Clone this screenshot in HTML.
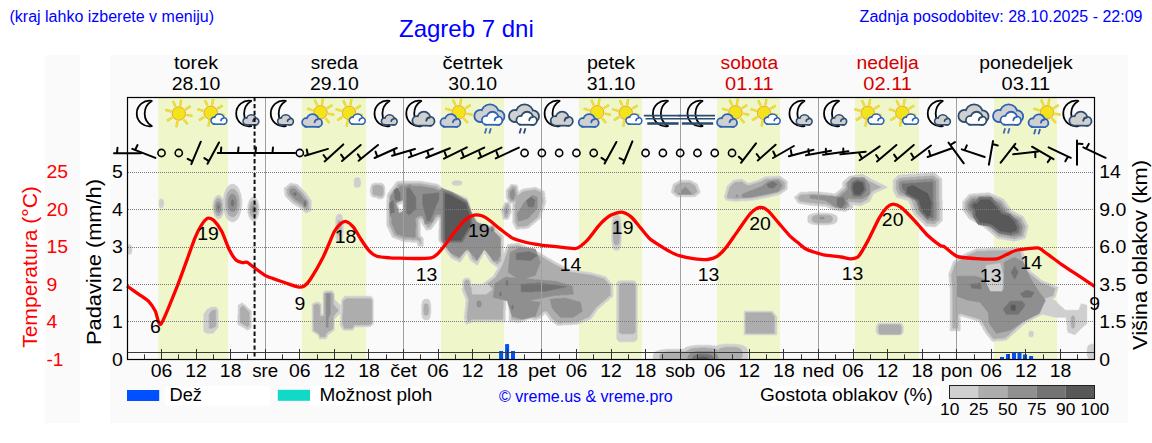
<!DOCTYPE html>
<html><head><meta charset="utf-8"><style>
html,body{margin:0;padding:0;background:#fff;overflow:hidden;width:1152px;height:443px;}
svg{display:block;font-family:"Liberation Sans",sans-serif;}
</style></head><body>
<svg width="1152" height="443" viewBox="0 0 1152 443">
<rect x="45" y="55" width="35" height="368" fill="#fafafa"/>
<rect x="110" y="55" width="1018" height="368" fill="#fafafa"/>
<rect x="158.3" y="97" width="69.7" height="262" fill="#eff6c9"/>
<rect x="301.8" y="97" width="64.3" height="262" fill="#eff6c9"/>
<rect x="441.0" y="97" width="63.0" height="262" fill="#eff6c9"/>
<rect x="579.0" y="97" width="63.0" height="262" fill="#eff6c9"/>
<rect x="717.0" y="97" width="63.0" height="262" fill="#eff6c9"/>
<rect x="855.0" y="97" width="64.0" height="262" fill="#eff6c9"/>
<rect x="994.0" y="97" width="63.0" height="262" fill="#eff6c9"/>
<path d="M1090.8,344.2 1090.2,344.8 1089.2,344.8 1088.2,345.8 1088.2,346.2 1087.8,346.8 1087.8,347.8 1087.2,348.2 1087.2,355.8 1087.8,356.2 1087.8,357.2 1088.2,357.8 1088.2,358.2 1088.8,358.8 1093.8,358.8 1093.8,344.2ZM722.8,344.2 722.2,344.8 719.8,344.8 719.2,345.2 717.8,345.2 717.2,345.8 716.8,345.8 716.2,346.2 715.2,346.2 714.8,345.8 711.8,345.8 711.2,345.2 694.8,345.2 694.2,345.8 691.2,345.8 690.8,346.2 689.2,346.2 688.8,346.8 687.8,346.8 687.2,347.2 686.2,347.2 685.8,347.8 685.2,347.8 684.2,348.8 683.8,348.8 683.2,349.2 665.2,349.2 664.8,349.8 661.2,349.8 660.8,350.2 659.2,350.2 658.8,350.8 657.8,350.8 657.2,351.2 656.2,351.2 655.2,352.2 654.8,352.2 654.2,352.8 654.2,353.2 653.8,353.8 653.8,354.2 653.2,354.8 653.2,358.8 747.2,358.8 747.2,357.8 747.8,357.2 747.8,350.8 747.2,350.2 747.2,349.2 746.8,348.8 746.8,348.2 745.2,346.8 744.8,346.8 744.2,346.2 743.8,346.2 743.2,345.8 742.8,345.8 742.2,345.2 740.8,345.2 740.2,344.8 737.8,344.8 737.2,344.2ZM1029.8,331.2 1029.2,331.8 1029.2,332.8 1028.8,333.2 1028.8,334.8 1029.2,335.2 1029.2,336.2 1029.8,336.8 1032.2,336.8 1032.8,336.2 1033.2,336.2 1033.2,331.8 1032.8,331.8 1032.2,331.2ZM878.2,323.2 877.8,323.8 877.8,324.2 876.8,325.2 876.8,325.8 876.2,326.2 876.2,332.2 877.2,333.2 877.2,333.8 878.2,334.8 901.2,334.8 902.2,333.8 902.2,333.2 903.2,332.2 903.2,326.2 902.8,325.8 902.8,325.2 901.8,324.2 901.8,323.8 901.2,323.2ZM744.2,311.2 744.2,334.8 776.8,334.8 776.8,316.2 774.2,313.8 774.2,313.2 772.2,311.2ZM211.2,307.2 210.8,307.8 210.2,307.8 209.8,308.2 209.2,308.2 208.8,308.8 208.2,308.8 207.8,309.2 207.2,309.2 206.8,309.8 206.8,310.2 205.2,311.8 205.2,312.2 204.2,313.2 204.2,313.8 203.8,314.2 203.8,331.2 204.8,332.2 205.2,332.2 206.2,333.2 213.2,333.2 214.2,332.2 214.2,331.8 216.8,329.2 216.8,328.8 218.2,327.2 218.2,310.2 217.8,309.8 217.8,309.2 216.8,308.2 216.8,307.8 216.2,307.2ZM242.2,302.8 241.8,303.2 241.2,303.2 240.2,304.2 239.8,304.2 239.2,304.8 238.8,304.8 238.2,305.2 238.2,314.2 237.8,314.8 237.8,324.2 238.2,324.8 238.8,324.8 239.2,325.2 239.8,325.2 240.8,326.2 241.2,326.2 241.8,326.8 242.2,326.8 243.2,327.8 243.8,327.8 244.2,328.2 244.8,328.2 245.8,329.2 246.2,329.2 246.8,329.8 247.2,329.8 247.8,330.2 248.2,329.8 248.8,329.8 250.2,328.2 250.8,328.2 251.2,327.8 251.2,310.8 249.2,308.8 248.8,308.8 244.8,304.8 244.2,304.8ZM424.2,299.2 422.8,300.8 422.8,301.2 422.2,301.8 422.2,303.8 421.8,304.2 421.8,314.8 422.2,315.2 422.2,317.2 422.8,317.8 422.8,318.2 424.2,319.8 428.2,319.8 429.8,318.2 429.8,317.2 430.2,316.8 430.2,314.8 430.8,314.2 430.8,304.8 430.2,304.2 430.2,302.2 429.8,301.8 429.8,300.8 428.2,299.2ZM325.2,290.8 324.2,291.8 323.8,291.8 323.2,292.2 323.2,313.8 322.8,314.2 321.8,314.2 321.2,313.8 321.2,304.2 319.2,302.2 315.2,302.2 314.8,302.8 314.2,302.8 313.2,303.8 312.8,303.8 312.2,304.2 312.2,331.2 312.8,331.8 313.2,331.8 314.2,332.8 314.8,332.8 315.8,333.8 316.2,333.8 317.2,334.8 317.8,334.8 318.2,335.2 318.2,335.8 318.8,336.2 318.8,337.8 319.2,338.2 319.2,338.8 326.2,338.8 326.2,338.2 326.8,337.8 326.8,337.2 327.2,336.8 327.2,336.2 327.8,335.8 327.8,335.2 328.8,334.2 329.2,334.2 330.8,332.8 331.2,332.8 332.8,331.2 333.2,331.2 334.2,330.2 334.2,319.2 340.2,313.2 340.8,313.8 340.8,321.2 340.2,321.8 340.2,325.8 341.2,326.8 341.2,327.2 342.8,328.8 342.8,329.2 343.8,330.2 352.8,330.2 353.2,329.8 353.2,329.2 354.8,327.8 354.8,327.2 355.2,326.8 369.8,326.8 370.2,326.2 370.8,326.2 372.2,324.8 372.8,324.8 373.2,324.2 373.2,298.8 370.8,296.2 344.8,296.2 343.2,297.8 343.2,298.2 341.8,299.8 341.8,303.8 341.2,304.2 341.2,312.2 340.8,312.8 340.2,312.2 340.2,305.2 334.2,299.2 334.2,293.2 333.2,292.2 333.2,291.8 332.2,290.8ZM619.2,280.8 618.8,281.2 618.2,281.2 617.8,281.8 617.2,281.8 616.8,282.2 616.8,339.2 619.2,341.8 634.2,341.8 635.2,340.8 635.8,340.8 637.2,339.2 637.2,284.2 635.8,282.8 635.8,282.2 634.2,280.8ZM1009.8,247.8 1009.2,248.2 987.2,248.2 986.8,248.8 976.2,248.8 975.8,249.2 975.2,249.2 974.8,249.8 974.2,249.8 973.8,250.2 972.8,250.2 972.2,250.8 971.8,250.8 971.2,251.2 970.8,251.2 970.2,251.8 969.8,251.8 969.2,252.2 968.2,252.2 967.8,252.8 967.2,252.8 966.8,253.2 966.2,253.2 965.8,253.8 965.2,253.8 964.8,254.2 964.2,254.2 963.2,255.2 962.8,255.2 961.8,256.2 961.2,256.2 960.2,257.2 959.8,257.2 958.8,258.2 958.2,258.2 957.2,259.2 956.8,259.2 955.8,260.2 955.2,260.2 954.2,261.2 953.8,261.2 953.2,261.8 953.2,262.2 952.8,262.8 952.8,263.8 952.2,264.2 952.2,264.8 951.8,265.2 951.8,266.2 951.2,266.8 951.2,267.8 950.8,268.2 950.8,269.2 950.2,269.8 950.2,270.8 949.8,271.2 949.8,271.8 949.2,272.2 949.2,273.2 948.8,273.8 948.8,276.8 949.2,277.2 949.2,282.2 949.8,282.8 949.8,287.2 950.2,287.8 950.2,330.8 960.2,330.8 960.2,316.2 960.8,315.8 961.2,316.2 962.8,316.2 963.2,316.8 964.2,316.8 964.8,317.2 965.8,317.2 966.2,317.8 967.8,317.8 968.2,318.2 969.2,318.2 969.8,318.8 970.8,318.8 971.2,319.2 972.8,319.2 973.2,319.8 974.2,319.8 974.8,320.2 975.8,320.2 976.2,320.8 977.8,320.8 978.2,321.2 978.8,321.2 979.2,321.8 979.2,322.2 979.8,322.8 979.8,323.2 980.2,323.8 980.2,324.2 981.2,325.2 981.2,325.8 981.8,326.2 981.8,326.8 982.8,327.8 982.8,328.2 983.2,328.8 983.2,329.2 983.8,329.8 983.8,330.2 984.8,331.2 984.8,331.8 985.2,332.2 985.2,332.8 986.8,334.2 986.8,334.8 988.8,336.8 988.8,337.2 991.2,339.8 991.2,340.2 992.2,341.2 995.8,341.2 996.2,340.8 1002.8,340.8 1003.2,340.2 1006.2,340.2 1008.8,337.8 1009.2,337.8 1013.8,333.2 1014.2,333.2 1018.8,328.8 1019.2,328.8 1023.2,324.8 1023.8,324.8 1026.2,322.2 1026.8,322.2 1027.2,321.8 1027.8,321.8 1028.2,321.2 1028.8,321.2 1029.2,320.8 1029.8,320.8 1030.2,320.2 1030.8,320.2 1031.2,319.8 1031.8,319.8 1032.2,319.2 1032.8,319.2 1033.2,318.8 1033.8,318.8 1034.2,318.2 1034.8,318.2 1035.2,317.8 1035.8,317.8 1036.2,317.2 1036.8,317.2 1037.2,316.8 1037.8,316.8 1038.2,316.2 1038.8,316.2 1039.2,315.8 1039.8,315.8 1040.2,315.2 1040.8,315.2 1041.2,314.8 1041.8,314.8 1042.2,314.2 1043.2,314.2 1043.8,314.8 1045.2,314.8 1045.8,315.2 1047.8,315.2 1048.2,315.8 1049.8,315.8 1050.2,316.2 1052.2,316.2 1052.8,316.8 1054.2,316.8 1054.8,317.2 1065.8,317.2 1066.2,317.8 1066.2,319.8 1066.8,320.2 1066.8,324.8 1067.2,325.2 1067.2,329.8 1067.8,330.2 1067.8,332.2 1068.2,332.2 1068.8,332.8 1069.8,332.8 1070.2,333.2 1071.2,333.2 1071.8,333.8 1072.2,333.8 1072.8,334.2 1073.8,334.2 1074.2,334.8 1074.8,334.8 1081.8,327.8 1082.2,327.8 1084.8,325.2 1085.2,325.2 1086.8,323.8 1086.8,305.2 1086.2,305.2 1085.8,304.8 1084.2,304.8 1083.8,304.2 1082.2,304.2 1081.8,303.8 1081.2,303.8 1081.2,304.2 1080.8,304.8 1080.8,305.2 1080.2,305.8 1080.2,306.8 1079.8,307.2 1079.8,308.2 1079.2,308.8 1079.2,309.2 1078.2,310.2 1065.2,310.2 1061.8,306.8 1061.2,306.8 1055.2,300.8 1054.8,300.8 1052.8,298.8 1052.8,298.2 1053.2,297.8 1054.2,297.8 1054.8,297.2 1055.2,297.2 1055.2,296.8 1055.8,296.2 1055.8,294.8 1056.2,294.2 1056.2,293.2 1056.8,292.8 1056.8,291.8 1057.2,291.2 1057.2,289.8 1057.8,289.2 1057.8,288.2 1058.2,287.8 1058.2,287.2 1057.8,287.2 1057.2,286.8 1056.8,286.8 1056.2,286.2 1055.2,286.2 1054.8,285.8 1054.2,285.8 1053.8,285.2 1052.8,285.2 1052.2,284.8 1051.8,284.8 1051.2,284.2 1050.8,284.2 1050.2,283.8 1049.2,283.8 1048.8,283.2 1048.2,283.2 1047.8,282.8 1046.8,282.8 1046.2,282.2 1045.8,282.2 1045.2,281.8 1044.2,281.8 1043.8,281.2 1043.2,281.2 1042.8,280.8 1042.2,280.8 1041.2,279.8 1040.8,279.8 1038.2,277.2 1037.8,277.2 1035.8,275.2 1035.2,275.2 1033.2,273.2 1032.8,273.2 1030.2,270.8 1029.8,270.8 1028.8,269.8 1028.8,269.2 1028.2,268.8 1028.2,267.8 1027.8,267.2 1027.8,266.2 1027.2,265.8 1027.2,264.8 1026.8,264.2 1026.8,263.2 1026.2,262.8 1026.2,262.2 1025.8,261.8 1025.8,260.8 1025.2,260.2 1025.2,259.2 1024.8,258.8 1024.8,257.8 1024.2,257.2 1024.2,256.2 1023.8,255.8 1023.8,254.8 1023.2,254.2 1023.2,252.8 1022.8,252.2 1022.8,249.8 1022.2,249.2 1022.2,247.8ZM128.2,244.8 128.2,254.2 130.2,254.2 130.8,253.8 131.2,253.8 131.2,252.8 131.8,252.2 131.8,246.8 131.2,246.2 131.2,245.8 130.2,244.8ZM615.2,214.8 614.8,215.2 614.2,215.2 613.8,215.8 613.8,216.2 613.2,216.8 613.2,217.2 612.8,217.8 612.8,219.2 612.2,219.8 612.2,222.8 611.8,223.2 611.8,241.8 612.2,242.2 612.2,245.2 612.8,245.8 612.8,247.2 613.2,247.8 613.2,248.2 613.8,248.8 613.8,249.2 614.2,249.8 614.8,249.8 615.2,250.2 617.8,250.2 618.2,249.8 618.8,249.8 619.2,249.2 619.2,248.8 619.8,248.2 619.8,247.8 620.2,247.2 620.2,245.8 620.8,245.2 620.8,242.2 621.2,241.8 621.2,223.2 620.8,222.8 620.8,219.8 620.2,219.2 620.2,217.8 619.8,217.2 619.8,216.8 619.2,216.2 619.2,215.8 618.8,215.2 618.2,215.2 617.8,214.8ZM338.2,214.2 337.8,214.8 337.2,214.8 337.2,215.2 336.8,215.8 336.8,216.2 336.2,216.8 336.2,218.2 335.8,218.8 335.8,237.2 336.2,237.8 336.2,239.2 336.8,239.8 336.8,240.2 337.2,240.8 337.2,241.2 337.8,241.2 338.2,241.8 340.8,241.8 341.8,240.8 341.8,240.2 342.2,239.8 342.2,238.2 342.8,237.8 342.8,232.8 343.2,232.2 343.2,223.8 342.8,223.2 342.8,218.2 342.2,217.8 342.2,216.2 341.8,215.8 341.8,215.2 340.8,214.2ZM815.2,213.2 814.8,213.8 812.2,213.8 811.8,214.2 810.8,214.2 810.2,214.8 809.8,214.8 809.2,215.2 808.8,215.2 808.2,215.8 808.2,216.2 807.8,216.8 807.8,221.2 808.2,221.8 808.2,222.2 808.8,222.8 809.2,222.8 809.8,223.2 810.2,223.2 810.8,223.8 811.8,223.8 812.2,224.2 814.8,224.2 815.2,224.8 829.2,224.8 829.8,224.2 832.2,224.2 832.8,223.8 833.8,223.8 834.2,223.2 835.2,223.2 836.8,221.8 836.8,220.8 837.2,220.2 837.2,217.8 836.8,217.2 836.8,216.2 835.2,214.8 834.2,214.8 833.8,214.2 832.8,214.2 832.2,213.8 829.8,213.8 829.2,213.2ZM160.2,199.2 159.2,200.2 159.2,206.8 160.2,207.8 162.2,207.8 163.2,206.8 163.2,205.2 163.8,204.8 163.8,201.8 163.2,201.2 163.2,200.2 162.8,199.8 162.8,199.2ZM252.2,197.2 251.2,198.2 250.8,198.2 250.8,198.8 249.8,199.8 249.8,200.2 249.2,200.8 249.2,201.2 248.8,201.8 248.8,202.8 248.2,203.2 248.2,204.8 247.8,205.2 247.8,212.8 248.2,213.2 248.2,214.8 248.8,215.2 248.8,216.2 249.2,216.8 249.2,217.2 249.8,217.8 249.8,218.2 250.8,219.2 250.8,219.8 251.2,219.8 252.2,220.8 254.2,220.8 254.8,220.2 255.2,220.2 256.8,218.8 256.8,218.2 257.8,217.2 257.8,216.2 258.2,215.8 258.2,214.8 258.8,214.2 258.8,211.8 259.2,211.2 259.2,206.8 258.8,206.2 258.8,203.8 258.2,203.2 258.2,202.2 257.8,201.8 257.8,200.8 256.8,199.8 256.8,199.2 255.2,197.8 254.8,197.8 254.2,197.2ZM985.8,192.8 985.2,193.2 979.2,193.2 978.8,193.8 972.8,193.8 972.2,194.2 969.2,194.2 967.8,195.8 967.8,196.2 964.2,199.8 964.2,200.2 962.8,201.8 962.8,210.2 963.8,211.2 963.8,211.8 965.2,213.2 965.2,213.8 966.8,215.2 966.8,215.8 968.2,217.2 968.2,217.8 969.8,219.2 970.2,219.2 970.8,219.8 971.2,219.8 971.8,220.2 972.2,220.2 973.2,221.2 973.8,221.2 974.2,221.8 974.8,221.8 975.2,222.2 975.8,222.2 976.2,222.8 976.8,222.8 978.2,224.2 979.2,224.2 979.8,224.8 980.2,224.8 981.2,225.8 981.8,225.8 982.2,226.2 982.8,226.2 983.2,226.8 983.8,226.8 985.8,228.8 986.2,228.8 988.8,231.2 989.2,231.2 992.2,234.2 992.8,234.2 995.2,236.8 995.8,236.8 997.2,238.2 998.2,238.2 998.8,238.8 1001.2,238.8 1001.8,239.2 1004.2,239.2 1004.8,239.8 1006.8,239.8 1007.2,240.2 1009.8,240.2 1010.2,240.8 1012.8,240.8 1013.2,241.2 1014.8,241.2 1015.2,240.8 1016.8,240.8 1017.2,240.2 1018.8,240.2 1019.2,239.8 1020.2,239.8 1020.8,239.2 1022.2,239.2 1022.8,238.8 1024.2,238.8 1024.8,238.2 1025.2,238.2 1025.2,237.2 1025.8,236.8 1025.8,235.2 1026.2,234.8 1026.2,233.2 1026.8,232.8 1026.8,231.2 1027.2,230.8 1027.2,229.2 1027.8,228.8 1027.8,227.2 1028.2,226.8 1028.2,226.2 1027.8,225.8 1027.8,225.2 1027.2,224.8 1027.2,224.2 1026.8,223.8 1026.8,223.2 1026.2,222.8 1026.2,222.2 1025.8,221.8 1025.8,221.2 1025.2,220.8 1025.2,220.2 1024.8,219.8 1024.8,219.2 1024.2,218.8 1024.2,218.2 1023.8,217.8 1023.8,217.2 1022.8,216.2 1022.2,216.2 1021.8,215.8 1021.2,215.8 1020.8,215.2 1020.2,215.2 1019.8,214.8 1019.2,214.8 1018.8,214.2 1018.2,214.2 1017.8,213.8 1017.2,213.8 1016.8,213.2 1016.2,213.2 1015.8,212.8 1015.2,212.8 1014.8,212.2 1014.2,212.2 1013.8,211.8 1013.2,211.8 1012.8,211.2 1012.2,211.2 1011.8,210.8 1011.8,210.2 1010.2,208.8 1010.2,208.2 1009.2,207.2 1009.2,206.8 1007.8,205.2 1007.8,204.8 1006.8,203.8 1006.8,203.2 1005.8,202.2 1005.8,201.8 1004.2,200.2 1004.2,199.8 1003.8,199.2 1003.2,199.2 1002.8,198.8 1002.2,198.8 1001.8,198.2 1001.2,198.2 1000.8,197.8 999.8,197.8 999.2,197.2 998.8,197.2 998.2,196.8 997.8,196.8 997.2,196.2 996.8,196.2 996.2,195.8 995.2,195.8 994.8,195.2 994.2,195.2 993.8,194.8 993.2,194.8 992.8,194.2 991.8,194.2 991.2,193.8 990.8,193.8 990.2,193.2 989.8,193.2 989.2,192.8ZM511.2,184.2 509.8,185.8 509.8,186.2 507.2,188.8 507.2,189.2 506.2,190.2 506.2,197.8 506.8,198.2 506.8,198.8 507.2,199.2 507.2,199.8 507.8,200.2 507.8,200.8 508.2,201.2 508.2,201.8 507.8,202.2 505.2,202.2 504.8,202.8 504.8,203.2 504.2,203.8 504.2,204.2 503.8,204.8 503.8,205.2 503.2,205.8 503.2,206.2 502.8,206.8 502.8,207.2 502.2,207.8 502.2,208.2 501.8,208.8 501.8,209.2 501.2,209.8 501.2,211.2 501.8,211.8 501.8,213.2 502.2,213.8 502.2,215.8 502.8,216.2 502.8,217.8 503.2,218.2 503.2,219.2 508.2,219.2 508.2,218.8 508.8,218.2 508.8,217.8 509.2,217.2 509.2,216.8 509.8,216.2 509.8,215.2 510.2,214.8 510.2,214.2 510.8,213.8 510.8,213.2 511.2,212.8 511.2,210.2 510.8,209.8 510.8,205.2 510.2,204.8 510.2,203.8 510.8,203.2 512.2,203.2 512.8,203.8 512.8,222.8 513.2,223.2 513.2,223.8 513.8,224.2 513.8,224.8 514.2,225.2 514.2,225.8 514.8,226.2 514.8,226.8 515.2,227.2 515.2,227.8 515.8,228.2 515.8,228.8 516.2,229.2 519.2,229.2 519.8,228.8 525.2,228.8 525.8,228.2 528.2,228.2 529.2,227.2 529.8,227.2 532.2,224.8 532.8,224.8 535.2,222.2 535.8,222.2 538.2,219.8 538.8,219.8 540.2,218.2 540.2,217.8 540.8,217.2 540.8,216.2 541.2,215.8 541.2,214.8 541.8,214.2 541.8,213.2 542.2,212.8 542.2,211.8 542.8,211.2 542.8,210.2 543.2,209.8 543.2,209.2 543.8,208.8 543.8,207.8 544.2,207.2 544.2,206.2 544.8,205.8 544.8,204.8 545.2,204.2 545.2,203.2 545.8,202.8 545.8,200.8 545.2,200.2 545.2,197.2 544.8,196.8 544.8,193.2 544.2,192.8 544.2,191.2 543.8,191.2 543.2,190.8 542.8,190.8 542.2,190.2 541.8,190.2 541.2,189.8 540.8,189.8 540.2,189.2 539.2,189.2 538.8,188.8 538.2,188.8 537.8,188.2 537.2,188.2 536.8,187.8 536.2,187.8 535.8,187.2 533.8,187.2 533.2,187.8 530.8,187.8 530.2,188.2 527.2,188.2 526.8,188.8 524.2,188.8 523.8,189.2 522.2,189.2 521.2,190.2 520.8,190.2 519.2,191.8 518.8,191.8 518.2,191.2 518.2,189.2 517.8,188.8 517.8,186.8 517.2,186.2 517.2,185.2 516.2,185.2 515.8,184.8 513.2,184.8 512.8,184.2ZM231.2,184.2 230.8,184.8 230.2,184.8 229.8,185.2 229.2,185.2 227.2,187.2 227.2,187.8 226.2,188.8 226.2,189.2 225.8,189.8 225.8,190.2 225.2,190.8 225.2,191.8 224.8,192.2 224.8,193.2 224.2,193.8 224.2,195.2 223.8,195.8 223.8,198.2 222.8,199.2 222.2,198.8 222.2,198.2 221.8,197.8 221.8,197.2 220.2,195.8 219.8,195.8 219.2,195.2 217.2,195.2 214.8,197.8 214.8,198.2 214.2,198.8 214.2,199.8 213.8,200.2 213.8,201.2 213.2,201.8 213.2,204.2 212.8,204.8 212.8,209.2 213.2,209.8 213.2,212.2 213.8,212.8 213.8,213.8 214.2,214.2 214.2,215.2 214.8,215.8 214.8,216.2 217.2,218.8 219.2,218.8 219.8,218.2 220.2,218.2 221.8,216.8 221.8,216.2 222.2,215.8 222.2,215.2 222.8,214.8 222.8,213.8 223.2,213.2 223.2,211.8 223.8,211.2 224.2,211.8 224.2,212.2 224.8,212.8 224.8,213.8 225.2,214.2 225.2,215.2 225.8,215.8 225.8,216.2 226.2,216.8 226.2,217.2 227.2,218.2 227.2,218.8 229.2,220.8 229.8,220.8 230.2,221.2 230.8,221.2 231.2,221.8 233.8,221.8 234.2,221.2 234.8,221.2 235.2,220.8 235.8,220.8 237.8,218.8 237.8,218.2 238.8,217.2 238.8,216.8 239.2,216.2 239.2,215.8 239.8,215.2 239.8,214.2 240.2,213.8 240.2,212.8 240.8,212.2 240.8,210.8 241.2,210.2 241.2,207.8 241.8,207.2 241.8,198.8 241.2,198.2 241.2,195.8 240.8,195.2 240.8,193.8 240.2,193.2 240.2,192.2 239.8,191.8 239.8,190.8 239.2,190.2 239.2,189.8 238.8,189.2 238.8,188.8 237.8,187.8 237.8,187.2 235.8,185.2 235.2,185.2 234.8,184.8 234.2,184.8 233.8,184.2ZM373.8,183.2 373.2,183.8 372.8,183.8 372.2,184.2 371.8,184.2 371.8,184.8 371.2,185.2 371.2,185.8 370.8,186.2 370.8,187.8 370.2,188.2 370.2,192.2 370.8,192.8 370.8,194.8 371.2,195.2 371.2,195.8 372.2,196.8 372.8,196.8 373.2,197.2 375.2,197.2 375.8,197.8 376.8,197.8 377.2,198.2 377.8,198.2 378.2,198.8 381.8,198.8 382.2,198.2 382.8,198.2 384.2,196.8 384.2,195.2 384.8,194.8 384.8,187.2 384.2,186.8 384.2,185.2 382.8,183.8 382.2,183.8 381.8,183.2ZM290.2,183.2 288.8,184.8 288.2,184.8 285.8,187.2 285.2,187.2 284.2,188.2 284.2,190.2 284.8,190.8 284.8,194.2 285.2,194.8 285.2,196.2 292.8,203.8 293.2,203.8 293.8,204.2 294.2,204.2 295.2,205.2 295.8,205.2 296.8,206.2 297.2,206.2 297.8,206.8 298.2,206.8 299.2,207.8 299.8,207.8 301.2,209.2 301.8,209.2 304.2,211.8 304.8,211.8 306.2,213.2 306.8,212.8 307.2,212.8 307.8,212.2 308.2,212.2 309.2,211.2 309.8,211.2 310.2,210.8 310.8,210.8 311.2,210.2 311.2,200.2 310.2,199.2 310.2,198.8 308.8,197.2 308.8,196.8 307.2,195.2 307.2,194.8 305.8,193.2 305.8,192.8 297.2,184.2 295.8,184.2 295.2,183.8 292.2,183.8 291.8,183.2ZM397.2,181.2 396.2,182.2 396.2,182.8 394.8,184.2 394.8,184.8 393.2,186.2 393.2,186.8 391.2,188.8 391.2,189.2 389.8,190.8 389.8,191.2 388.2,192.8 388.2,193.2 387.2,194.2 387.2,199.8 386.8,200.2 386.8,225.8 387.2,226.2 387.2,226.8 387.8,227.2 387.8,227.8 388.2,228.2 388.2,228.8 388.8,229.2 388.8,229.8 389.2,230.2 389.2,231.2 389.8,231.8 389.8,232.2 390.2,232.8 390.2,233.2 390.8,233.8 390.8,234.2 391.2,234.8 391.2,235.2 391.8,235.8 391.8,236.2 392.2,236.8 392.2,237.2 392.8,237.2 393.2,237.8 394.2,237.8 394.8,238.2 395.2,238.2 395.8,238.8 396.8,238.8 397.2,239.2 398.2,239.2 398.8,239.8 399.2,239.8 399.8,240.2 400.8,240.2 401.2,240.8 402.2,240.8 402.8,241.2 403.2,241.2 403.8,241.8 410.8,241.8 411.2,242.2 416.8,242.2 417.2,242.8 417.2,243.2 417.8,243.8 417.8,245.2 418.2,245.8 418.2,246.2 423.2,246.2 423.2,238.2 420.2,235.2 420.2,220.8 420.8,220.2 421.2,220.8 421.2,221.8 421.8,222.2 421.8,223.2 422.2,223.8 422.2,224.2 422.8,224.8 422.8,225.2 423.8,226.2 423.8,226.8 424.8,227.8 424.8,228.2 425.8,229.2 425.8,229.8 426.2,230.2 427.2,230.2 427.8,229.8 429.8,229.8 430.2,229.2 431.2,229.2 431.8,228.8 431.8,228.2 433.2,226.8 433.2,226.2 434.2,225.2 434.2,224.8 435.8,223.2 435.8,222.8 436.8,221.8 436.8,221.2 438.2,219.8 438.2,219.2 438.8,218.8 439.2,219.2 439.2,228.8 438.8,229.2 438.8,240.2 439.2,240.8 439.2,241.2 440.2,242.2 440.2,242.8 441.2,243.8 441.2,244.2 441.8,244.8 441.8,245.2 442.8,246.2 442.8,246.8 443.8,247.8 443.8,248.2 444.8,249.2 444.8,249.8 445.8,250.8 445.8,251.2 447.2,252.8 447.2,253.2 448.8,254.8 448.8,255.2 450.2,256.8 450.2,257.2 451.2,258.2 451.8,258.2 452.2,258.8 452.8,258.8 453.2,259.2 453.8,259.2 454.2,259.8 454.8,259.8 455.2,260.2 456.2,260.2 456.8,260.8 457.2,260.8 457.8,261.2 458.2,261.2 458.8,261.8 459.2,261.8 459.8,262.2 460.2,262.2 460.8,261.8 460.8,261.2 461.8,260.2 461.8,259.8 463.2,258.2 463.2,257.8 464.2,256.8 464.2,256.2 465.2,255.2 465.2,254.8 467.2,252.8 467.8,253.2 467.8,254.2 468.2,254.8 468.2,255.2 468.8,255.8 468.8,256.8 469.2,257.2 469.2,258.2 469.8,258.8 469.8,259.2 470.2,259.8 470.2,260.2 470.8,260.8 471.2,260.8 472.8,262.2 473.2,262.2 474.2,263.2 474.8,263.2 476.2,264.8 476.8,264.8 477.2,265.2 477.8,264.8 477.8,264.2 478.2,263.8 478.2,263.2 478.8,262.8 478.8,262.2 479.2,261.8 479.2,261.2 479.8,260.8 479.8,260.2 480.2,259.8 480.2,259.2 481.2,258.2 481.2,257.8 481.8,257.2 481.8,256.8 482.2,256.2 482.2,255.8 482.8,255.2 482.8,254.8 483.2,254.2 483.2,253.8 483.8,253.2 483.8,252.8 484.2,252.2 484.8,252.8 484.8,253.2 485.2,253.8 485.2,254.2 486.2,255.2 486.2,255.8 486.8,256.2 486.8,256.8 487.8,257.8 487.8,258.2 488.2,258.8 488.2,259.2 489.2,260.2 489.2,260.8 489.8,261.2 489.8,261.8 490.8,262.8 491.2,262.8 492.8,264.2 493.2,264.2 494.2,265.2 494.8,265.2 496.2,266.8 496.8,266.8 497.2,267.2 497.8,266.8 498.2,267.2 498.2,267.8 497.8,268.2 497.8,268.8 497.2,269.2 497.2,269.8 496.2,270.8 496.2,271.2 495.8,271.8 495.8,272.2 494.8,273.2 494.8,273.8 494.2,274.2 494.2,274.8 493.8,275.2 493.8,275.8 492.8,276.8 492.2,276.8 490.8,278.2 490.2,278.2 488.8,279.8 488.2,279.8 487.2,280.8 486.8,280.8 485.2,282.2 484.8,282.2 483.2,283.8 482.8,283.8 482.2,284.2 471.2,284.2 470.8,283.8 470.8,281.2 470.2,280.8 470.2,279.8 468.8,278.2 464.8,278.2 463.2,279.8 463.2,281.2 462.8,281.8 462.8,287.8 462.2,288.2 462.2,290.8 462.8,291.2 462.8,291.8 463.2,292.2 463.2,293.2 463.8,293.8 463.8,294.2 464.2,294.8 464.2,295.8 464.8,296.2 464.8,296.8 465.2,297.2 465.2,298.2 465.8,298.8 465.8,299.2 466.2,299.8 466.2,302.2 465.8,302.8 465.8,306.8 465.2,307.2 465.2,310.8 464.8,311.2 464.8,315.2 464.2,315.8 464.2,318.2 464.8,318.8 464.8,319.8 465.2,320.2 465.2,321.8 465.8,322.2 465.8,323.2 466.2,323.8 466.2,324.2 466.8,324.2 467.2,323.8 467.8,323.8 468.2,323.2 469.2,323.2 469.8,322.8 470.8,322.8 471.2,322.2 471.8,322.2 472.2,321.8 505.2,321.8 505.2,310.2 505.8,309.8 505.8,300.8 506.2,300.2 506.8,300.2 507.8,301.2 507.8,302.2 508.2,302.8 508.2,304.2 508.8,304.8 508.8,309.8 509.2,310.2 509.2,321.8 514.8,321.8 515.2,322.2 520.8,322.2 521.2,321.8 522.2,321.8 522.8,321.2 523.8,321.2 524.2,320.8 525.2,320.8 525.8,320.2 526.2,320.2 526.8,319.8 527.8,319.8 528.2,319.2 529.2,319.2 529.8,318.8 530.8,318.8 531.2,319.2 532.8,319.2 533.2,319.8 534.2,319.8 534.8,320.2 535.8,320.2 536.2,319.8 536.8,319.8 537.2,319.2 538.2,319.2 538.8,318.8 539.2,318.8 539.8,318.2 540.2,318.2 545.2,313.2 545.8,313.8 545.8,314.2 547.2,315.8 547.2,316.2 548.2,317.2 548.2,317.8 549.8,319.2 549.8,319.8 550.8,320.8 551.2,320.8 552.8,322.2 553.2,322.2 554.2,323.2 554.8,323.2 556.2,324.8 556.8,324.8 557.2,325.2 562.2,325.2 562.8,324.8 572.2,324.8 572.8,324.2 577.8,324.2 578.2,323.8 578.8,323.8 579.2,323.2 580.2,323.2 580.8,322.8 581.2,322.8 581.8,322.2 582.8,322.2 583.2,321.8 584.2,321.8 584.8,321.2 585.2,321.2 585.8,320.8 586.8,320.8 587.2,320.2 587.8,320.2 588.2,319.8 589.2,319.8 589.8,319.2 590.2,319.2 590.8,318.8 591.2,318.8 591.8,318.2 591.8,317.8 592.8,316.8 592.8,316.2 593.8,315.2 593.8,314.8 595.2,313.2 595.2,312.8 596.2,311.8 596.2,311.2 597.2,310.2 597.2,309.8 599.2,307.8 599.8,307.8 603.2,304.2 603.8,304.2 606.8,301.2 607.2,301.2 610.8,297.8 611.2,297.8 612.8,296.2 612.8,285.2 611.8,284.2 611.8,283.8 609.2,281.2 609.2,280.8 606.8,278.2 606.8,277.8 605.8,276.8 605.2,276.8 604.8,276.2 603.2,276.2 602.8,275.8 601.2,275.8 600.8,275.2 599.8,275.2 599.2,274.8 597.8,274.8 597.2,274.2 596.2,274.2 595.8,273.8 594.2,273.8 593.8,273.2 592.2,273.2 591.8,272.8 589.8,272.8 589.2,272.2 586.2,272.2 585.8,271.8 582.8,271.8 582.2,271.2 579.8,271.2 579.2,270.8 576.2,270.8 575.8,270.2 572.8,270.2 572.2,269.8 570.2,269.8 569.8,269.2 569.2,269.2 568.8,268.8 568.2,268.8 567.8,268.2 567.2,268.2 566.8,267.8 566.2,267.8 565.8,267.2 565.2,267.2 564.8,266.8 564.2,266.8 563.8,266.2 563.2,266.2 562.8,265.8 562.2,265.8 561.8,265.2 561.2,265.2 560.8,264.8 560.2,264.8 559.8,264.2 559.2,264.2 558.8,263.8 558.2,263.8 557.8,263.2 557.2,263.2 556.8,262.8 556.2,262.8 555.8,262.2 555.2,262.2 554.2,261.2 553.8,261.2 553.2,260.8 552.8,260.8 551.8,259.8 551.2,259.8 550.8,259.2 550.2,259.2 549.8,258.8 549.2,258.8 548.2,257.8 547.8,257.8 547.2,257.2 546.8,257.2 545.8,256.2 545.2,256.2 544.8,255.8 544.2,255.8 543.2,254.8 542.8,254.8 542.2,254.2 541.8,254.2 541.2,253.8 540.8,253.8 540.2,253.2 539.8,253.2 539.2,252.8 538.8,252.8 538.2,252.2 537.8,252.2 537.2,251.8 536.8,251.8 535.8,250.8 535.8,250.2 535.2,249.8 535.2,249.2 533.8,249.2 533.2,248.8 530.8,248.8 530.2,248.2 529.8,248.2 529.2,247.8 528.8,247.8 528.2,247.2 527.8,247.2 527.2,246.8 526.2,246.8 525.8,246.2 525.2,246.2 524.8,245.8 523.8,245.8 523.2,245.2 522.8,245.2 522.2,244.8 521.8,244.8 521.2,244.2 520.2,244.2 519.8,243.8 519.2,243.8 518.8,243.2 516.2,243.2 515.8,243.8 511.2,243.8 510.8,244.2 508.2,244.2 507.8,244.8 507.8,245.2 507.2,245.8 507.2,246.2 506.8,246.8 506.8,247.2 506.2,247.8 506.2,248.2 505.8,248.8 505.8,249.2 505.2,249.8 505.2,250.8 504.8,251.2 504.8,252.2 504.2,252.8 504.2,253.2 503.8,253.8 503.2,253.2 503.2,236.2 500.8,233.8 500.2,233.8 494.8,228.2 494.8,227.2 494.2,226.8 494.2,226.2 493.2,225.2 490.8,225.2 490.2,225.8 489.8,225.8 489.2,225.2 488.2,225.2 487.8,224.8 486.2,224.8 485.8,224.2 484.8,224.2 484.2,223.8 482.8,223.8 482.2,223.2 481.2,223.2 480.8,222.8 479.2,222.8 478.8,222.2 478.2,222.2 477.2,221.2 477.2,220.8 475.8,219.2 475.8,218.8 474.2,217.2 474.2,216.8 472.8,215.2 472.8,214.8 472.2,214.2 472.2,213.8 471.8,213.2 471.8,211.8 471.2,211.2 471.2,209.8 470.8,209.2 470.8,207.8 470.2,207.2 470.2,205.8 469.8,205.2 469.8,204.8 469.2,204.2 469.2,203.2 468.8,202.8 468.8,201.8 468.2,201.2 468.2,200.8 467.8,200.2 467.8,199.2 467.2,198.8 467.2,198.2 466.8,198.2 466.2,197.8 465.8,197.8 465.2,197.2 464.2,197.2 463.8,196.8 463.2,196.8 462.8,196.2 462.2,196.2 461.8,195.8 460.8,195.8 460.2,195.2 459.8,195.2 459.2,194.8 458.2,194.8 457.8,194.2 457.2,194.2 456.8,193.8 455.8,193.8 455.2,193.2 454.2,193.2 453.8,192.8 452.8,192.8 452.2,192.2 451.8,192.2 451.2,191.8 450.2,191.8 449.8,191.2 449.2,191.2 448.8,190.8 447.8,190.8 447.2,190.2 446.2,190.2 445.8,189.8 444.8,189.8 444.2,189.2 443.8,189.2 441.8,187.2 441.2,187.2 439.2,185.2 438.8,185.2 437.8,184.2 436.8,184.2 436.2,183.8 433.8,183.8 433.2,183.2 430.8,183.2 430.2,182.8 427.8,182.8 427.2,182.2 424.8,182.2 424.2,181.8 421.8,181.8 421.2,181.2ZM497.8,266.8 498.2,266.2 498.8,266.8 498.2,267.2ZM401.2,203.8 401.8,203.2 402.2,203.2 402.8,203.8 402.8,206.2 403.2,206.8 403.2,209.2 402.8,209.8 402.2,209.8 401.8,210.2 401.2,210.2 400.8,210.8 400.2,210.8 399.8,210.2 399.8,209.8 399.2,209.2 399.2,208.8 398.8,208.2 398.8,207.2 398.2,206.8 398.2,206.2 397.8,205.8 397.8,205.2 398.2,204.8 398.8,204.8 399.2,204.2 400.2,204.2 400.8,203.8ZM454.2,180.8 453.8,181.2 452.8,181.2 452.2,181.8 452.2,184.2 452.8,184.8 453.8,184.8 454.2,185.2 459.8,185.2 460.2,184.8 461.2,184.8 461.8,184.2 461.8,181.8 461.2,181.2 460.2,181.2 459.8,180.8ZM680.2,180.2 679.8,180.8 679.2,180.8 678.8,181.2 678.2,181.2 677.8,181.8 677.2,181.8 676.2,182.8 675.8,182.8 675.2,183.2 674.8,183.2 674.2,183.8 673.8,183.8 673.2,184.2 673.2,184.8 672.8,185.2 672.8,186.8 672.2,187.2 672.2,188.8 671.8,189.2 671.8,190.8 671.2,191.2 671.2,192.2 673.2,194.2 673.8,194.2 676.2,196.8 695.2,196.8 697.2,194.8 697.8,194.8 700.2,192.2 700.2,191.8 699.8,191.2 699.8,190.8 699.2,190.2 699.2,189.2 698.8,188.8 698.8,187.8 698.2,187.2 698.2,186.8 697.8,186.2 697.8,185.2 697.2,184.8 697.2,184.2 696.8,183.8 696.2,183.8 695.8,183.2 695.2,183.2 694.8,182.8 694.2,182.8 693.2,181.8 692.8,181.8 692.2,181.2 691.8,181.2 691.2,180.8 690.8,180.8 690.2,180.2ZM355.8,177.8 354.2,179.2 354.2,185.8 354.8,186.2 354.8,186.8 355.2,186.8 355.8,187.2 359.2,187.2 360.2,186.2 360.2,184.8 360.8,184.2 360.8,181.2 360.2,180.8 360.2,179.2 358.8,177.8ZM773.2,176.2 772.8,176.8 765.2,176.8 764.8,177.2 764.2,177.2 763.8,177.8 763.2,177.8 762.8,178.2 762.2,178.2 761.8,178.8 761.2,178.8 760.8,179.2 760.2,179.2 759.8,179.8 759.2,179.8 758.8,180.2 757.8,180.2 757.2,180.8 756.2,180.8 755.8,181.2 754.2,181.2 753.8,181.8 752.8,181.8 752.2,182.2 751.2,182.2 750.8,182.8 749.2,182.8 748.8,183.2 748.2,183.2 747.8,182.8 747.2,182.8 746.2,181.8 745.8,181.8 744.8,180.8 744.2,180.8 743.2,179.8 742.8,179.8 742.2,179.2 740.2,179.2 739.8,179.8 735.8,179.8 735.2,180.2 733.2,180.2 727.2,186.2 727.2,186.8 726.8,187.2 726.8,188.8 726.2,189.2 726.2,190.8 725.8,191.2 725.8,192.2 725.2,192.8 725.2,194.2 724.8,194.8 724.8,196.2 724.2,196.8 724.2,197.2 724.8,197.8 724.8,198.2 725.8,199.2 725.8,199.8 726.2,200.2 728.2,200.2 728.8,200.8 732.8,200.8 733.2,201.2 739.2,201.2 739.8,200.8 747.8,200.8 748.2,200.2 753.2,200.2 753.8,199.8 756.2,199.8 756.8,199.2 758.8,199.2 759.2,198.8 761.2,198.8 761.8,198.2 764.2,198.2 764.8,197.8 766.8,197.8 767.2,197.2 769.2,197.2 769.8,196.8 771.2,196.8 771.8,196.2 773.2,196.2 773.8,195.8 775.2,195.8 775.8,195.2 777.2,195.2 777.8,194.8 779.2,194.8 779.8,194.2 780.2,194.2 780.8,193.8 781.2,193.8 782.8,192.2 783.2,192.2 784.2,191.2 784.8,191.2 786.2,189.8 786.8,189.8 787.2,189.2 787.2,181.2 786.8,180.8 786.2,180.8 784.8,179.2 784.2,179.2 783.2,178.2 782.8,178.2 781.2,176.8 780.8,176.8 780.2,176.2ZM861.2,174.2 860.8,174.8 857.8,174.8 857.2,175.2 854.8,175.2 854.2,175.8 851.2,175.8 850.8,176.2 849.2,176.2 846.2,179.2 845.8,179.2 842.8,182.2 842.8,187.2 841.2,188.8 840.8,188.8 837.8,191.8 837.2,191.8 835.2,193.8 832.2,193.8 831.8,193.2 828.2,193.2 827.8,192.8 823.2,192.8 822.8,192.2 818.2,192.2 817.8,191.8 808.2,191.8 807.8,192.2 800.2,192.2 798.8,193.8 798.2,193.8 795.8,196.2 795.2,196.2 794.2,197.2 794.8,197.8 794.8,198.2 795.8,199.2 795.8,199.8 796.8,200.8 796.8,201.2 797.8,202.2 797.8,202.8 798.2,203.2 799.8,203.2 800.2,203.8 802.8,203.8 803.2,204.2 805.8,204.2 806.2,204.8 808.8,204.8 809.2,205.2 813.8,205.2 814.2,205.8 821.2,205.8 821.8,206.2 825.8,206.2 826.2,206.8 826.8,206.8 827.2,207.2 828.2,207.2 828.8,207.8 829.2,207.8 829.8,208.2 830.8,208.2 831.2,208.8 831.8,208.8 832.2,209.2 833.2,209.2 833.8,209.8 834.2,209.8 834.8,210.2 837.8,210.2 838.2,210.8 842.8,210.8 843.2,211.2 845.8,211.2 846.2,210.8 846.8,210.8 847.2,210.2 847.8,210.2 848.2,209.8 848.8,209.8 849.2,209.2 849.8,209.2 850.2,208.8 850.8,208.8 851.2,208.2 851.8,208.2 852.2,207.8 852.8,207.8 853.2,207.2 853.2,206.8 852.8,206.2 852.8,205.8 852.2,205.2 852.8,204.8 854.2,204.8 854.8,205.2 858.8,205.2 859.2,205.8 861.2,205.8 861.8,205.2 862.2,205.2 862.8,204.8 863.2,204.8 863.8,204.2 864.2,204.2 864.8,203.8 865.2,203.8 865.8,203.2 866.2,203.2 866.8,202.8 867.2,202.8 867.8,202.2 868.2,202.2 868.8,201.8 869.2,201.8 869.8,201.2 869.8,200.8 870.2,200.2 870.2,199.8 870.8,199.2 870.8,198.8 871.2,198.2 871.2,197.8 871.8,197.2 871.8,196.8 872.2,196.2 872.2,195.8 872.8,195.2 872.8,194.8 874.2,193.2 874.8,193.2 875.2,192.8 875.8,192.8 876.2,192.2 876.8,192.2 877.2,191.8 877.8,191.8 878.2,191.2 878.8,191.2 879.2,190.8 880.2,190.8 880.8,190.2 881.2,190.2 881.8,189.8 882.2,189.8 882.8,189.2 883.2,189.2 883.8,188.8 884.2,188.8 884.8,188.2 885.2,188.2 885.8,187.8 886.2,187.8 886.8,187.2 887.2,187.2 886.8,186.8 886.2,186.8 885.8,186.2 885.2,186.2 884.8,185.8 884.2,185.8 883.8,185.2 883.2,185.2 882.8,184.8 882.2,184.8 881.8,184.2 881.2,184.2 880.8,183.8 880.2,183.8 879.8,183.2 879.2,183.2 878.8,182.8 878.2,182.8 877.8,182.2 877.2,182.2 876.8,181.8 876.2,181.8 875.8,181.2 875.2,181.2 874.8,180.8 874.2,180.8 873.8,180.2 873.2,180.2 872.8,179.8 872.2,179.8 871.8,179.2 871.2,179.2 870.8,178.8 870.2,178.8 869.2,177.8 868.8,177.8 868.2,177.2 867.8,177.2 867.2,176.8 866.8,176.8 865.8,175.8 865.2,175.8 864.8,175.2 864.2,175.2 863.8,174.8 863.2,174.8 862.8,174.2ZM930.8,172.8 930.2,173.2 923.8,173.2 923.2,173.8 916.8,173.8 916.2,174.2 909.2,174.2 908.8,174.8 902.2,174.8 901.8,175.2 898.2,175.2 893.2,180.2 893.2,190.8 893.8,191.2 893.8,191.8 894.2,192.2 894.2,192.8 894.8,193.2 894.8,193.8 895.2,194.2 895.2,194.8 895.8,195.2 895.8,195.8 896.2,196.2 896.2,196.8 896.8,197.2 897.2,197.2 897.8,197.8 899.2,197.8 899.8,198.2 900.8,198.2 901.2,198.8 902.8,198.8 903.2,199.2 904.2,199.2 904.8,199.8 905.8,199.8 906.2,200.2 907.8,200.2 909.2,201.8 909.2,202.8 909.8,203.2 909.8,203.8 910.2,204.2 910.2,205.2 910.8,205.8 910.8,206.8 911.2,207.2 911.2,207.8 911.8,208.2 911.8,209.2 912.2,209.8 912.2,210.8 912.8,211.2 912.8,211.8 913.2,212.2 913.2,213.2 913.8,213.8 913.8,214.2 925.8,226.2 930.8,226.2 931.2,226.8 935.8,226.8 938.8,223.8 939.2,223.8 942.2,220.8 942.2,200.2 941.8,199.8 941.8,178.8 940.8,177.8 940.2,177.8 938.2,175.8 937.8,175.8 935.8,173.8 935.2,173.8 934.2,172.8Z" fill="#cfcfcf" fill-rule="evenodd" stroke="#cfcfcf" stroke-width="0.6"/>
<path d="M724.8,347.2 724.2,347.8 722.2,347.8 721.8,348.2 720.8,348.2 720.2,348.8 719.8,348.8 718.2,350.2 717.8,350.2 717.2,349.8 716.8,349.8 716.2,349.2 715.2,349.2 714.8,348.8 712.8,348.8 712.2,348.2 707.2,348.2 706.8,347.8 699.2,347.8 698.8,348.2 693.8,348.2 693.2,348.8 691.2,348.8 690.8,349.2 689.8,349.2 689.2,349.8 688.8,349.8 688.2,350.2 687.8,350.2 686.8,351.2 686.2,351.2 685.2,352.2 683.8,352.2 683.2,351.8 666.8,351.8 666.2,352.2 664.2,352.2 663.8,352.8 662.8,352.8 662.2,353.2 661.8,353.2 661.2,353.8 660.8,353.8 660.8,354.2 660.2,354.8 660.2,355.2 659.8,355.8 659.8,358.2 660.2,358.8 740.8,358.8 741.8,357.8 741.8,357.2 742.2,356.8 742.2,351.2 741.8,350.8 741.8,350.2 740.2,348.8 739.8,348.8 739.2,348.2 738.2,348.2 737.8,347.8 735.8,347.8 735.2,347.2ZM879.8,324.8 879.2,325.2 879.2,325.8 878.8,326.2 878.8,332.2 879.2,332.8 879.2,333.2 879.8,333.8 879.8,334.2 900.2,334.2 900.2,333.8 900.8,333.2 900.8,332.8 901.2,332.2 901.2,326.8 900.8,326.2 900.8,325.8 900.2,325.2 900.2,324.8ZM1072.8,315.8 1072.2,316.2 1071.8,316.2 1071.8,317.2 1071.2,317.8 1071.2,326.2 1071.8,326.8 1071.8,327.8 1072.2,327.8 1072.8,328.2 1073.2,328.2 1073.8,327.8 1074.2,327.8 1074.2,326.8 1074.8,326.2 1074.8,317.8 1074.2,317.2 1074.2,316.2 1073.8,316.2 1073.2,315.8ZM745.8,312.8 745.8,333.2 774.2,333.2 774.2,316.2 772.8,314.8 772.8,314.2 771.2,312.8ZM212.2,310.2 211.2,311.2 211.2,311.8 209.8,313.2 209.8,313.8 209.2,314.2 209.2,328.2 212.2,328.2 212.8,327.8 213.2,327.8 213.8,327.2 214.2,327.2 214.8,326.8 215.2,326.8 215.8,326.2 215.8,310.2ZM242.8,305.8 240.2,308.2 240.2,322.2 240.8,322.8 241.2,322.8 242.2,323.8 242.8,323.8 243.8,324.8 244.2,324.8 245.2,325.8 245.8,325.8 246.8,326.8 247.2,326.8 247.8,327.2 248.2,326.8 248.2,326.2 249.2,325.2 249.2,312.2ZM425.2,303.8 424.2,304.8 424.2,306.2 423.8,306.8 423.8,312.2 424.2,312.8 424.2,314.2 425.2,315.2 426.8,315.2 427.2,314.8 427.8,314.8 427.8,314.2 428.2,313.8 428.2,311.8 428.8,311.2 428.8,307.8 428.2,307.2 428.2,305.2 427.8,304.8 427.8,304.2 427.2,304.2 426.8,303.8ZM346.2,298.8 344.8,300.2 344.2,300.2 343.2,301.2 343.2,312.8 342.8,313.2 342.8,324.8 343.2,325.2 343.2,325.8 343.8,326.2 343.8,326.8 344.2,327.2 344.2,327.8 344.8,328.2 352.2,328.2 352.8,327.8 352.8,327.2 353.2,326.8 353.2,326.2 353.8,325.8 353.8,325.2 354.2,324.8 369.2,324.8 369.8,324.2 370.2,324.2 370.8,323.8 371.2,323.8 371.8,323.2 371.8,300.2 370.2,298.8ZM326.2,292.8 325.8,293.2 325.2,293.2 324.8,293.8 324.2,293.8 324.2,315.8 323.8,316.2 320.2,316.2 319.8,315.8 319.8,305.8 318.2,304.2 315.8,304.2 315.2,304.8 314.8,304.8 314.2,305.2 313.8,305.2 313.8,330.2 314.2,330.8 314.8,330.8 315.8,331.8 316.2,331.8 317.2,332.8 317.8,332.8 318.8,333.8 319.2,333.8 319.8,334.2 319.8,335.2 320.2,335.8 320.2,336.8 325.2,336.8 325.2,336.2 325.8,335.8 325.8,334.2 326.2,333.8 326.2,333.2 326.8,332.8 327.2,332.8 328.8,331.2 329.2,331.2 330.2,330.2 330.8,330.2 332.2,328.8 332.8,328.8 333.2,328.2 333.2,316.2 335.2,314.2 335.2,313.8 337.8,311.2 337.8,309.2 335.2,306.8 335.2,306.2 333.2,304.2 333.2,294.2 332.2,293.2 331.8,293.2 331.2,292.8ZM621.2,283.2 619.2,285.2 619.2,332.2 619.8,332.8 620.2,332.8 621.2,333.8 633.2,333.8 633.8,333.2 634.2,333.2 635.2,332.2 635.2,285.2 633.2,283.2ZM1009.8,250.2 1009.2,250.8 987.2,250.8 986.8,251.2 976.8,251.2 976.2,251.8 975.8,251.8 975.2,252.2 974.2,252.2 973.8,252.8 973.2,252.8 972.8,253.2 972.2,253.2 971.8,253.8 971.2,253.8 970.8,254.2 969.8,254.2 969.2,254.8 968.8,254.8 968.2,255.2 967.8,255.2 967.2,255.8 966.8,255.8 966.2,256.2 965.8,256.2 964.8,257.2 964.2,257.2 963.2,258.2 962.8,258.2 961.8,259.2 961.2,259.2 960.2,260.2 959.8,260.2 958.8,261.2 958.2,261.2 957.2,262.2 956.8,262.2 955.2,263.8 955.2,264.8 954.8,265.2 954.8,265.8 954.2,266.2 954.2,267.2 953.8,267.8 953.8,268.8 953.2,269.2 953.2,270.2 952.8,270.8 952.8,271.8 952.2,272.2 952.2,272.8 951.8,273.2 951.8,274.2 951.2,274.8 951.2,275.8 951.8,276.2 951.8,281.2 952.2,281.8 952.2,286.2 952.8,286.8 952.8,328.2 957.8,328.2 957.8,315.2 959.2,313.8 960.2,313.8 960.8,313.2 961.2,313.8 962.8,313.8 963.2,314.2 964.2,314.2 964.8,314.8 965.8,314.8 966.2,315.2 967.8,315.2 968.2,315.8 969.2,315.8 969.8,316.2 970.8,316.2 971.2,316.8 972.8,316.8 973.2,317.2 974.2,317.2 974.8,317.8 975.8,317.8 976.2,318.2 977.8,318.2 978.2,318.8 979.2,318.8 979.8,319.2 980.2,319.2 981.8,320.8 981.8,321.2 982.2,321.8 982.2,322.2 982.8,322.8 982.8,323.2 983.8,324.2 983.8,324.8 984.2,325.2 984.2,325.8 985.2,326.8 985.2,327.2 985.8,327.8 985.8,328.2 986.2,328.8 986.2,329.2 987.2,330.2 987.2,330.8 987.8,331.2 987.8,331.8 989.2,333.2 989.2,333.8 991.2,335.8 991.2,336.2 993.8,338.8 995.8,338.8 996.2,338.2 1002.8,338.2 1003.2,337.8 1005.2,337.8 1007.2,335.8 1007.8,335.8 1012.2,331.2 1012.8,331.2 1017.2,326.8 1017.8,326.8 1021.8,322.8 1022.2,322.8 1024.2,320.8 1024.8,320.8 1025.2,320.2 1025.8,320.2 1026.2,319.8 1026.8,319.8 1027.2,319.2 1027.8,319.2 1028.2,318.8 1028.8,318.8 1029.2,318.2 1029.8,318.2 1030.2,317.8 1030.8,317.8 1031.2,317.2 1031.8,317.2 1032.2,316.8 1032.8,316.8 1033.2,316.2 1033.8,316.2 1034.2,315.8 1034.8,315.8 1035.2,315.2 1035.8,315.2 1036.2,314.8 1036.8,314.8 1037.2,314.2 1037.8,314.2 1038.2,313.8 1038.8,313.8 1040.2,312.2 1040.2,310.8 1040.8,310.2 1040.8,309.8 1041.2,309.2 1041.2,308.8 1041.8,308.2 1041.8,307.8 1042.2,307.2 1042.2,306.2 1042.8,305.8 1042.8,305.2 1043.2,304.8 1043.2,304.2 1043.8,303.8 1043.8,303.2 1044.2,302.8 1044.2,302.2 1044.8,301.8 1044.8,301.2 1045.2,300.8 1045.2,300.2 1044.2,299.2 1045.8,297.8 1046.8,297.8 1047.2,297.2 1048.2,297.2 1048.8,296.8 1049.8,296.8 1050.2,296.2 1051.2,296.2 1051.8,295.8 1052.8,295.8 1053.2,295.2 1053.2,293.8 1053.8,293.2 1053.8,292.2 1054.2,291.8 1054.2,290.8 1054.8,290.2 1054.8,288.2 1053.8,288.2 1053.2,287.8 1052.8,287.8 1052.2,287.2 1051.2,287.2 1050.8,286.8 1050.2,286.8 1049.8,286.2 1049.2,286.2 1048.8,285.8 1047.8,285.8 1047.2,285.2 1046.8,285.2 1046.2,284.8 1045.2,284.8 1044.8,284.2 1044.2,284.2 1043.8,283.8 1042.8,283.8 1042.2,283.2 1041.8,283.2 1041.2,282.8 1040.8,282.8 1039.8,281.8 1039.2,281.8 1036.8,279.2 1036.2,279.2 1034.2,277.2 1033.8,277.2 1031.8,275.2 1031.2,275.2 1028.8,272.8 1028.2,272.8 1027.2,271.8 1027.2,271.2 1026.8,270.8 1026.8,269.8 1026.2,269.2 1026.2,268.8 1025.8,268.2 1025.8,267.8 1025.2,267.2 1025.2,266.8 1024.8,266.2 1024.8,265.2 1024.2,264.8 1024.2,264.2 1023.8,263.8 1023.8,263.2 1023.2,262.8 1023.2,261.8 1022.8,261.2 1022.8,260.2 1022.2,259.8 1022.2,258.8 1021.8,258.2 1021.8,257.2 1021.2,256.8 1021.2,255.8 1020.8,255.2 1020.8,253.8 1020.2,253.2 1020.2,250.8 1019.8,250.2ZM998.2,263.2 998.8,262.8 1000.2,262.8 1000.8,263.2 1000.8,264.2 1001.2,264.8 1001.2,266.2 1001.8,266.8 1001.8,268.2 1002.2,268.8 1002.2,270.2 1002.8,270.8 1002.8,272.2 1003.2,272.8 1003.2,274.2 1003.8,274.8 1003.8,278.8 1003.2,279.2 1003.2,286.8 1002.8,287.2 1002.8,291.2 1002.2,291.8 990.2,291.8 989.8,291.2 989.8,290.8 989.2,290.2 989.2,289.8 988.8,289.2 988.8,288.8 988.2,288.2 988.2,287.8 987.8,287.2 987.8,286.8 987.2,286.2 987.2,285.8 986.8,285.2 986.8,284.2 986.2,283.8 986.2,283.2 985.8,282.8 985.8,282.2 985.2,281.8 985.2,281.2 984.8,280.8 984.8,280.2 984.2,279.8 984.2,279.2 983.8,278.8 983.8,276.8 984.2,276.2 984.2,273.8 984.8,273.2 984.8,270.2 985.2,269.8 985.2,267.2 985.8,266.8 985.8,265.2 986.2,264.8 987.8,264.8 988.2,264.2 991.2,264.2 991.8,263.8 994.8,263.8 995.2,263.2ZM516.2,245.8 515.8,246.2 511.2,246.2 510.8,246.8 509.8,246.8 509.8,247.2 509.2,247.8 509.2,248.2 508.8,248.8 508.8,249.2 508.2,249.8 508.2,250.2 507.8,250.8 507.8,251.8 507.2,252.2 507.2,253.2 506.8,253.8 506.8,254.2 506.2,254.8 506.2,255.8 505.8,256.2 505.8,257.2 505.2,257.8 505.2,258.8 504.8,259.2 504.8,260.2 504.2,260.8 504.2,261.2 503.8,261.8 503.8,262.8 503.2,263.2 503.2,264.2 502.8,264.8 502.8,265.2 502.2,265.8 502.2,266.2 501.8,266.8 501.8,267.2 500.8,268.2 500.8,268.8 500.2,269.2 500.2,269.8 499.8,270.2 499.8,270.8 498.8,271.8 498.8,272.2 498.2,272.8 498.2,273.2 497.2,274.2 497.2,274.8 496.8,275.2 496.8,275.8 496.2,276.2 496.2,276.8 494.2,278.8 493.8,278.8 492.2,280.2 491.8,280.2 490.2,281.8 489.8,281.8 488.8,282.8 488.2,282.8 487.2,283.8 488.2,283.8 489.8,285.2 489.8,285.8 491.8,287.8 491.8,288.2 492.8,289.2 490.8,291.2 490.2,291.2 487.8,293.8 487.2,293.8 486.2,294.8 472.2,294.8 471.8,294.2 471.8,292.2 471.2,291.8 471.2,287.8 470.8,287.2 470.8,286.8 470.2,287.2 469.8,287.2 469.2,286.8 469.8,286.2 469.8,283.8 469.2,283.2 469.2,281.2 468.8,280.8 468.2,280.8 467.8,280.2 466.2,280.2 465.8,280.8 465.2,280.8 464.8,281.2 464.8,283.2 464.2,283.8 464.2,286.2 464.8,286.8 464.8,289.8 465.2,290.2 465.2,290.8 465.8,291.2 465.8,292.2 466.2,292.8 466.2,293.2 466.8,293.8 466.8,294.8 467.2,295.2 467.2,295.8 467.8,296.2 467.8,297.2 468.2,297.8 468.2,298.2 468.8,298.8 468.8,303.2 468.2,303.8 468.2,307.8 467.8,308.2 467.8,311.8 467.2,312.2 467.2,316.2 466.8,316.8 466.8,317.2 467.2,317.8 467.2,318.8 467.8,319.2 467.8,320.8 469.2,320.8 469.8,320.2 470.2,320.2 470.8,319.8 471.8,319.8 472.2,319.2 502.8,319.2 502.8,309.2 503.2,308.8 503.2,300.2 503.8,299.8 504.2,299.8 504.8,300.2 506.8,300.2 507.8,301.2 507.8,302.2 508.2,302.8 508.2,304.2 508.8,304.8 508.8,305.8 509.2,306.2 509.2,307.2 509.8,307.8 509.8,308.8 510.2,309.2 510.2,310.2 510.8,310.8 510.8,312.2 511.2,312.8 511.2,313.8 511.8,314.2 511.8,319.2 514.8,319.2 515.2,319.8 520.8,319.8 521.2,319.2 523.2,319.2 523.8,318.8 525.2,318.8 525.8,318.2 527.2,318.2 527.8,317.8 529.8,317.8 530.2,317.2 531.8,317.2 532.2,316.8 532.8,316.8 533.2,317.2 534.2,317.2 534.8,317.8 535.2,317.8 535.8,317.2 536.8,317.2 537.2,316.8 537.8,316.8 538.2,316.2 538.8,316.2 543.8,311.2 544.8,311.2 545.2,310.8 545.8,311.2 546.8,311.2 548.2,312.8 548.2,313.2 549.8,314.8 549.8,315.2 550.8,316.2 550.8,316.8 552.2,318.2 552.2,318.8 552.8,318.8 554.2,320.2 554.8,320.2 555.8,321.2 556.2,321.2 557.8,322.8 562.2,322.8 562.8,322.2 572.2,322.2 572.8,321.8 577.2,321.8 577.8,321.2 578.8,321.2 579.2,320.8 579.8,320.8 580.2,320.2 581.2,320.2 581.8,319.8 582.8,319.8 583.2,319.2 583.8,319.2 584.2,318.8 585.2,318.8 585.8,318.2 586.2,318.2 586.8,317.8 587.8,317.8 588.2,317.2 588.8,317.2 590.2,315.8 590.2,315.2 591.2,314.2 591.2,313.8 592.8,312.2 592.8,311.8 593.8,310.8 593.8,310.2 594.8,309.2 594.8,308.8 597.8,305.8 598.2,305.8 601.8,302.2 602.2,302.2 605.2,299.2 605.8,299.2 609.2,295.8 609.8,295.8 610.2,295.2 610.2,286.2 609.2,285.2 609.2,284.8 606.8,282.2 606.8,281.8 604.2,279.2 604.2,278.8 603.2,278.8 602.8,278.2 601.2,278.2 600.8,277.8 599.8,277.8 599.2,277.2 597.8,277.2 597.2,276.8 596.2,276.8 595.8,276.2 594.2,276.2 593.8,275.8 592.2,275.8 591.8,275.2 589.8,275.2 589.2,274.8 586.2,274.8 585.8,274.2 582.8,274.2 582.2,273.8 579.8,273.8 579.2,273.2 576.2,273.2 575.8,272.8 572.8,272.8 572.2,272.2 570.2,272.2 569.8,271.8 568.8,271.8 568.2,271.2 567.8,271.2 567.2,270.8 566.8,270.8 566.2,270.2 565.8,270.2 565.2,269.8 564.8,269.8 564.2,269.2 563.8,269.2 563.2,268.8 562.8,268.8 562.2,268.2 561.8,268.2 561.2,267.8 560.8,267.8 560.2,267.2 559.8,267.2 559.2,266.8 558.8,266.8 558.2,266.2 557.8,266.2 557.2,265.8 556.8,265.8 556.2,265.2 555.8,265.2 555.2,264.8 554.8,264.8 554.2,264.2 553.8,264.2 552.8,263.2 552.2,263.2 551.8,262.8 551.2,262.8 550.2,261.8 549.8,261.8 549.2,261.2 548.8,261.2 548.2,260.8 547.8,260.8 546.8,259.8 546.2,259.8 545.8,259.2 545.2,259.2 544.2,258.2 543.8,258.2 543.2,257.8 542.8,257.8 541.8,256.8 541.2,256.8 540.8,256.2 540.2,256.2 539.8,255.8 539.2,255.8 538.8,255.2 538.2,255.2 536.8,253.8 536.8,252.8 536.2,252.2 536.2,251.2 535.8,250.8 535.8,250.2 535.2,249.8 535.2,249.2 533.8,249.2 533.2,248.8 529.8,248.8 529.2,248.2 526.2,248.2 525.8,247.8 522.2,247.8 521.8,247.2 521.2,247.2 520.8,246.8 520.2,246.8 519.8,246.2 518.8,246.2 518.2,245.8ZM338.2,220.8 338.2,221.2 337.8,221.8 337.8,223.2 337.2,223.8 337.2,232.2 337.8,232.8 337.8,234.2 338.2,234.8 338.2,235.2 340.2,235.2 340.8,234.8 340.8,233.2 341.2,232.8 341.2,223.2 340.8,222.8 340.8,221.2 340.2,220.8ZM615.2,220.2 614.2,221.2 614.2,222.2 613.8,222.8 613.8,225.2 613.2,225.8 613.2,239.2 613.8,239.8 613.8,242.2 614.2,242.8 614.2,243.8 615.2,244.8 617.8,244.8 618.8,243.8 618.8,242.8 619.2,242.2 619.2,239.8 619.8,239.2 619.8,225.8 619.2,225.2 619.2,222.8 618.8,222.2 618.8,221.2 617.8,220.2ZM815.8,215.2 815.2,215.8 814.2,215.8 813.8,216.2 813.2,216.2 812.2,217.2 812.2,220.8 813.2,221.8 813.8,221.8 814.2,222.2 815.2,222.2 815.8,222.8 828.8,222.8 829.2,222.2 830.8,222.2 832.2,220.8 832.2,219.8 832.8,219.2 832.8,218.8 832.2,218.2 832.2,217.2 830.8,215.8 829.2,215.8 828.8,215.2ZM506.2,204.2 506.2,204.8 505.8,205.2 505.8,205.8 505.2,206.2 505.2,206.8 504.8,207.2 504.8,207.8 504.2,208.2 504.2,208.8 503.8,209.2 503.8,209.8 503.2,210.2 503.2,210.8 503.8,211.2 503.8,212.8 504.2,213.2 504.2,215.2 504.8,215.8 504.8,217.2 506.8,217.2 507.2,216.8 507.2,216.2 507.8,215.8 507.8,214.8 508.2,214.2 508.2,213.8 508.8,213.2 508.8,212.8 509.2,212.2 509.2,210.8 508.8,210.2 508.8,205.8 508.2,205.2 508.2,204.2ZM252.8,200.8 250.8,202.8 250.8,203.2 250.2,203.8 250.2,204.8 249.8,205.2 249.8,207.8 249.2,208.2 249.2,209.8 249.8,210.2 249.8,212.8 250.2,213.2 250.2,214.2 250.8,214.8 250.8,215.2 252.8,217.2 253.8,217.2 254.2,216.8 254.8,216.8 255.8,215.8 255.8,215.2 256.2,214.8 256.2,214.2 256.8,213.8 256.8,212.8 257.2,212.2 257.2,205.8 256.8,205.2 256.8,204.2 256.2,203.8 256.2,203.2 255.8,202.8 255.8,202.2 254.8,201.2 254.2,201.2 253.8,200.8ZM217.8,198.2 217.2,198.8 216.8,198.8 216.2,199.2 216.2,199.8 215.8,200.2 215.8,200.8 215.2,201.2 215.2,201.8 214.8,202.2 214.8,204.2 214.2,204.8 214.2,209.2 214.8,209.8 214.8,211.8 215.2,212.2 215.2,212.8 215.8,213.2 215.8,213.8 216.2,214.2 216.2,214.8 216.8,215.2 217.2,215.2 217.8,215.8 219.2,215.8 221.2,213.8 221.2,212.8 221.8,212.2 221.8,211.2 222.2,210.8 222.2,203.2 221.8,202.8 221.8,201.8 221.2,201.2 221.2,200.2 219.2,198.2ZM985.8,195.2 985.2,195.8 979.2,195.8 978.8,196.2 972.8,196.2 972.2,196.8 970.2,196.8 970.2,197.2 966.8,200.8 966.8,201.2 965.2,202.8 965.2,209.2 966.2,210.2 966.2,210.8 967.8,212.2 967.8,212.8 969.2,214.2 969.2,214.8 970.8,216.2 970.8,216.8 971.2,217.2 971.8,217.2 972.2,217.8 972.8,217.8 973.2,218.2 973.8,218.2 976.2,220.8 976.2,221.2 976.8,221.8 976.8,222.2 977.8,223.2 977.8,223.8 978.2,224.2 979.8,224.2 980.2,224.8 982.8,224.8 983.2,225.2 985.8,225.2 987.2,226.8 987.8,226.8 990.2,229.2 990.8,229.2 993.8,232.2 994.2,232.2 996.8,234.8 997.2,234.8 998.8,236.2 1001.2,236.2 1001.8,236.8 1004.2,236.8 1004.8,237.2 1006.8,237.2 1007.2,237.8 1009.8,237.8 1010.2,238.2 1012.8,238.2 1013.2,238.8 1014.8,238.8 1015.2,238.2 1016.8,238.2 1017.2,237.8 1018.8,237.8 1019.2,237.2 1020.2,237.2 1020.8,236.8 1022.2,236.8 1023.2,235.8 1023.2,234.2 1023.8,233.8 1023.8,232.2 1024.2,231.8 1024.2,230.2 1024.8,229.8 1024.8,228.2 1025.2,227.8 1025.2,226.2 1024.8,225.8 1024.8,225.2 1024.2,224.8 1024.2,224.2 1023.8,223.8 1023.8,223.2 1023.2,222.8 1023.2,222.2 1022.8,221.8 1022.8,221.2 1022.2,220.8 1022.2,220.2 1021.8,219.8 1021.8,219.2 1021.2,218.8 1021.2,218.2 1020.8,218.2 1020.2,217.8 1019.8,217.8 1019.2,217.2 1018.8,217.2 1018.2,216.8 1017.8,216.8 1017.2,216.2 1016.8,216.2 1016.2,215.8 1015.8,215.8 1015.2,215.2 1014.8,215.2 1014.2,214.8 1013.8,214.8 1013.2,214.2 1012.8,214.2 1012.2,213.8 1011.8,213.8 1011.2,213.2 1010.8,213.2 1009.2,211.8 1009.2,211.2 1007.8,209.8 1007.8,209.2 1006.8,208.2 1006.8,207.8 1005.2,206.2 1005.2,205.8 1004.2,204.8 1004.2,204.2 1003.2,203.2 1003.2,202.8 1001.2,200.8 1000.8,200.8 1000.2,200.2 999.8,200.2 999.2,199.8 998.2,199.8 997.8,199.2 997.2,199.2 996.8,198.8 996.2,198.8 995.8,198.2 995.2,198.2 994.8,197.8 993.8,197.8 993.2,197.2 992.8,197.2 992.2,196.8 991.8,196.8 991.2,196.2 990.2,196.2 989.8,195.8 989.2,195.8 988.8,195.2ZM230.8,189.2 228.2,191.8 228.2,192.2 227.8,192.8 227.8,193.2 227.2,193.8 227.2,194.2 226.8,194.8 226.8,195.8 226.2,196.2 226.2,198.2 225.8,198.8 225.8,207.2 226.2,207.8 226.2,209.8 226.8,210.2 226.8,211.2 227.2,211.8 227.2,212.2 227.8,212.8 227.8,213.2 228.2,213.8 228.2,214.2 230.8,216.8 234.2,216.8 236.8,214.2 236.8,213.8 237.2,213.2 237.2,212.8 237.8,212.2 237.8,211.8 238.2,211.2 238.2,210.2 238.8,209.8 238.8,207.8 239.2,207.2 239.2,198.8 238.8,198.2 238.8,196.2 238.2,195.8 238.2,194.8 237.8,194.2 237.8,193.8 237.2,193.2 237.2,192.8 236.8,192.2 236.8,191.8 234.2,189.2ZM512.2,186.2 511.2,187.2 511.2,187.8 508.8,190.2 508.8,190.8 508.2,191.2 508.2,197.2 508.8,197.8 508.8,198.2 509.2,198.8 509.2,199.2 509.8,199.8 509.8,200.2 510.2,200.8 510.2,201.2 514.8,201.2 514.8,200.8 515.2,200.2 515.2,199.8 515.8,199.2 516.2,199.8 516.2,200.8 515.8,201.2 515.8,204.2 515.2,204.8 515.2,221.8 515.8,222.2 515.8,222.8 516.2,223.2 516.2,223.8 516.8,224.2 516.8,224.8 517.2,225.2 517.2,225.8 517.8,226.2 517.8,226.8 519.2,226.8 519.8,226.2 525.2,226.2 525.8,225.8 527.2,225.8 527.8,225.2 528.2,225.2 530.8,222.8 531.2,222.8 533.8,220.2 534.2,220.2 536.8,217.8 537.2,217.8 537.8,217.2 537.8,216.8 538.2,216.2 538.2,215.2 538.8,214.8 538.8,213.8 539.2,213.2 539.2,212.2 539.8,211.8 539.8,210.8 540.2,210.2 540.2,209.2 540.8,208.8 540.8,208.2 541.2,207.8 541.2,206.8 541.8,206.2 541.8,205.2 542.2,204.8 542.2,203.8 542.8,203.2 542.8,202.2 543.2,201.8 542.8,201.2 542.8,198.2 542.2,197.8 542.2,194.2 541.8,193.8 541.8,192.8 541.2,192.8 540.8,192.2 540.2,192.2 539.8,191.8 539.2,191.8 538.8,191.2 537.8,191.2 537.2,190.8 536.8,190.8 536.2,190.2 535.8,190.2 535.2,189.8 533.8,189.8 533.2,190.2 530.8,190.2 530.2,190.8 527.2,190.8 526.8,191.2 524.2,191.2 523.8,191.8 523.2,191.8 522.8,192.2 522.2,192.2 520.8,193.8 520.2,193.8 518.8,195.2 518.2,195.2 517.8,195.8 517.2,195.2 517.2,194.8 516.8,194.2 516.8,192.2 516.2,191.8 516.2,189.8 515.8,189.2 515.8,187.2 515.2,186.8 513.2,186.8 512.8,186.2ZM516.8,195.8 517.2,195.2 517.8,195.8 517.2,196.2ZM291.2,185.8 290.2,186.8 289.8,186.8 287.2,189.2 286.8,189.2 287.2,189.8 287.2,193.2 287.8,193.8 287.8,195.2 294.2,201.8 294.8,201.8 295.2,202.2 295.8,202.2 296.8,203.2 297.2,203.2 298.2,204.2 298.8,204.2 299.2,204.8 299.8,204.8 300.8,205.8 301.2,205.8 303.8,208.2 304.2,208.2 305.8,209.8 306.2,209.8 306.8,210.2 307.8,209.2 308.2,209.2 308.8,208.8 308.8,201.2 307.8,200.2 307.8,199.8 306.2,198.2 306.2,197.8 304.8,196.2 304.8,195.8 303.2,194.2 303.2,193.8 296.2,186.8 295.8,186.8 295.2,186.2 292.2,186.2 291.8,185.8ZM375.2,185.2 374.8,185.8 374.2,185.8 373.8,186.2 373.2,186.2 373.2,186.8 372.8,187.2 372.8,193.2 373.2,193.8 373.2,194.2 373.8,194.8 374.2,194.8 374.8,195.2 377.2,195.2 378.2,196.2 381.8,196.2 382.8,195.2 382.8,194.2 383.2,193.8 383.2,188.2 382.8,187.8 382.8,186.8 381.8,185.8 379.8,185.8 379.2,185.2ZM398.8,183.8 397.2,185.2 397.2,185.8 395.8,187.2 395.8,187.8 393.8,189.8 393.8,190.2 392.2,191.8 392.2,192.2 390.8,193.8 390.8,194.2 389.8,195.2 389.8,200.8 389.2,201.2 389.2,224.8 389.8,225.2 389.8,225.8 390.2,226.2 390.2,226.8 390.8,227.2 390.8,227.8 391.2,228.2 391.2,228.8 391.8,229.2 391.8,230.2 392.2,230.8 392.2,231.2 392.8,231.8 392.8,232.2 393.2,232.8 393.2,233.2 393.8,233.8 393.8,234.2 394.2,234.8 394.2,235.2 394.8,235.8 395.8,235.8 396.2,236.2 396.8,236.2 397.2,236.8 398.2,236.8 398.8,237.2 399.8,237.2 400.2,237.8 400.8,237.8 401.2,238.2 402.2,238.2 402.8,238.8 403.8,238.8 404.2,239.2 410.8,239.2 411.2,239.8 416.8,239.8 417.2,240.2 418.2,240.2 419.8,241.8 419.8,242.2 420.2,242.8 420.2,243.8 420.8,243.8 420.8,239.2 417.8,236.2 417.8,219.8 419.2,218.2 420.2,218.2 420.8,217.8 421.2,218.2 422.2,218.2 423.8,219.8 423.8,220.8 424.2,221.2 424.2,222.2 424.8,222.8 424.8,223.2 425.2,223.8 425.2,224.2 426.2,225.2 426.2,225.8 427.2,226.8 427.2,227.2 429.2,227.2 430.8,225.8 430.8,225.2 431.8,224.2 431.8,223.8 433.2,222.2 433.2,221.8 434.2,220.8 434.2,220.2 435.8,218.8 435.8,218.2 437.2,216.8 438.2,216.8 438.8,216.2 439.2,216.8 440.2,216.8 441.2,217.8 441.2,240.2 441.8,240.8 441.8,241.2 443.2,242.8 443.2,243.2 444.8,244.8 444.8,245.2 446.2,246.8 446.2,247.2 447.2,248.2 447.2,248.8 448.2,249.8 448.2,250.2 449.8,251.8 449.8,252.2 451.2,253.8 451.2,254.2 452.8,255.8 452.8,256.2 453.2,256.2 453.8,256.8 454.2,256.8 454.8,257.2 455.2,257.2 455.8,257.8 456.2,257.8 456.8,258.2 457.8,258.2 458.2,258.8 458.8,258.8 459.2,259.2 459.2,258.8 460.8,257.2 460.8,256.8 461.8,255.8 461.8,255.2 462.8,254.2 462.8,253.8 465.8,250.8 466.8,250.8 467.2,250.2 467.8,250.8 468.8,250.8 470.2,252.2 470.2,253.2 470.8,253.8 470.8,254.2 471.2,254.8 471.2,255.8 471.8,256.2 471.8,257.2 472.2,257.8 472.2,258.2 474.2,260.2 474.8,260.2 475.8,261.2 476.2,261.2 477.8,259.8 477.8,259.2 478.2,258.8 478.2,258.2 479.2,257.2 479.2,256.8 479.8,256.2 479.8,255.8 480.8,254.8 480.8,254.2 481.8,253.2 481.8,252.8 482.2,252.2 482.2,251.8 484.2,249.8 484.8,250.2 485.2,250.2 487.2,252.2 487.2,252.8 488.8,254.2 488.8,254.8 489.2,255.2 489.2,255.8 490.2,256.8 490.2,257.2 490.8,257.8 490.8,258.2 491.8,259.2 491.8,259.8 492.2,260.2 492.2,260.8 492.8,260.8 494.2,262.2 494.8,262.2 495.8,263.2 496.2,263.2 497.2,264.2 499.8,261.8 500.2,261.8 500.8,261.2 500.8,237.2 499.2,235.8 498.8,235.8 494.2,231.2 494.2,227.8 493.8,227.2 493.8,226.8 493.2,226.2 490.8,226.2 490.2,226.8 490.2,227.2 489.8,227.8 488.8,227.8 488.2,227.2 487.8,227.2 487.2,226.8 486.2,226.8 485.8,226.2 485.2,226.2 484.8,225.8 484.2,225.8 483.8,225.2 482.8,225.2 482.2,224.8 481.8,224.8 481.2,224.2 480.8,224.2 480.2,223.8 479.2,223.8 478.8,223.2 478.2,223.2 477.8,222.8 477.2,222.8 476.8,222.2 476.2,222.2 475.8,221.8 475.8,221.2 475.2,220.8 475.2,220.2 474.8,219.8 474.8,219.2 474.2,218.8 474.2,218.2 473.8,217.8 473.8,217.2 473.2,216.8 473.2,216.2 472.8,215.8 472.8,215.2 472.2,214.8 472.2,214.2 471.8,213.8 471.8,213.2 471.2,212.8 471.2,212.2 470.8,211.8 470.8,211.2 470.2,210.8 470.2,209.8 469.8,209.2 469.8,208.8 469.2,208.2 469.2,207.2 468.8,206.8 468.8,206.2 468.2,205.8 468.2,204.8 467.8,204.2 467.8,203.2 467.2,202.8 467.2,202.2 466.8,201.8 466.8,201.2 466.2,200.8 466.2,200.2 465.8,199.8 465.2,199.8 464.8,199.2 464.2,199.2 463.8,198.8 463.2,198.8 462.2,197.8 461.8,197.8 461.2,197.2 460.8,197.2 460.2,196.8 459.8,196.8 458.8,195.8 458.2,195.8 457.8,195.2 457.2,195.2 456.8,194.8 456.2,194.8 455.2,193.8 454.8,193.8 454.2,193.2 453.8,193.2 453.2,192.8 452.8,192.8 452.2,192.2 451.8,192.2 451.2,191.8 450.2,191.8 449.8,191.2 449.2,191.2 448.8,190.8 447.8,190.8 447.2,190.2 446.2,190.2 445.8,189.8 444.8,189.8 444.2,189.2 443.8,189.2 443.2,188.8 442.2,188.8 441.8,188.2 441.2,188.2 441.2,189.2 440.8,189.8 440.2,189.2 439.8,189.2 437.8,187.2 437.2,187.2 436.2,186.2 433.8,186.2 433.2,185.8 430.8,185.8 430.2,185.2 427.8,185.2 427.2,184.8 424.8,184.8 424.2,184.2 421.8,184.2 421.2,183.8ZM402.2,200.2 402.8,199.8 403.2,199.8 403.8,200.2 403.8,202.8 404.2,203.2 404.2,207.8 404.8,208.2 404.8,210.2 403.8,211.2 403.2,211.2 402.8,211.8 402.2,211.8 401.2,212.8 400.8,212.8 400.2,213.2 399.8,213.2 399.2,213.8 398.8,213.2 398.8,212.8 398.2,212.2 398.2,211.2 397.8,210.8 397.8,209.2 397.2,208.8 397.2,207.8 396.8,207.2 396.8,206.2 396.2,205.8 396.2,204.2 395.8,203.8 395.8,203.2 396.2,202.8 396.8,202.8 397.2,202.2 397.8,202.2 398.2,201.8 398.8,201.8 399.2,201.2 400.2,201.2 400.8,200.8 401.2,200.8 401.8,200.2ZM680.8,182.8 680.2,183.2 679.8,183.2 679.2,183.8 678.8,183.8 677.8,184.8 677.2,184.8 676.8,185.2 676.2,185.2 675.2,186.2 675.2,187.8 674.8,188.2 674.8,189.8 674.2,190.2 674.2,191.8 674.8,192.2 675.2,192.2 677.2,194.2 694.2,194.2 695.8,192.8 696.2,192.8 697.2,191.8 696.8,191.2 696.8,190.2 696.2,189.8 696.2,188.8 695.8,188.2 695.8,187.8 695.2,187.2 695.2,186.2 694.2,185.2 693.8,185.2 693.2,184.8 692.8,184.8 691.8,183.8 691.2,183.8 690.8,183.2 690.2,183.2 689.8,182.8ZM773.2,178.8 772.8,179.2 765.8,179.2 765.2,179.8 764.8,179.8 764.2,180.2 763.8,180.2 763.2,180.8 762.8,180.8 762.2,181.2 761.8,181.2 761.2,181.8 760.8,181.8 760.2,182.2 759.2,182.2 758.8,182.8 757.8,182.8 757.2,183.2 756.2,183.2 755.8,183.8 754.2,183.8 753.8,184.2 752.8,184.2 752.2,184.8 751.2,184.8 750.8,185.2 749.2,185.2 748.8,185.8 748.2,185.8 747.8,185.2 746.8,185.2 746.2,184.8 745.8,184.8 744.8,183.8 744.2,183.8 743.2,182.8 742.8,182.8 741.8,181.8 740.2,181.8 739.8,182.2 735.8,182.2 735.2,182.8 734.2,182.8 729.8,187.2 729.8,187.8 729.2,188.2 729.2,189.8 728.8,190.2 728.8,191.8 728.2,192.2 728.2,193.2 727.8,193.8 727.8,195.2 727.2,195.8 727.2,197.2 727.8,197.8 728.2,197.8 728.8,198.2 732.8,198.2 733.2,198.8 739.2,198.8 739.8,198.2 747.8,198.2 748.2,197.8 753.2,197.8 753.8,197.2 756.2,197.2 756.8,196.8 758.8,196.8 759.2,196.2 761.2,196.2 761.8,195.8 764.2,195.8 764.8,195.2 766.8,195.2 767.2,194.8 769.2,194.8 769.8,194.2 771.2,194.2 771.8,193.8 773.2,193.8 773.8,193.2 775.2,193.2 775.8,192.8 777.2,192.8 777.8,192.2 778.8,192.2 779.2,191.8 779.8,191.8 781.2,190.2 781.8,190.2 782.8,189.2 783.2,189.2 784.8,187.8 784.8,182.8 783.2,181.2 782.8,181.2 781.8,180.2 781.2,180.2 779.8,178.8ZM861.2,177.2 860.8,177.8 852.2,177.8 850.8,179.2 850.2,179.2 847.8,181.8 847.2,181.8 845.8,183.2 845.8,187.8 842.8,190.8 842.2,190.8 839.2,193.8 838.8,193.8 835.8,196.8 835.2,196.8 834.8,196.2 832.2,196.2 831.8,195.8 828.2,195.8 827.8,195.2 823.2,195.2 822.8,194.8 818.2,194.8 817.8,194.2 808.2,194.2 807.8,194.8 801.2,194.8 800.2,195.8 799.8,195.8 797.8,197.8 798.2,198.2 798.2,198.8 799.2,199.8 799.2,200.2 800.2,201.2 802.8,201.2 803.2,201.8 805.8,201.8 806.2,202.2 808.8,202.2 809.2,202.8 813.8,202.8 814.2,203.2 821.2,203.2 821.8,203.8 825.8,203.8 826.2,204.2 827.2,204.2 827.8,204.8 828.2,204.8 828.8,205.2 829.8,205.2 830.2,205.8 830.8,205.8 831.2,206.2 832.2,206.2 832.8,206.8 833.2,206.8 833.8,207.2 834.8,207.2 835.2,207.8 837.8,207.8 838.2,208.2 842.8,208.2 843.2,208.8 845.2,208.8 845.8,208.2 846.2,208.2 846.8,207.8 847.2,207.8 847.8,207.2 848.2,207.2 848.8,206.8 849.2,206.8 849.8,206.2 849.8,205.8 849.2,205.2 849.2,204.2 848.8,203.8 848.8,203.2 848.2,202.8 849.8,201.2 850.2,201.8 854.2,201.8 854.8,202.2 858.8,202.2 859.2,202.8 860.8,202.8 861.2,202.2 861.8,202.2 862.2,201.8 862.8,201.8 863.2,201.2 863.8,201.2 864.2,200.8 864.8,200.8 865.2,200.2 865.8,200.2 866.2,199.8 866.8,199.8 867.2,199.2 867.2,198.8 867.8,198.2 867.8,197.8 868.2,197.2 868.2,196.8 868.8,196.2 868.8,195.8 869.2,195.2 869.2,194.8 869.8,194.2 869.8,193.8 872.8,190.8 873.2,190.8 873.8,190.2 874.2,190.2 874.8,189.8 875.2,189.8 875.8,189.2 876.2,189.2 876.8,188.8 877.2,188.8 877.8,188.2 878.8,188.2 879.2,187.8 879.8,187.8 880.2,187.2 880.8,187.2 880.2,186.8 879.8,186.8 879.2,186.2 878.8,186.2 878.2,185.8 877.8,185.8 877.2,185.2 876.8,185.2 876.2,184.8 875.8,184.8 875.2,184.2 874.8,184.2 874.2,183.8 873.8,183.8 873.2,183.2 872.8,183.2 872.2,182.8 871.8,182.8 871.2,182.2 870.8,182.2 870.2,181.8 869.8,181.8 869.2,181.2 868.8,181.2 867.8,180.2 867.2,180.2 866.8,179.8 866.2,179.8 865.8,179.2 865.2,179.2 864.8,178.8 864.8,178.2 864.2,177.8 862.8,177.8 862.2,177.2ZM930.8,175.8 930.2,176.2 923.8,176.2 923.2,176.8 916.8,176.8 916.2,177.2 909.2,177.2 908.8,177.8 902.2,177.8 901.8,178.2 899.2,178.2 896.2,181.2 896.2,189.8 896.8,190.2 896.8,190.8 897.2,191.2 897.2,191.8 897.8,192.2 897.8,192.8 898.2,193.2 898.2,193.8 898.8,194.2 898.8,194.8 899.2,194.8 899.8,195.2 900.8,195.2 901.2,195.8 902.8,195.8 903.2,196.2 904.2,196.2 904.8,196.8 905.8,196.8 906.2,197.2 907.8,197.2 908.2,197.8 909.2,197.8 912.2,200.8 912.2,201.8 912.8,202.2 912.8,202.8 913.2,203.2 913.2,204.2 913.8,204.8 913.8,205.8 914.2,206.2 914.2,206.8 914.8,207.2 914.8,208.2 915.2,208.8 915.2,209.8 915.8,210.2 915.8,210.8 916.2,211.2 916.2,212.2 916.8,212.8 916.8,213.2 926.8,223.2 930.8,223.2 931.2,223.8 934.8,223.8 937.2,221.2 937.8,221.2 939.2,219.8 939.2,201.2 938.8,200.8 938.8,180.2 936.8,178.2 936.2,178.2 934.2,176.2 933.8,176.2 933.2,175.8Z" fill="#adadad" fill-rule="evenodd" stroke="#adadad" stroke-width="0.6"/>
<path d="M695.8,351.2 695.2,351.8 693.8,351.8 693.2,352.2 692.2,352.2 691.8,352.8 691.2,352.8 690.2,353.8 689.8,353.8 689.2,354.2 689.2,354.8 688.2,355.8 688.2,356.8 687.8,357.2 687.8,358.8 718.2,358.8 718.2,357.2 717.8,356.8 717.8,355.8 716.8,354.8 716.8,354.2 716.2,353.8 715.8,353.8 714.8,352.8 714.2,352.8 713.8,352.2 712.8,352.2 712.2,351.8 710.8,351.8 710.2,351.2ZM478.8,300.8 478.2,301.2 477.8,301.2 477.2,301.8 477.2,302.2 476.8,302.8 476.8,305.2 477.2,305.8 477.2,306.2 477.8,306.8 478.2,306.8 478.8,307.2 479.2,307.2 479.8,306.8 480.2,306.8 480.8,306.2 480.8,305.8 481.2,305.2 481.2,302.8 480.8,302.2 480.8,301.8 480.2,301.2 479.8,301.2 479.2,300.8ZM561.8,298.2 561.2,298.8 554.2,298.8 553.8,299.2 550.2,299.2 550.2,300.2 550.8,300.8 550.8,302.2 551.2,302.8 551.2,304.8 551.8,305.2 551.8,306.8 552.2,307.2 552.2,308.2 554.2,310.2 554.2,310.8 558.2,314.8 558.2,315.2 560.2,317.2 573.2,317.2 573.8,316.8 574.2,316.8 575.2,315.8 575.8,315.8 576.8,314.8 577.2,314.8 578.2,313.8 578.8,313.8 579.8,312.8 580.2,312.8 581.2,311.8 581.8,311.8 582.2,311.2 582.2,310.2 581.8,309.8 581.8,308.2 581.2,307.8 581.2,305.8 580.8,305.2 580.8,303.8 580.2,303.2 580.2,302.2 579.8,302.2 579.2,301.8 577.8,301.8 577.2,301.2 575.8,301.2 575.2,300.8 573.8,300.8 573.2,300.2 572.2,300.2 571.8,299.8 570.2,299.8 569.8,299.2 568.2,299.2 567.8,298.8 566.2,298.8 565.8,298.2ZM326.2,293.8 326.2,327.2 328.2,327.2 328.2,317.8 328.8,317.2 328.8,316.8 329.2,316.2 329.2,315.2 329.8,314.8 329.8,314.2 330.2,313.8 330.2,293.8ZM1014.2,257.2 1013.8,257.8 1013.2,257.8 1012.8,258.2 1012.2,258.2 1011.8,258.8 1011.2,258.8 1010.8,259.2 1010.2,259.2 1009.8,259.8 1009.2,259.8 1008.8,260.2 1008.2,260.2 1007.8,260.8 1007.2,260.8 1006.8,261.2 1006.2,261.2 1005.8,261.8 1005.2,261.8 1004.8,262.2 1004.2,262.2 1004.2,289.8 1003.8,290.2 1002.8,290.2 1002.8,291.2 1002.2,291.8 990.2,291.8 989.8,291.2 989.8,290.8 989.2,290.2 989.2,289.8 988.8,289.2 988.8,288.8 988.2,288.2 988.2,287.8 987.8,287.2 987.8,286.8 987.2,286.2 987.2,285.8 986.8,285.2 986.8,284.2 986.2,283.8 986.2,283.2 985.8,282.8 985.8,282.2 985.2,281.8 985.2,281.2 984.8,280.8 984.8,280.2 984.2,279.8 984.2,279.2 983.8,279.2 983.2,278.8 982.2,278.8 981.8,278.2 980.8,278.2 980.2,277.8 979.2,277.8 978.8,277.2 977.8,277.2 977.2,276.8 976.2,276.8 975.8,276.2 957.2,276.2 957.2,296.2 957.8,296.2 958.2,296.8 959.2,296.8 959.8,297.2 960.2,297.2 960.8,297.8 961.8,297.8 962.2,298.2 963.2,298.2 963.8,298.8 964.8,298.8 965.2,299.2 965.8,299.2 966.2,299.8 967.2,299.8 967.8,300.2 969.8,300.2 970.2,300.8 972.8,300.8 973.2,301.2 975.8,301.2 976.2,301.8 978.8,301.8 979.2,302.2 980.2,302.2 981.2,303.2 981.2,303.8 983.2,305.8 983.2,306.2 985.2,308.2 985.2,308.8 987.2,310.8 987.2,311.2 988.2,312.2 988.2,314.8 988.8,315.2 988.8,320.2 989.2,320.8 989.2,323.2 989.8,323.8 989.8,324.2 990.8,325.2 990.8,325.8 992.2,327.2 992.2,327.8 993.2,328.8 993.2,329.2 994.2,330.2 994.2,330.8 995.8,332.2 995.8,332.8 996.2,333.2 997.2,333.2 997.8,332.8 999.8,332.8 1000.2,332.2 1001.8,332.2 1002.2,331.8 1004.2,331.8 1004.8,331.2 1006.8,331.2 1007.2,330.8 1008.8,330.8 1009.2,330.2 1010.2,330.2 1010.8,329.8 1011.2,329.8 1012.2,328.8 1012.8,328.8 1013.8,327.8 1014.2,327.8 1015.2,326.8 1015.8,326.8 1016.8,325.8 1017.2,325.8 1018.2,324.8 1018.8,324.8 1019.8,323.8 1020.2,323.8 1021.2,322.8 1021.8,322.8 1022.8,321.8 1023.2,321.8 1024.2,320.8 1024.8,320.8 1025.2,320.2 1025.8,320.2 1026.2,319.8 1026.8,319.8 1027.2,319.2 1027.8,319.2 1028.2,318.8 1028.8,318.8 1029.2,318.2 1029.8,318.2 1030.2,317.8 1030.8,317.8 1031.2,317.2 1031.8,317.2 1032.2,316.8 1032.8,316.8 1033.2,316.2 1033.8,316.2 1034.2,315.8 1034.8,315.8 1035.2,315.2 1035.8,315.2 1036.2,314.8 1036.8,314.8 1037.2,314.2 1037.8,314.2 1038.2,313.8 1038.8,313.8 1039.2,313.2 1039.2,312.8 1039.8,312.2 1039.8,311.8 1040.2,311.2 1040.2,310.8 1040.8,310.2 1040.8,309.8 1041.2,309.2 1041.2,308.8 1041.8,308.2 1041.8,307.8 1042.2,307.2 1042.2,306.2 1042.8,305.8 1042.8,305.2 1043.2,304.8 1043.2,304.2 1043.8,303.8 1043.8,303.2 1044.2,302.8 1044.2,302.2 1044.8,301.8 1044.8,301.2 1045.2,300.8 1045.2,300.2 1044.2,299.2 1044.2,298.8 1042.8,297.2 1042.8,296.8 1041.2,295.2 1041.2,294.8 1039.8,293.2 1039.8,292.8 1038.8,291.8 1038.8,291.2 1037.8,290.2 1037.8,289.8 1036.8,288.8 1036.8,288.2 1036.2,287.8 1036.2,287.2 1035.2,286.2 1035.2,285.8 1034.2,284.8 1034.2,284.2 1033.2,283.2 1033.2,282.8 1032.2,281.8 1032.2,281.2 1031.8,280.8 1031.8,280.2 1030.8,279.2 1030.8,278.8 1030.2,278.2 1030.2,277.8 1029.8,277.2 1029.8,276.8 1029.2,276.2 1029.2,275.8 1028.8,275.2 1028.8,274.8 1028.2,274.2 1028.2,273.2 1027.8,272.8 1027.8,272.2 1027.2,271.8 1027.2,271.2 1026.8,270.8 1026.8,269.8 1026.2,269.2 1026.2,268.8 1025.8,268.2 1025.8,267.8 1025.2,267.2 1025.2,266.8 1024.8,266.2 1024.8,265.2 1024.2,264.8 1024.2,264.2 1023.8,263.8 1023.8,263.2 1023.2,262.8 1023.2,262.2 1022.8,261.8 1022.2,261.8 1021.8,261.2 1021.2,261.2 1020.8,260.8 1020.2,260.8 1019.8,260.2 1019.2,260.2 1018.2,259.2 1017.8,259.2 1017.2,258.8 1016.8,258.8 1016.2,258.2 1015.8,258.2 1015.2,257.8 1014.8,257.8ZM520.2,247.2 519.8,247.8 519.2,247.8 518.8,248.2 518.2,248.2 517.8,248.8 517.2,248.8 516.8,249.2 516.2,249.2 515.8,249.8 515.2,249.8 514.8,250.2 514.2,250.2 513.8,250.8 513.2,250.8 512.8,251.2 512.2,251.2 511.8,251.8 511.2,251.8 510.8,252.2 510.2,252.2 510.2,254.2 509.8,254.8 509.8,259.2 509.2,259.8 509.2,264.2 508.8,264.8 508.8,269.2 508.2,269.8 508.2,272.2 508.8,272.8 509.2,272.8 510.2,273.8 510.8,273.8 511.8,274.8 512.2,274.8 513.2,275.8 513.8,275.8 514.8,276.8 515.2,276.8 516.2,277.8 515.8,278.2 514.8,278.2 514.2,277.8 508.8,277.8 508.2,277.2 505.2,277.2 504.8,277.8 504.2,277.8 503.8,278.2 503.2,278.2 502.2,279.2 501.8,279.2 501.2,279.8 500.8,279.8 499.8,280.8 499.2,280.8 498.8,281.2 498.2,281.2 497.2,282.2 496.8,282.2 496.2,282.8 495.8,282.8 495.2,283.2 495.2,284.8 494.8,285.2 494.8,288.2 494.2,288.8 494.2,291.8 493.8,292.2 493.8,295.2 493.2,295.8 493.2,297.2 494.2,297.2 494.8,297.8 496.2,297.8 496.8,298.2 498.2,298.2 498.8,298.8 500.2,298.8 500.8,299.2 502.2,299.2 502.8,299.8 504.2,299.8 504.8,300.2 506.8,300.2 507.8,301.2 507.8,302.2 508.2,302.8 508.2,304.2 508.8,304.8 508.8,305.8 509.2,306.2 509.2,307.2 509.8,307.8 509.8,308.8 510.2,309.2 510.2,310.2 510.8,310.8 510.8,312.2 511.2,312.8 511.2,313.8 511.8,314.2 511.8,315.2 512.2,315.8 512.2,316.2 512.8,316.2 513.2,316.8 514.8,316.8 515.2,317.2 516.2,317.2 516.8,317.8 517.8,317.8 518.2,318.2 519.8,318.2 520.2,318.8 521.2,318.8 521.8,319.2 523.2,319.2 523.8,318.8 525.2,318.8 525.8,318.2 527.2,318.2 527.8,317.8 529.8,317.8 530.2,317.2 531.8,317.2 532.2,316.8 533.8,316.8 534.2,316.2 535.2,316.2 535.2,315.8 535.8,315.2 535.8,314.2 536.2,313.8 536.2,312.8 536.8,312.2 536.8,311.8 537.2,311.2 537.2,310.2 537.8,309.8 537.8,308.8 538.2,308.2 538.2,307.2 538.8,306.8 538.8,305.8 539.2,305.2 539.2,304.8 539.8,304.2 539.8,303.2 540.2,302.8 540.2,302.2 538.8,302.2 538.2,301.8 534.8,301.8 534.2,301.2 531.2,301.2 530.8,300.8 531.8,299.8 533.8,299.8 534.2,299.2 536.2,299.2 536.8,298.8 538.8,298.8 539.2,298.2 541.2,298.2 541.8,297.8 543.8,297.8 544.2,297.2 546.2,297.2 546.8,296.8 548.8,296.8 549.2,296.2 551.2,296.2 551.8,295.8 553.8,295.8 554.2,295.2 559.8,295.2 560.2,294.8 568.8,294.8 569.2,294.2 573.2,294.2 573.2,292.8 572.8,292.2 572.8,288.8 572.2,288.2 572.2,286.2 571.8,286.2 571.2,285.8 569.8,285.8 569.2,285.2 568.2,285.2 567.8,284.8 566.8,284.8 566.2,284.2 564.8,284.2 564.2,283.8 563.2,283.8 562.8,283.2 561.2,283.2 560.8,282.8 559.8,282.8 559.2,282.2 558.2,282.2 557.8,281.8 556.2,281.8 555.8,281.2 552.2,281.2 551.8,280.8 546.2,280.8 545.8,280.2 539.8,280.2 539.2,279.8 533.8,279.8 533.2,279.2 527.2,279.2 526.8,278.8 526.8,278.2 527.2,277.8 528.2,277.8 528.8,277.2 529.8,277.2 530.2,276.8 531.2,276.8 531.8,276.2 532.8,276.2 533.2,275.8 534.2,275.8 534.8,275.2 535.2,275.2 535.2,274.8 535.8,274.2 535.8,273.8 536.2,273.2 536.2,272.2 536.8,271.8 536.8,270.8 537.2,270.2 537.2,269.8 537.8,269.2 537.8,268.2 538.2,267.8 538.2,267.2 538.8,266.8 538.8,265.8 539.2,265.2 539.2,264.2 539.8,263.8 539.8,263.2 540.2,262.8 540.2,261.8 539.8,261.2 539.8,260.8 539.2,260.2 539.2,259.2 538.8,258.8 538.8,257.8 538.2,257.2 538.2,256.8 537.8,256.2 537.8,255.2 537.2,254.8 537.2,254.2 536.8,253.8 536.8,252.8 536.2,252.2 536.2,251.2 535.8,250.8 535.8,250.2 535.2,249.8 535.2,249.2 533.8,249.2 533.2,248.8 529.8,248.8 529.2,248.2 526.2,248.2 525.8,247.8 522.2,247.8 521.8,247.2ZM820.2,217.2 819.8,217.8 819.8,218.2 820.2,218.8 823.8,218.8 824.2,218.2 824.2,217.8 823.8,217.2ZM506.8,207.8 506.8,208.2 506.2,208.8 506.2,209.2 505.8,209.8 505.8,212.2 506.2,212.8 506.2,213.8 506.2,213.2 506.8,212.8 506.8,212.2 507.2,211.8 507.2,211.2 506.8,210.8ZM253.2,205.2 252.2,206.2 252.2,206.8 251.8,207.2 251.8,210.8 252.2,211.2 252.2,211.8 253.2,212.8 253.8,212.8 254.2,212.2 254.2,211.8 254.8,211.2 254.8,210.2 255.2,209.8 255.2,208.2 254.8,207.8 254.8,206.8 254.2,206.2 254.2,205.8 253.8,205.2ZM217.8,201.8 216.8,202.8 216.8,203.2 216.2,203.8 216.2,205.2 215.8,205.8 215.8,208.2 216.2,208.8 216.2,210.2 216.8,210.8 216.8,211.2 217.8,212.2 219.2,212.2 219.8,211.8 219.8,211.2 220.2,210.8 220.2,210.2 220.8,209.8 220.8,204.2 220.2,203.8 220.2,203.2 219.8,202.8 219.8,202.2 219.2,201.8ZM979.2,197.2 977.8,198.8 972.8,198.8 972.2,199.2 971.8,199.2 969.2,201.8 969.2,202.2 967.8,203.8 967.8,208.2 968.8,209.2 968.8,209.8 970.2,211.2 970.2,211.8 971.8,213.2 971.8,213.8 973.2,215.2 973.2,216.2 973.8,216.8 973.8,217.2 974.2,217.8 974.2,218.2 975.2,219.2 975.2,219.8 976.2,220.8 976.2,221.2 976.8,221.8 976.8,222.2 977.8,223.2 977.8,223.8 978.2,224.2 979.8,224.2 980.2,224.8 982.8,224.8 983.2,225.2 985.8,225.2 986.2,225.8 988.8,225.8 989.2,226.2 990.2,226.2 991.2,227.2 991.8,227.2 993.2,228.8 993.8,228.8 995.8,230.8 996.2,230.8 998.2,232.8 998.8,232.8 999.8,233.8 1001.2,233.8 1001.8,234.2 1004.2,234.2 1004.8,234.8 1006.8,234.8 1007.2,235.2 1009.8,235.2 1010.2,235.8 1012.8,235.8 1013.2,236.2 1014.8,236.2 1015.2,235.8 1016.8,235.8 1017.2,235.2 1018.8,235.2 1019.2,234.8 1020.2,234.8 1020.8,234.2 1020.8,233.2 1021.2,232.8 1021.2,231.2 1021.8,230.8 1021.8,229.2 1022.2,228.8 1022.2,226.2 1021.8,225.8 1021.8,225.2 1021.2,224.8 1021.2,224.2 1020.8,223.8 1020.8,223.2 1020.2,222.8 1020.2,222.2 1019.8,221.8 1019.8,221.2 1019.2,220.8 1019.2,220.2 1018.8,219.8 1018.2,219.8 1017.8,219.2 1017.2,219.2 1016.8,218.8 1016.2,218.8 1015.8,218.2 1015.2,218.2 1014.8,217.8 1014.2,217.8 1013.8,217.2 1013.2,217.2 1010.2,214.2 1009.8,214.2 1009.2,213.8 1008.2,213.8 1007.8,213.2 1007.2,213.2 1006.8,212.8 1006.8,212.2 1005.2,210.8 1005.2,210.2 1004.2,209.2 1004.2,208.8 1002.8,207.2 1002.8,206.8 1001.8,205.8 1001.8,205.2 1000.8,204.2 1000.8,203.8 999.8,202.8 999.2,202.8 998.8,202.2 998.2,202.2 997.8,201.8 996.8,201.8 996.2,201.2 995.8,201.2 995.2,200.8 994.8,200.8 994.2,200.2 993.8,200.2 992.8,199.2 992.8,198.8 991.2,197.2ZM736.2,195.2 735.8,195.8 735.8,196.2 736.2,196.8 737.8,196.8 738.2,196.2 738.2,195.8 737.8,195.2ZM532.2,195.2 530.2,197.2 529.8,197.2 526.2,200.8 525.8,200.8 523.8,202.8 523.8,203.2 523.2,203.8 523.2,204.2 522.2,205.2 522.2,205.8 521.8,206.2 521.8,206.8 521.2,207.2 521.2,207.8 520.2,208.8 520.2,209.2 519.8,209.8 519.8,210.2 518.8,211.2 518.8,211.8 518.2,212.2 518.2,212.8 517.8,213.2 517.8,213.8 517.2,214.2 517.2,215.8 517.8,216.2 517.8,219.2 518.2,219.8 518.2,221.2 518.8,221.2 519.2,220.8 520.8,220.8 521.2,220.2 522.2,220.2 522.8,219.8 523.8,219.8 524.2,219.2 525.8,219.2 526.2,218.8 527.2,218.8 527.8,218.2 528.2,218.2 530.2,216.2 530.2,215.8 534.8,211.2 534.8,210.8 537.2,208.2 537.2,197.2 536.8,197.2 536.2,196.8 535.8,196.8 535.2,196.2 534.2,196.2 533.8,195.8 533.2,195.8 532.8,195.2ZM231.8,194.2 231.2,194.8 230.8,194.8 230.2,195.2 230.2,195.8 229.2,196.8 229.2,197.8 228.8,198.2 228.8,199.8 228.2,200.2 228.2,205.8 228.8,206.2 228.8,207.8 229.2,208.2 229.2,209.2 230.2,210.2 230.2,210.8 230.8,211.2 231.2,211.2 231.8,211.8 233.2,211.8 233.8,211.2 234.2,211.2 234.8,210.8 234.8,210.2 235.8,209.2 235.8,208.2 236.2,207.8 236.2,206.2 236.8,205.8 236.8,200.2 236.2,199.8 236.2,198.2 235.8,197.8 235.8,196.8 234.8,195.8 234.8,195.2 234.2,194.8 233.8,194.8 233.2,194.2ZM512.8,188.8 512.8,189.2 510.2,191.8 510.2,196.8 510.8,197.2 510.8,197.8 511.2,198.2 511.2,198.8 511.8,199.2 513.2,199.2 513.8,198.8 513.8,197.8 514.2,197.2 514.2,196.2 514.8,195.8 514.8,192.8 514.2,192.2 514.2,190.2 513.8,189.8 513.8,188.8ZM291.2,188.8 289.8,190.2 289.8,192.2 290.2,192.8 290.2,194.2 295.8,199.8 296.2,199.8 296.8,200.2 297.2,200.2 298.2,201.2 298.8,201.2 299.8,202.2 300.2,202.2 300.8,202.8 301.2,202.8 302.2,203.8 302.8,203.8 303.2,204.2 303.2,205.2 303.8,205.8 303.8,206.8 304.2,206.8 304.8,207.2 305.2,207.2 305.8,206.8 306.2,206.8 306.2,205.8 306.8,205.2 306.8,201.8 306.2,201.2 306.2,200.2 305.8,200.2 305.2,199.8 304.2,199.8 303.8,199.2 303.8,198.8 302.2,197.2 302.2,196.8 300.8,195.2 300.8,194.8 294.8,188.8ZM685.2,186.8 681.8,190.2 681.8,190.8 678.2,194.2 692.2,194.2 688.8,190.8 688.8,190.2ZM410.2,184.2 409.8,184.8 409.2,184.8 408.8,185.2 408.2,185.2 407.8,185.8 407.2,185.8 406.8,186.2 399.8,186.2 399.8,186.8 397.8,188.8 397.2,188.2 396.8,188.8 396.2,188.2 395.8,188.8 395.8,189.2 395.2,189.8 394.8,189.8 394.2,190.2 394.2,191.2 393.8,191.8 393.8,192.2 392.8,193.2 392.8,193.8 391.8,194.8 391.8,195.2 390.8,196.2 390.8,196.8 390.2,197.2 390.2,202.8 389.8,203.2 389.8,208.2 390.2,208.8 390.2,215.8 390.8,216.2 390.8,216.8 391.2,217.2 391.2,217.8 391.8,218.2 391.8,223.8 392.2,224.2 392.2,224.8 392.8,225.2 392.8,225.8 393.2,226.2 393.2,226.8 393.8,227.2 393.8,227.8 394.2,228.2 394.2,229.2 394.8,229.8 394.8,230.2 395.2,230.8 395.2,231.2 395.8,231.8 395.8,232.2 396.2,232.8 396.2,233.2 396.8,233.8 397.2,233.8 397.8,234.2 398.2,234.2 398.8,234.8 399.8,234.8 400.2,235.2 401.2,235.2 401.8,235.8 402.2,235.8 402.8,236.2 403.8,236.2 404.2,236.8 410.8,236.8 411.2,237.2 415.2,237.2 415.2,227.8 415.8,227.2 415.8,222.8 415.2,222.2 415.2,218.8 417.8,216.2 418.8,216.2 419.2,215.8 420.2,215.8 420.8,215.2 421.2,215.8 422.2,215.8 423.2,216.8 423.2,217.2 423.8,217.8 423.8,219.2 424.2,219.8 424.2,221.2 424.8,221.8 424.8,223.2 425.2,223.8 425.2,224.2 425.8,224.2 426.2,223.8 428.8,223.8 429.8,222.8 431.2,222.8 431.8,222.2 432.2,222.2 432.2,221.8 432.8,221.2 432.8,220.8 433.2,220.2 433.2,219.2 433.8,218.8 433.8,218.2 434.2,217.8 434.2,216.8 434.8,216.2 434.8,215.8 435.8,214.8 436.8,214.8 437.2,214.2 438.2,214.2 438.8,213.8 439.2,214.2 440.2,214.2 441.2,215.2 441.2,240.2 441.8,240.8 441.8,241.2 443.2,242.8 443.2,243.2 444.8,244.8 444.8,245.2 446.2,246.8 446.2,247.2 447.8,248.8 447.8,249.2 449.2,250.8 449.2,251.2 450.8,252.8 451.2,252.8 451.8,253.2 452.2,253.2 452.8,253.8 453.2,253.8 453.8,254.2 454.2,254.2 455.2,255.2 455.8,255.2 456.2,255.8 456.8,255.8 457.2,256.2 457.8,256.2 458.2,256.8 458.8,256.8 459.2,257.2 463.2,253.2 463.2,252.8 467.2,248.8 468.8,250.2 468.8,250.8 472.2,254.2 472.2,254.8 475.8,258.2 475.8,258.8 477.2,260.2 477.8,259.8 477.8,259.2 478.2,258.8 478.2,258.2 479.2,257.2 479.2,256.8 479.8,256.2 479.8,255.8 480.8,254.8 480.8,254.2 481.8,253.2 481.8,252.8 482.2,252.2 482.2,251.8 483.2,250.8 483.2,250.2 483.8,249.8 483.8,249.2 484.2,248.8 485.2,249.8 485.2,250.2 487.2,252.2 487.2,252.8 489.2,254.8 489.2,255.2 491.2,257.2 491.2,257.8 493.2,259.8 493.2,260.2 494.2,261.2 495.2,260.2 496.2,260.2 496.8,260.8 497.2,260.8 498.2,259.8 498.2,258.2 500.2,256.2 500.2,238.2 493.8,231.8 493.8,228.8 493.2,228.2 493.2,227.8 492.8,227.2 491.2,227.2 490.2,228.2 489.8,228.2 489.2,227.8 488.8,227.8 488.2,227.2 487.8,227.2 487.2,226.8 486.2,226.8 485.8,226.2 485.2,226.2 484.8,225.8 484.2,225.8 483.8,225.2 482.8,225.2 482.2,224.8 481.8,224.8 481.2,224.2 480.8,224.2 480.2,223.8 479.2,223.8 478.8,223.2 478.2,223.2 477.8,222.8 477.2,222.8 476.8,222.2 476.2,222.2 475.8,221.8 475.8,221.2 475.2,220.8 475.2,220.2 474.8,219.8 474.8,219.2 474.2,218.8 474.2,218.2 473.8,217.8 473.8,217.2 473.2,216.8 473.2,216.2 472.8,215.8 472.8,215.2 472.2,214.8 472.2,214.2 471.8,213.8 471.8,213.2 471.2,212.8 471.2,212.2 470.8,211.8 470.8,211.2 470.2,210.8 470.2,209.8 469.8,209.2 469.8,208.8 469.2,208.2 469.2,207.2 468.8,206.8 468.8,206.2 468.2,205.8 468.2,204.8 467.8,204.2 467.8,203.2 467.2,202.8 467.2,202.2 466.8,201.8 466.8,201.2 466.2,200.8 466.2,200.2 465.8,199.8 465.2,199.8 464.8,199.2 464.2,199.2 463.8,198.8 463.2,198.8 462.2,197.8 461.8,197.8 461.2,197.2 460.8,197.2 460.2,196.8 459.8,196.8 458.8,195.8 458.2,195.8 457.8,195.2 457.2,195.2 456.8,194.8 456.2,194.8 455.2,193.8 454.8,193.8 454.2,193.2 453.8,193.2 453.2,192.8 452.8,192.8 452.2,192.2 451.8,192.2 451.2,191.8 450.2,191.8 449.8,191.2 449.2,191.2 448.8,190.8 447.8,190.8 447.2,190.2 446.2,190.2 445.8,189.8 444.8,189.8 444.2,189.2 443.8,189.2 443.2,188.8 442.2,188.8 441.8,188.2 441.2,188.2 441.2,189.8 440.8,190.2 438.8,190.2 438.2,190.8 437.8,190.8 436.2,189.2 435.8,189.2 435.2,188.8 433.8,188.8 433.2,188.2 430.8,188.2 430.2,187.8 427.8,187.8 427.2,187.2 424.8,187.2 424.2,186.8 421.8,186.8 421.2,186.2 411.8,186.2 410.8,185.2 410.8,184.8ZM402.2,200.2 402.8,199.8 403.2,199.8 403.8,200.2 403.8,202.8 404.2,203.2 404.2,207.8 404.8,208.2 404.8,210.2 403.8,211.2 403.2,211.2 402.8,211.8 402.2,211.8 401.2,212.8 400.8,212.8 400.2,213.2 399.8,213.2 399.2,213.8 398.8,213.2 398.8,212.8 398.2,212.2 398.2,211.2 397.8,210.8 397.8,209.2 397.2,208.8 397.2,207.8 396.8,207.2 396.8,206.2 396.2,205.8 396.2,204.2 395.8,203.8 395.8,203.2 396.2,202.8 396.8,202.8 397.2,202.2 397.8,202.2 398.2,201.8 398.8,201.8 399.2,201.2 400.2,201.2 400.8,200.8 401.2,200.8 401.8,200.2ZM776.2,180.2 775.8,180.8 771.2,180.8 770.8,181.2 768.2,181.2 766.8,182.8 766.2,182.8 763.8,185.2 763.2,185.2 762.2,186.2 761.8,186.2 761.2,186.8 760.8,186.8 760.2,187.2 759.2,187.2 758.8,187.8 758.2,187.8 757.8,188.2 756.8,188.2 756.2,188.8 755.8,188.8 755.2,189.2 754.2,189.2 753.8,189.8 753.2,189.8 752.8,190.2 751.8,190.2 751.2,190.8 750.8,190.8 750.2,191.2 749.2,191.2 748.8,191.8 748.2,191.8 747.8,192.2 746.8,192.2 746.2,192.8 745.8,192.8 745.2,193.2 744.2,193.2 743.8,193.8 743.2,193.8 742.8,194.2 742.2,194.2 742.2,197.2 751.2,197.2 751.8,196.8 753.8,196.8 754.2,196.2 756.2,196.2 756.8,195.8 758.8,195.8 759.2,195.2 761.2,195.2 761.8,194.8 763.8,194.8 764.2,194.2 766.2,194.2 766.8,193.8 768.2,193.8 768.8,193.2 770.2,193.2 770.8,192.8 772.8,192.8 773.2,192.2 774.8,192.2 775.2,191.8 776.8,191.8 777.2,191.2 778.2,191.2 778.8,190.8 778.8,190.2 779.8,189.2 779.8,188.8 780.8,187.8 780.8,187.2 781.8,186.2 781.8,185.8 782.2,185.2 781.2,184.2 781.2,183.8 779.2,181.8 779.2,181.2 778.2,180.2ZM930.8,178.8 930.2,179.2 923.8,179.2 923.2,179.8 916.8,179.8 916.2,180.2 909.2,180.2 908.8,180.8 902.2,180.8 901.8,181.2 900.2,181.2 899.2,182.2 899.2,188.8 899.8,189.2 899.8,189.8 900.2,190.2 900.2,190.8 900.8,191.2 900.8,191.8 901.2,192.2 901.2,192.8 902.8,192.8 903.2,193.2 904.2,193.2 905.8,194.8 906.2,194.8 906.8,195.2 907.2,195.2 907.8,195.8 908.2,195.8 909.2,196.8 909.8,196.8 910.2,197.2 910.8,197.2 911.8,198.2 912.2,198.2 912.8,198.8 913.2,198.8 913.8,199.2 914.2,199.2 915.2,200.2 915.2,200.8 915.8,201.2 915.8,201.8 916.2,202.2 916.2,203.2 916.8,203.8 916.8,204.8 917.2,205.2 917.2,205.8 917.8,206.2 917.8,207.2 918.2,207.8 918.2,208.8 918.8,209.2 918.8,209.8 919.2,210.2 919.2,211.2 919.8,211.8 919.8,212.2 927.8,220.2 930.8,220.2 931.2,220.8 933.8,220.8 935.8,218.8 936.2,218.8 936.2,202.2 935.8,201.8 935.8,181.2 935.2,180.8 934.8,180.8 932.8,178.8ZM852.2,177.8 847.8,182.2 847.8,189.2 844.2,192.8 843.8,192.8 840.8,195.8 840.2,195.8 839.2,196.8 833.8,196.8 833.2,196.2 825.8,196.2 825.2,195.8 815.8,195.8 815.2,195.2 810.2,195.2 810.2,198.2 811.8,198.2 812.2,198.8 815.8,198.8 816.2,199.2 819.2,199.2 819.8,199.8 823.2,199.8 823.8,200.2 825.2,200.2 825.8,200.8 826.2,200.8 827.2,201.8 827.8,201.8 828.2,202.2 828.8,202.2 829.8,203.2 830.2,203.2 831.2,204.2 831.8,204.2 832.8,205.2 833.2,205.2 833.8,205.8 834.2,205.8 835.2,206.8 835.8,206.8 836.2,207.2 838.2,207.2 838.8,207.8 840.8,207.8 841.2,208.2 841.8,207.8 842.8,207.8 843.2,208.2 845.2,208.2 845.8,207.8 845.8,207.2 846.2,206.8 846.2,206.2 847.2,205.2 847.2,204.8 847.8,204.2 847.8,203.8 848.2,203.2 846.2,201.2 846.2,200.8 846.8,200.2 847.2,200.2 847.2,199.8 849.2,197.8 849.8,197.8 850.2,198.2 850.2,198.8 862.2,198.8 862.8,198.2 863.2,198.2 863.8,197.8 864.2,197.8 865.2,196.8 865.8,196.8 866.2,196.2 866.8,196.2 867.8,195.2 868.2,195.2 868.8,194.8 869.2,194.8 869.8,194.2 869.8,185.2 869.2,184.8 869.2,184.2 867.8,182.8 867.8,182.2 866.2,180.8 866.2,180.2 864.8,178.8 864.8,178.2 864.2,177.8Z" fill="#8f8f8f" fill-rule="evenodd" stroke="#8f8f8f" stroke-width="0.6"/>
<path d="M698.2,354.2 697.8,354.8 696.2,354.8 695.8,355.2 694.8,355.2 692.8,357.2 692.8,357.8 692.2,358.2 692.2,358.8 713.8,358.8 713.8,358.2 713.2,357.8 713.2,357.2 711.2,355.2 710.2,355.2 709.8,354.8 708.2,354.8 707.8,354.2ZM512.2,305.2 511.8,305.8 511.8,308.8 512.2,309.2 512.8,309.2 513.2,308.8 513.2,305.8 512.8,305.2ZM1010.2,301.2 1008.2,303.2 1008.2,303.8 1004.8,307.2 1004.8,307.8 1003.2,309.2 1003.8,309.8 1003.8,310.2 1004.2,310.8 1004.2,311.2 1005.2,312.2 1005.2,312.8 1005.8,313.2 1005.8,313.8 1006.2,314.2 1018.2,314.2 1019.2,313.2 1019.2,312.8 1020.8,311.2 1020.8,310.8 1022.8,308.8 1022.8,308.2 1024.2,306.8 1024.2,306.2 1025.2,305.2 1024.2,304.2 1024.2,303.8 1022.8,302.2 1022.8,301.8 1022.2,301.2ZM500.2,292.2 499.8,292.8 499.8,295.2 500.2,295.8 500.8,295.8 501.2,295.2 501.2,292.8 500.8,292.2ZM1026.2,290.2 1025.8,290.8 1025.2,290.8 1024.8,291.2 1024.2,291.2 1023.2,292.2 1022.8,292.2 1022.2,292.8 1021.8,292.8 1021.2,293.2 1020.8,293.2 1020.2,293.8 1021.8,295.2 1021.8,295.8 1023.2,297.2 1031.2,297.2 1031.8,296.8 1031.8,296.2 1032.2,295.8 1032.2,295.2 1033.2,294.2 1033.2,293.8 1033.8,293.2 1033.8,292.8 1034.2,292.2 1033.8,292.2 1033.2,291.8 1031.8,291.8 1031.2,291.2 1029.8,291.2 1029.2,290.8 1027.8,290.8 1027.2,290.2ZM978.2,283.2 977.8,283.8 973.2,283.8 972.8,284.2 970.2,284.2 970.2,284.8 970.8,285.2 970.8,285.8 971.2,286.2 971.2,286.8 971.8,287.2 971.8,287.8 972.2,288.2 976.8,288.2 977.2,288.8 981.2,288.8 981.2,287.8 980.8,287.2 980.8,284.8 980.2,284.2 980.2,283.2ZM535.8,283.2 535.2,283.8 526.2,283.8 525.8,284.2 521.2,284.2 521.2,291.8 533.2,291.8 533.8,291.2 546.2,291.2 546.8,290.8 548.8,290.8 549.2,290.2 550.8,290.2 551.2,289.8 553.2,289.8 553.8,289.2 555.8,289.2 556.2,288.8 557.8,288.8 558.2,288.2 560.2,288.2 560.8,287.8 562.8,287.8 563.2,287.2 564.8,287.2 565.2,286.8 566.2,286.8 564.8,286.8 564.2,286.2 560.8,286.2 560.2,285.8 557.2,285.8 556.8,285.2 553.8,285.2 553.2,284.8 549.8,284.8 549.2,284.2 546.2,284.2 545.8,283.8 542.2,283.8 541.8,283.2ZM506.2,280.8 506.2,285.2 507.8,285.2 507.8,280.8ZM1014.8,266.2 1014.2,266.8 1014.2,267.2 1013.8,267.8 1013.8,268.2 1012.8,269.2 1012.8,269.8 1012.2,270.2 1012.2,270.8 1011.8,271.2 1011.8,271.8 1011.2,272.2 1011.2,272.8 1011.8,273.2 1011.8,273.8 1012.2,274.2 1012.2,274.8 1012.8,275.2 1012.8,275.8 1013.2,276.2 1013.2,276.8 1013.8,277.2 1013.8,277.8 1014.2,278.2 1014.2,278.8 1014.8,279.2 1014.8,278.8 1015.2,278.2 1015.2,277.8 1015.8,277.2 1015.8,276.8 1016.2,276.2 1016.2,275.8 1016.8,275.2 1016.8,274.8 1017.2,274.2 1017.2,273.8 1017.8,273.2 1017.8,272.8 1018.2,272.2 1017.8,271.8 1017.8,271.2 1017.2,270.8 1017.2,270.2 1016.2,269.2 1016.2,268.8 1015.8,268.2 1015.8,267.8 1015.2,267.2 1015.2,266.8ZM527.2,251.8 526.8,252.2 523.2,252.2 522.8,252.8 518.8,252.8 518.2,253.2 516.2,253.2 516.2,259.8 523.8,259.8 524.2,260.2 531.2,260.2 532.2,259.2 532.8,259.2 535.2,256.8 535.8,256.8 537.2,255.2 536.8,255.2 536.2,254.8 535.8,254.8 535.2,254.2 534.8,254.2 534.2,253.8 533.8,253.8 533.2,253.2 532.2,253.2 531.8,252.8 531.2,252.8 530.8,252.2 530.2,252.2 529.8,251.8ZM491.8,228.8 491.2,229.2 491.2,230.8 491.8,231.2 492.2,231.2 492.8,230.8 492.8,229.2 492.2,228.8ZM218.2,205.2 217.8,205.8 217.8,208.2 218.2,208.8 218.8,208.8 218.8,208.2 219.2,207.8 219.2,206.2 218.8,205.8 218.8,205.2ZM304.8,201.2 304.2,201.8 304.2,205.2 304.8,205.8 305.2,205.8 305.8,205.2 305.8,201.8 305.2,201.2ZM393.2,200.2 391.8,201.8 391.2,201.8 389.8,203.2 389.8,208.2 390.2,208.8 390.2,213.2 391.2,213.2 391.8,212.8 393.2,212.8 393.8,212.2 394.2,212.2 394.2,209.8 393.8,209.2 393.8,203.8 393.2,203.2ZM232.2,199.8 231.8,200.2 231.8,200.8 231.2,201.2 231.2,204.8 231.8,205.2 231.8,205.8 232.2,206.2 232.8,206.2 233.2,205.8 233.2,205.2 233.8,204.8 233.8,201.2 233.2,200.8 233.2,200.2 232.8,199.8ZM979.2,197.2 977.8,198.8 977.8,199.2 975.8,201.2 973.2,201.2 971.8,202.8 971.8,203.2 970.2,204.8 970.2,207.2 971.2,208.2 971.2,208.8 972.8,210.2 972.8,210.8 973.2,211.2 973.2,216.2 973.8,216.8 973.8,217.2 974.2,217.8 974.2,218.2 975.2,219.2 975.2,219.8 976.2,220.8 976.2,221.2 976.8,221.8 976.8,222.2 977.8,223.2 977.8,223.8 978.2,224.2 979.8,224.2 980.2,224.8 982.8,224.8 983.2,225.2 985.8,225.2 986.2,225.8 988.8,225.8 989.2,226.2 990.2,226.2 991.2,227.2 991.8,227.2 993.2,228.8 993.8,228.8 995.8,230.8 996.2,230.8 997.8,232.2 998.2,232.2 999.2,233.2 1000.8,233.2 1001.2,233.8 1003.8,233.8 1004.2,234.2 1006.8,234.2 1007.2,234.8 1009.8,234.8 1010.2,235.2 1011.2,235.2 1011.8,234.8 1012.2,234.8 1012.8,234.2 1013.2,234.2 1013.8,233.8 1014.8,233.8 1015.2,233.2 1016.8,233.2 1017.2,232.8 1018.2,232.8 1018.2,232.2 1018.8,231.8 1018.8,230.2 1019.2,229.8 1019.2,228.2 1019.8,227.8 1019.8,227.2 1019.2,226.8 1019.2,226.2 1018.8,225.8 1018.8,225.2 1018.2,224.8 1018.2,224.2 1017.8,223.8 1017.8,223.2 1017.2,222.8 1017.2,221.2 1010.2,214.2 1009.8,214.2 1009.2,213.8 1008.2,213.8 1007.8,213.2 1006.2,213.2 1005.8,212.8 1004.8,212.8 1004.2,212.2 1003.2,212.2 1002.8,211.8 1002.8,211.2 1001.8,210.2 1001.8,209.8 1000.2,208.2 1000.2,207.8 999.2,206.8 999.2,206.2 998.2,205.2 998.2,204.8 997.8,204.8 995.8,202.8 995.8,202.2 992.8,199.2 992.8,198.8 991.2,197.2ZM842.2,197.2 841.8,197.8 839.2,197.8 838.8,198.2 837.2,198.2 837.2,205.2 837.8,205.8 838.2,205.8 839.8,207.2 840.2,207.2 841.2,208.2 842.2,207.2 842.2,206.8 844.2,204.8 844.2,204.2 845.2,203.2 845.2,202.8 844.8,202.2 844.8,201.2 844.2,200.8 844.2,199.8 843.8,199.2 843.8,198.2 843.2,197.8 843.2,197.2ZM531.2,197.2 530.8,197.8 530.2,197.8 529.2,198.8 528.8,198.8 527.8,199.8 527.2,199.8 526.8,200.2 526.8,201.2 527.2,201.8 527.2,203.2 527.8,203.8 527.8,205.2 528.2,205.8 528.2,206.8 533.8,206.8 533.8,205.2 534.2,204.8 534.2,202.2 534.8,201.8 534.8,200.2 533.2,198.8 532.8,198.8ZM438.8,192.8 438.2,193.2 433.8,193.2 433.2,193.8 428.2,193.8 427.8,194.2 423.2,194.2 422.8,194.8 422.8,204.8 423.2,205.2 423.2,206.8 423.8,207.2 423.8,208.8 424.2,209.2 424.2,210.8 424.8,211.2 424.8,212.8 425.2,213.2 425.2,214.2 425.8,214.8 425.8,216.2 426.2,216.8 426.2,218.2 426.8,218.8 426.8,220.2 427.2,220.8 427.2,221.2 427.8,221.2 428.2,220.8 429.2,220.8 429.8,220.2 430.2,220.2 430.2,219.8 430.8,219.2 430.8,218.2 431.2,217.8 431.2,217.2 431.8,216.8 431.8,215.8 432.2,215.2 432.2,214.8 432.8,214.2 432.8,213.8 433.2,213.2 433.2,212.2 433.8,211.8 433.8,211.2 434.2,210.8 434.2,209.8 434.8,209.2 434.8,208.8 435.2,208.2 435.2,207.2 435.8,206.8 435.8,206.2 436.2,205.8 436.2,204.8 436.8,204.2 436.8,203.8 437.2,203.2 437.2,202.8 437.8,202.2 437.8,201.2 438.2,200.8 438.2,200.2 438.8,199.8ZM294.2,192.8 293.8,193.2 293.8,194.8 294.2,195.2 295.8,195.2 296.2,194.8 296.2,193.2 295.8,192.8ZM443.2,191.2 443.2,242.2 462.2,242.2 462.8,241.8 462.8,241.2 463.2,240.8 463.2,240.2 464.2,239.2 464.2,238.8 464.8,238.2 464.8,237.8 465.2,237.2 465.2,236.8 466.2,235.8 466.2,235.2 466.8,234.8 466.8,234.2 467.8,233.2 467.8,232.8 468.2,232.2 468.2,231.8 469.2,230.8 469.2,230.2 469.8,229.8 469.8,229.2 470.2,228.8 470.2,228.2 471.2,227.2 471.2,226.8 471.8,226.2 471.8,225.8 472.2,225.2 472.2,222.8 471.8,222.2 471.8,217.2 471.2,216.8 471.2,213.8 470.8,213.2 470.8,212.2 470.2,211.8 470.2,210.8 469.8,210.2 469.8,209.2 469.2,208.8 469.2,207.8 468.8,207.2 468.8,206.2 468.2,205.8 468.2,204.8 467.8,204.2 467.8,203.2 467.2,202.8 467.2,202.2 466.8,201.8 466.2,201.8 465.8,201.2 465.2,201.2 464.8,200.8 464.2,200.8 463.2,199.8 462.8,199.8 462.2,199.2 461.8,199.2 461.2,198.8 460.8,198.8 460.2,198.2 459.8,198.2 458.8,197.2 458.2,197.2 457.8,196.8 457.2,196.8 456.8,196.2 456.2,196.2 455.2,195.2 454.8,195.2 454.2,194.8 453.8,194.8 453.2,194.2 452.8,194.2 452.2,193.8 451.8,193.8 451.2,193.2 450.8,193.2 450.2,192.8 448.8,192.8 448.2,192.2 446.8,192.2 446.2,191.8 444.8,191.8 444.2,191.2ZM397.2,188.2 396.8,188.8 396.2,188.8 395.2,189.8 394.8,189.8 394.2,190.2 394.2,192.8 394.8,193.2 394.8,197.8 395.2,198.2 395.2,200.2 400.2,200.2 400.2,193.2 399.8,192.8 399.8,192.2 399.2,191.8 399.2,191.2 398.2,190.2 398.2,189.8 397.8,189.2 397.8,188.8ZM408.8,187.8 408.2,188.2 407.8,188.2 407.2,188.8 406.8,188.8 406.8,213.2 407.2,213.2 408.8,214.8 409.2,214.8 409.8,214.2 410.2,214.2 414.2,210.2 414.8,210.2 415.8,209.2 415.8,197.2 415.2,196.8 415.2,196.2 414.2,195.2 414.2,194.8 413.2,193.8 413.2,193.2 412.2,192.2 412.2,191.8 411.2,190.8 411.2,190.2 410.2,189.2 410.2,188.8 409.2,187.8ZM930.8,181.8 930.2,182.2 923.8,182.2 923.2,182.8 916.8,182.8 916.2,183.2 909.2,183.2 908.8,183.8 902.2,183.8 902.2,187.8 902.8,188.2 902.8,188.8 903.2,189.2 903.2,189.8 903.8,190.2 904.2,190.2 905.2,191.2 905.2,194.2 905.8,194.8 906.2,194.8 906.8,195.2 907.2,195.2 907.8,195.8 908.2,195.8 909.2,196.8 909.8,196.8 910.2,197.2 910.8,197.2 911.8,198.2 912.2,198.2 912.8,198.8 913.2,198.8 913.8,199.2 914.2,199.2 915.2,200.2 915.8,200.2 916.2,200.8 916.8,200.8 917.2,201.2 917.2,201.8 917.8,202.2 917.8,203.8 918.2,204.2 918.2,205.2 918.8,205.8 918.8,206.8 919.2,207.2 919.2,208.8 919.8,209.2 919.8,210.2 920.2,210.8 920.2,211.2 921.8,212.8 921.8,213.2 925.2,216.8 925.2,217.2 927.2,219.2 927.8,218.8 928.2,218.8 928.8,218.2 929.2,218.2 930.2,217.2 930.8,217.2 931.2,217.8 932.8,217.8 933.2,217.2 933.2,201.8 932.8,201.2 932.8,182.8 931.8,181.8ZM772.2,181.8 771.8,182.2 771.2,182.2 770.8,182.8 770.2,182.8 769.8,183.2 769.2,183.2 768.8,183.8 768.2,183.8 767.8,184.2 767.2,184.2 767.2,184.8 767.8,185.2 767.8,186.2 768.2,186.8 768.2,187.2 769.2,187.2 769.8,187.8 771.8,187.8 772.2,188.2 773.2,188.2 777.2,184.2 776.8,183.8 776.2,183.8 775.8,183.2 775.2,183.2 774.8,182.8 774.2,182.8 773.8,182.2 773.2,182.2 772.8,181.8ZM856.8,179.8 856.2,180.2 855.8,180.2 855.2,180.8 854.8,180.8 854.2,181.2 853.8,181.2 853.2,181.8 852.8,181.8 852.2,182.2 851.8,182.2 851.8,185.2 851.2,185.8 851.2,189.8 851.8,190.2 851.8,191.8 852.2,192.2 852.2,193.2 852.8,193.8 852.8,195.2 853.2,195.8 853.2,196.2 861.2,196.2 862.2,195.2 862.2,194.8 864.8,192.2 864.8,191.8 866.2,190.2 866.2,189.2 865.8,188.8 865.8,187.2 865.2,186.8 865.2,184.8 864.8,184.2 864.8,182.8 864.2,182.2 864.2,181.2 863.2,181.2 862.8,180.8 861.2,180.8 860.8,180.2 858.8,180.2 858.2,179.8Z" fill="#737373" fill-rule="evenodd" stroke="#737373" stroke-width="0.6"/>
<path d="M700.2,357.2 699.8,357.8 698.2,357.8 697.2,358.8 708.8,358.8 707.8,357.8 706.2,357.8 705.8,357.2ZM1011.2,305.2 1011.2,310.2 1015.2,310.2 1015.2,305.2ZM980.2,199.8 980.2,200.2 976.8,203.8 974.2,203.8 974.2,204.2 972.8,205.8 972.8,206.2 973.8,207.2 973.8,207.8 975.2,209.2 975.2,209.8 975.8,210.2 975.8,215.2 976.2,215.8 976.2,216.2 976.8,216.8 976.8,217.2 977.8,218.2 977.8,218.8 978.8,219.8 978.8,220.2 979.2,220.8 979.2,221.2 980.2,222.2 982.8,222.2 983.2,222.8 985.8,222.8 986.2,223.2 988.8,223.2 989.2,223.8 990.2,223.8 990.8,224.2 991.8,224.2 992.8,225.2 993.2,225.2 994.8,226.8 995.2,226.8 997.2,228.8 997.8,228.8 999.2,230.2 999.8,230.2 1000.2,230.8 1000.8,230.8 1001.2,231.2 1003.8,231.2 1004.2,231.8 1006.8,231.8 1007.2,232.2 1009.8,232.2 1010.2,232.8 1010.8,232.8 1011.2,232.2 1011.8,232.2 1012.2,231.8 1012.8,231.8 1013.2,231.2 1014.8,231.2 1015.2,230.8 1016.2,230.8 1016.2,229.2 1016.8,228.8 1016.8,227.2 1016.2,226.8 1016.2,226.2 1015.8,225.8 1015.8,225.2 1015.2,224.8 1015.2,224.2 1014.8,223.8 1014.8,222.2 1008.8,216.2 1008.2,216.2 1007.8,215.8 1006.2,215.8 1005.8,215.2 1004.8,215.2 1004.2,214.8 1003.2,214.8 1002.8,214.2 1001.8,214.2 1000.2,212.8 1000.2,212.2 999.2,211.2 999.2,210.8 997.8,209.2 997.8,208.8 996.8,207.8 996.8,207.2 995.8,206.2 995.2,206.2 994.8,205.8 994.8,205.2 993.2,203.8 993.2,203.2 990.2,200.2 990.2,199.8ZM445.2,193.8 445.2,240.2 461.2,240.2 461.2,239.8 461.8,239.2 461.8,238.8 462.8,237.8 462.8,237.2 463.2,236.8 463.2,236.2 463.8,235.8 463.8,235.2 464.8,234.2 464.8,233.8 465.2,233.2 465.2,232.8 466.2,231.8 466.2,231.2 466.8,230.8 466.8,230.2 467.8,229.2 467.8,228.8 468.2,228.2 468.2,227.8 468.8,227.2 468.8,226.8 469.8,225.8 469.8,225.2 470.2,224.8 470.2,223.2 469.8,222.8 469.8,217.8 469.2,217.2 469.2,214.2 468.8,213.8 468.8,212.8 468.2,212.2 468.2,211.2 467.8,210.8 467.8,209.8 467.2,209.2 467.2,208.2 466.8,207.8 466.8,206.8 466.2,206.2 466.2,205.2 465.8,204.8 465.8,203.8 465.2,203.2 464.8,203.2 464.2,202.8 463.8,202.8 463.2,202.2 462.8,202.2 461.8,201.2 461.2,201.2 460.8,200.8 460.2,200.8 459.8,200.2 459.2,200.2 458.8,199.8 458.2,199.8 457.2,198.8 456.8,198.8 456.2,198.2 455.8,198.2 455.2,197.8 454.8,197.8 453.8,196.8 453.2,196.8 452.8,196.2 452.2,196.2 451.8,195.8 451.2,195.8 450.8,195.2 450.2,195.2 449.8,194.8 448.8,194.8 448.2,194.2 446.8,194.2 446.2,193.8ZM911.8,185.8 911.2,186.2 910.2,186.2 909.8,186.8 909.2,186.8 908.8,187.2 907.8,187.2 907.2,187.8 907.2,193.2 907.8,193.2 908.2,193.8 908.8,193.8 909.2,194.2 909.8,194.2 910.8,195.2 911.2,195.2 911.8,195.8 912.2,195.8 913.2,196.8 913.8,196.8 914.2,197.2 914.8,197.2 915.2,197.8 915.8,197.8 916.8,198.8 917.2,198.8 917.8,199.2 918.2,199.2 918.8,199.8 918.8,200.2 919.2,200.8 919.2,201.2 919.8,201.8 919.8,203.2 920.2,203.8 920.2,204.8 920.8,205.2 920.8,206.2 921.2,206.8 921.2,208.2 921.8,208.8 921.8,209.8 923.2,211.2 923.2,211.8 926.8,215.2 926.8,215.8 927.8,216.8 928.8,215.8 929.2,215.8 929.8,215.2 930.2,215.2 930.2,212.2 930.8,211.8 930.8,205.2 931.2,204.8 931.2,202.2 930.8,201.8 930.8,201.2 930.2,200.8 930.2,199.8 929.8,199.2 929.8,198.8 929.2,198.2 929.2,197.2 928.8,196.8 928.8,196.2 928.2,195.8 928.2,194.8 927.8,194.2 927.8,193.8 927.2,193.2 926.8,193.2 926.2,192.8 925.8,192.8 925.2,192.2 924.8,192.2 923.8,191.2 923.2,191.2 922.8,190.8 922.2,190.8 921.8,190.2 921.2,190.2 920.8,189.8 920.2,189.8 919.2,188.8 918.8,188.8 918.2,188.2 917.8,188.2 917.2,187.8 916.8,187.8 915.8,186.8 915.2,186.8 914.8,186.2 914.2,186.2 913.8,185.8ZM857.2,181.8 856.8,182.2 856.2,182.2 855.8,182.8 855.2,182.8 854.8,183.2 854.2,183.2 853.8,183.8 853.8,185.8 853.2,186.2 853.2,189.2 853.8,189.8 853.8,191.2 854.2,191.8 854.2,192.8 854.8,193.2 854.8,194.2 860.2,194.2 860.8,193.8 860.8,193.2 863.2,190.8 863.2,190.2 863.8,189.8 863.8,187.8 863.2,187.2 863.2,185.2 862.8,184.8 862.8,183.2 862.2,182.8 861.2,182.8 860.8,182.2 858.8,182.2 858.2,181.8Z" fill="#585858" fill-rule="evenodd" stroke="#585858" stroke-width="0.6"/>
<line x1="128" y1="321.50" x2="1094" y2="321.50" stroke="#7a7a7a" stroke-width="1" stroke-dasharray="1 1"/>
<line x1="128" y1="284.50" x2="1094" y2="284.50" stroke="#7a7a7a" stroke-width="1" stroke-dasharray="1 1"/>
<line x1="128" y1="247.50" x2="1094" y2="247.50" stroke="#7a7a7a" stroke-width="1" stroke-dasharray="1 1"/>
<line x1="128" y1="209.50" x2="1094" y2="209.50" stroke="#7a7a7a" stroke-width="1" stroke-dasharray="1 1"/>
<line x1="128" y1="172.50" x2="1094" y2="172.50" stroke="#7a7a7a" stroke-width="1" stroke-dasharray="1 1"/>
<line x1="265.50" y1="97" x2="265.50" y2="359" stroke="#a0a0a0" stroke-width="1"/>
<line x1="403.50" y1="97" x2="403.50" y2="359" stroke="#a0a0a0" stroke-width="1"/>
<line x1="541.50" y1="97" x2="541.50" y2="359" stroke="#a0a0a0" stroke-width="1"/>
<line x1="680.50" y1="97" x2="680.50" y2="359" stroke="#a0a0a0" stroke-width="1"/>
<line x1="818.50" y1="97" x2="818.50" y2="359" stroke="#a0a0a0" stroke-width="1"/>
<line x1="956.50" y1="97" x2="956.50" y2="359" stroke="#a0a0a0" stroke-width="1"/>
<rect x="499.1" y="351.0" width="4" height="8.0" fill="#0050ff"/>
<rect x="505.1" y="344.1" width="4" height="14.9" fill="#0050ff"/>
<rect x="511.0" y="351.0" width="4" height="8.0" fill="#0050ff"/>
<rect x="1000.0" y="357.0" width="4" height="2.0" fill="#0050ff"/>
<rect x="1006.0" y="354.0" width="4" height="5.0" fill="#0050ff"/>
<rect x="1012.0" y="353.0" width="4" height="6.0" fill="#0050ff"/>
<rect x="1017.5" y="353.0" width="4" height="6.0" fill="#0050ff"/>
<rect x="1023.0" y="354.5" width="4" height="4.5" fill="#0050ff"/>
<rect x="1029.1" y="356.0" width="4" height="3.0" fill="#0050ff"/>
<line x1="127" y1="352.5" x2="1095" y2="352.5" stroke="#3a3a3a" stroke-width="1"/>
<line x1="144.50" y1="354.3" x2="144.50" y2="359" stroke="#333" stroke-width="1"/>
<line x1="161.50" y1="349" x2="161.50" y2="359" stroke="#333" stroke-width="1"/>
<line x1="178.50" y1="354.3" x2="178.50" y2="359" stroke="#333" stroke-width="1"/>
<line x1="196.50" y1="349" x2="196.50" y2="359" stroke="#333" stroke-width="1"/>
<line x1="213.50" y1="354.3" x2="213.50" y2="359" stroke="#333" stroke-width="1"/>
<line x1="230.50" y1="349" x2="230.50" y2="359" stroke="#333" stroke-width="1"/>
<line x1="247.50" y1="354.3" x2="247.50" y2="359" stroke="#333" stroke-width="1"/>
<line x1="265.50" y1="349" x2="265.50" y2="359" stroke="#333" stroke-width="1"/>
<line x1="282.50" y1="354.3" x2="282.50" y2="359" stroke="#333" stroke-width="1"/>
<line x1="299.50" y1="349" x2="299.50" y2="359" stroke="#333" stroke-width="1"/>
<line x1="317.50" y1="354.3" x2="317.50" y2="359" stroke="#333" stroke-width="1"/>
<line x1="334.50" y1="349" x2="334.50" y2="359" stroke="#333" stroke-width="1"/>
<line x1="351.50" y1="354.3" x2="351.50" y2="359" stroke="#333" stroke-width="1"/>
<line x1="368.50" y1="349" x2="368.50" y2="359" stroke="#333" stroke-width="1"/>
<line x1="386.50" y1="354.3" x2="386.50" y2="359" stroke="#333" stroke-width="1"/>
<line x1="403.50" y1="349" x2="403.50" y2="359" stroke="#333" stroke-width="1"/>
<line x1="420.50" y1="354.3" x2="420.50" y2="359" stroke="#333" stroke-width="1"/>
<line x1="438.50" y1="349" x2="438.50" y2="359" stroke="#333" stroke-width="1"/>
<line x1="455.50" y1="354.3" x2="455.50" y2="359" stroke="#333" stroke-width="1"/>
<line x1="472.50" y1="349" x2="472.50" y2="359" stroke="#333" stroke-width="1"/>
<line x1="489.50" y1="354.3" x2="489.50" y2="359" stroke="#333" stroke-width="1"/>
<line x1="507.50" y1="349" x2="507.50" y2="359" stroke="#333" stroke-width="1"/>
<line x1="524.50" y1="354.3" x2="524.50" y2="359" stroke="#333" stroke-width="1"/>
<line x1="541.50" y1="349" x2="541.50" y2="359" stroke="#333" stroke-width="1"/>
<line x1="559.50" y1="354.3" x2="559.50" y2="359" stroke="#333" stroke-width="1"/>
<line x1="576.50" y1="349" x2="576.50" y2="359" stroke="#333" stroke-width="1"/>
<line x1="593.50" y1="354.3" x2="593.50" y2="359" stroke="#333" stroke-width="1"/>
<line x1="611.50" y1="349" x2="611.50" y2="359" stroke="#333" stroke-width="1"/>
<line x1="628.50" y1="354.3" x2="628.50" y2="359" stroke="#333" stroke-width="1"/>
<line x1="645.50" y1="349" x2="645.50" y2="359" stroke="#333" stroke-width="1"/>
<line x1="662.50" y1="354.3" x2="662.50" y2="359" stroke="#333" stroke-width="1"/>
<line x1="680.50" y1="349" x2="680.50" y2="359" stroke="#333" stroke-width="1"/>
<line x1="697.50" y1="354.3" x2="697.50" y2="359" stroke="#333" stroke-width="1"/>
<line x1="714.50" y1="349" x2="714.50" y2="359" stroke="#333" stroke-width="1"/>
<line x1="732.50" y1="354.3" x2="732.50" y2="359" stroke="#333" stroke-width="1"/>
<line x1="749.50" y1="349" x2="749.50" y2="359" stroke="#333" stroke-width="1"/>
<line x1="766.50" y1="354.3" x2="766.50" y2="359" stroke="#333" stroke-width="1"/>
<line x1="783.50" y1="349" x2="783.50" y2="359" stroke="#333" stroke-width="1"/>
<line x1="801.50" y1="354.3" x2="801.50" y2="359" stroke="#333" stroke-width="1"/>
<line x1="818.50" y1="349" x2="818.50" y2="359" stroke="#333" stroke-width="1"/>
<line x1="835.50" y1="354.3" x2="835.50" y2="359" stroke="#333" stroke-width="1"/>
<line x1="853.50" y1="349" x2="853.50" y2="359" stroke="#333" stroke-width="1"/>
<line x1="870.50" y1="354.3" x2="870.50" y2="359" stroke="#333" stroke-width="1"/>
<line x1="887.50" y1="349" x2="887.50" y2="359" stroke="#333" stroke-width="1"/>
<line x1="904.50" y1="354.3" x2="904.50" y2="359" stroke="#333" stroke-width="1"/>
<line x1="922.50" y1="349" x2="922.50" y2="359" stroke="#333" stroke-width="1"/>
<line x1="939.50" y1="354.3" x2="939.50" y2="359" stroke="#333" stroke-width="1"/>
<line x1="956.50" y1="349" x2="956.50" y2="359" stroke="#333" stroke-width="1"/>
<line x1="974.50" y1="354.3" x2="974.50" y2="359" stroke="#333" stroke-width="1"/>
<line x1="991.50" y1="349" x2="991.50" y2="359" stroke="#333" stroke-width="1"/>
<line x1="1008.50" y1="354.3" x2="1008.50" y2="359" stroke="#333" stroke-width="1"/>
<line x1="1025.50" y1="349" x2="1025.50" y2="359" stroke="#333" stroke-width="1"/>
<line x1="1043.50" y1="354.3" x2="1043.50" y2="359" stroke="#333" stroke-width="1"/>
<line x1="1060.50" y1="349" x2="1060.50" y2="359" stroke="#333" stroke-width="1"/>
<line x1="1077.50" y1="354.3" x2="1077.50" y2="359" stroke="#333" stroke-width="1"/>
<path d="M127.0,286.0 C128.5,287.0 137.0,293.0 139.6,294.8 C142.2,296.6 147.3,299.9 149.1,301.8 C150.9,303.7 154.0,308.6 155.4,311.2 C156.8,313.8 158.5,326.9 161.1,323.9 C163.7,320.9 173.6,295.3 177.6,285.3 C181.6,275.3 192.2,244.9 195.0,237.9 C197.8,230.9 199.8,227.6 201.3,225.3 C202.8,223.0 206.1,218.9 207.6,218.3 C209.1,217.7 212.2,218.9 213.9,220.5 C215.6,222.1 220.0,228.1 221.8,231.6 C223.6,235.1 228.0,247.3 229.7,250.6 C231.4,253.9 234.5,258.6 236.0,260.0 C237.5,261.4 241.1,262.3 242.4,262.6 C243.7,262.9 245.8,261.8 247.1,262.3 C248.4,262.8 251.2,265.4 253.4,267.0 C255.6,268.6 263.8,274.6 266.0,275.9 C268.2,277.2 270.3,277.6 272.6,278.4 C274.9,279.2 282.3,281.8 285.3,282.8 C288.3,283.8 295.7,286.5 297.9,286.9 C300.1,287.3 302.7,286.9 304.2,286.0 C305.7,285.1 308.4,282.4 310.6,279.0 C312.8,275.6 320.4,262.4 323.2,256.9 C326.0,251.4 332.3,235.5 334.3,231.6 C336.3,227.7 339.2,224.9 340.6,223.7 C342.0,222.5 344.5,221.1 346.0,221.5 C347.5,221.9 351.4,224.8 353.2,226.9 C355.0,229.0 359.3,236.7 361.1,239.5 C362.9,242.3 367.2,248.6 369.0,250.6 C370.8,252.6 374.5,255.5 376.9,256.3 C379.3,257.1 386.9,257.6 389.6,257.8 C392.3,258.0 397.2,258.1 400.0,258.2 C402.8,258.3 410.3,258.5 414.0,258.5 C417.7,258.5 428.5,258.4 431.3,257.8 C434.1,257.2 436.0,255.3 437.7,253.7 C439.4,252.1 443.6,246.8 445.6,244.2 C447.6,241.6 452.8,234.4 455.0,231.6 C457.2,228.8 462.3,222.4 464.5,220.5 C466.7,218.6 472.0,215.7 474.0,215.2 C476.0,214.7 480.1,215.2 481.9,215.8 C483.7,216.4 487.8,219.0 489.8,220.5 C491.8,222.0 496.7,226.4 499.3,228.4 C501.9,230.4 509.0,236.3 512.0,237.9 C515.0,239.5 521.9,241.3 524.6,242.0 C527.3,242.7 532.9,243.8 535.0,244.2 C537.1,244.6 539.9,245.0 542.6,245.3 C545.3,245.6 554.5,246.5 558.4,246.9 C562.3,247.3 572.5,249.2 575.8,248.5 C579.1,247.8 584.1,243.4 586.9,240.6 C589.7,237.8 596.7,227.8 599.5,224.8 C602.3,221.8 608.0,216.8 610.6,215.3 C613.2,213.8 619.3,211.9 621.7,212.1 C624.1,212.3 628.9,215.1 631.1,216.9 C633.3,218.7 638.4,225.3 640.6,227.9 C642.8,230.5 647.9,237.0 650.1,239.0 C652.3,241.0 657.3,243.8 659.6,245.3 C661.9,246.8 667.7,250.4 670.0,251.6 C672.3,252.8 676.5,254.9 679.2,255.7 C681.9,256.5 690.1,258.2 693.4,258.6 C696.7,259.0 704.9,259.8 707.7,259.5 C710.5,259.2 714.9,257.9 717.1,256.4 C719.3,254.9 724.2,249.9 726.6,246.9 C729.0,243.9 734.9,235.0 737.7,231.1 C740.5,227.2 747.7,216.5 750.3,213.7 C752.9,210.9 757.8,207.8 759.8,207.4 C761.8,207.0 765.5,208.7 767.7,210.5 C769.9,212.3 776.2,220.2 778.8,223.2 C781.4,226.2 787.4,233.4 789.8,235.8 C792.2,238.2 797.5,242.2 799.3,243.7 C801.1,245.2 803.4,247.6 805.0,248.5 C806.6,249.4 810.4,250.9 812.6,251.6 C814.8,252.3 820.4,254.2 823.7,254.8 C827.0,255.4 838.0,256.5 841.1,257.0 C844.2,257.5 848.6,259.0 850.6,258.9 C852.6,258.8 856.5,258.5 858.5,256.4 C860.5,254.3 865.6,245.0 868.0,240.6 C870.4,236.2 876.8,222.3 879.0,218.4 C881.2,214.5 885.2,209.1 886.9,207.4 C888.6,205.7 891.5,204.2 893.2,204.2 C894.9,204.2 898.5,205.4 901.1,207.4 C903.7,209.4 912.3,218.3 915.4,221.6 C918.5,224.9 925.1,233.0 928.0,235.8 C930.9,238.6 938.1,244.0 940.0,245.3 C941.9,246.6 942.5,245.6 944.5,246.9 C946.5,248.2 953.4,255.0 957.1,256.4 C960.8,257.8 971.5,258.3 976.1,258.6 C980.7,258.9 993.1,259.3 996.6,258.9 C1000.1,258.5 1003.7,255.8 1006.1,254.8 C1008.5,253.8 1013.5,250.8 1017.2,250.0 C1020.9,249.2 1034.6,247.6 1037.7,247.8 C1040.8,248.0 1041.2,249.7 1044.0,251.6 C1046.8,253.5 1057.2,261.3 1061.4,264.3 C1065.6,267.3 1076.5,274.3 1080.4,276.9 C1084.3,279.5 1092.9,285.3 1094.6,286.4" fill="none" stroke="#ff0000" stroke-width="3.3" stroke-linejoin="round" stroke-linecap="butt"/>
<text x="155.50" y="332.70" font-size="17.85" text-anchor="middle" fill="#000" textLength="10.82" lengthAdjust="spacingAndGlyphs">6</text>
<text x="208.00" y="240.10" font-size="17.85" text-anchor="middle" fill="#000" textLength="21.63" lengthAdjust="spacingAndGlyphs">19</text>
<text x="300.00" y="310.00" font-size="17.85" text-anchor="middle" fill="#000" textLength="10.82" lengthAdjust="spacingAndGlyphs">9</text>
<text x="345.60" y="242.70" font-size="17.85" text-anchor="middle" fill="#000" textLength="21.63" lengthAdjust="spacingAndGlyphs">18</text>
<text x="426.60" y="280.60" font-size="17.85" text-anchor="middle" fill="#000" textLength="21.63" lengthAdjust="spacingAndGlyphs">13</text>
<text x="478.80" y="237.00" font-size="17.85" text-anchor="middle" fill="#000" textLength="21.63" lengthAdjust="spacingAndGlyphs">19</text>
<text x="570.60" y="270.60" font-size="17.85" text-anchor="middle" fill="#000" textLength="21.63" lengthAdjust="spacingAndGlyphs">14</text>
<text x="622.70" y="233.60" font-size="17.85" text-anchor="middle" fill="#000" textLength="21.63" lengthAdjust="spacingAndGlyphs">19</text>
<text x="708.50" y="281.00" font-size="17.85" text-anchor="middle" fill="#000" textLength="21.63" lengthAdjust="spacingAndGlyphs">13</text>
<text x="760.00" y="229.50" font-size="17.85" text-anchor="middle" fill="#000" textLength="21.63" lengthAdjust="spacingAndGlyphs">20</text>
<text x="852.60" y="280.10" font-size="17.85" text-anchor="middle" fill="#000" textLength="21.63" lengthAdjust="spacingAndGlyphs">13</text>
<text x="892.70" y="226.30" font-size="17.85" text-anchor="middle" fill="#000" textLength="21.63" lengthAdjust="spacingAndGlyphs">20</text>
<text x="990.70" y="281.70" font-size="17.85" text-anchor="middle" fill="#000" textLength="21.63" lengthAdjust="spacingAndGlyphs">13</text>
<text x="1031.20" y="269.00" font-size="17.85" text-anchor="middle" fill="#000" textLength="21.63" lengthAdjust="spacingAndGlyphs">14</text>
<text x="1094.60" y="309.50" font-size="17.85" text-anchor="middle" fill="#000" textLength="10.82" lengthAdjust="spacingAndGlyphs">9</text>
<g><path d="M151.81,100.90 A12.8,12.8 0 1,0 151.81,126.10 A14.7,14.7 0 0,1 151.81,100.90 Z" fill="none" stroke="#000" stroke-width="1.8" stroke-linejoin="round"/>
<line x1="180.13" y1="105.92" x2="181.20" y2="99.81" stroke="#d6c860" stroke-width="2.4" stroke-linecap="butt"/><line x1="180.13" y1="105.92" x2="181.20" y2="99.81" stroke="#f4e51e" stroke-width="1.5" stroke-linecap="butt"/><line x1="185.32" y1="109.42" x2="190.58" y2="106.13" stroke="#d6c860" stroke-width="2.4" stroke-linecap="butt"/><line x1="185.32" y1="109.42" x2="190.58" y2="106.13" stroke="#f4e51e" stroke-width="1.5" stroke-linecap="butt"/><line x1="186.37" y1="114.84" x2="192.48" y2="115.91" stroke="#d6c860" stroke-width="2.4" stroke-linecap="butt"/><line x1="186.37" y1="114.84" x2="192.48" y2="115.91" stroke="#f4e51e" stroke-width="1.5" stroke-linecap="butt"/><line x1="183.74" y1="119.40" x2="187.72" y2="124.15" stroke="#d6c860" stroke-width="2.4" stroke-linecap="butt"/><line x1="183.74" y1="119.40" x2="187.72" y2="124.15" stroke="#f4e51e" stroke-width="1.5" stroke-linecap="butt"/><line x1="177.45" y1="121.08" x2="176.38" y2="127.19" stroke="#d6c860" stroke-width="2.4" stroke-linecap="butt"/><line x1="177.45" y1="121.08" x2="176.38" y2="127.19" stroke="#f4e51e" stroke-width="1.5" stroke-linecap="butt"/><line x1="172.26" y1="117.58" x2="167.00" y2="120.87" stroke="#d6c860" stroke-width="2.4" stroke-linecap="butt"/><line x1="172.26" y1="117.58" x2="167.00" y2="120.87" stroke="#f4e51e" stroke-width="1.5" stroke-linecap="butt"/><line x1="171.35" y1="111.51" x2="165.36" y2="109.90" stroke="#d6c860" stroke-width="2.4" stroke-linecap="butt"/><line x1="171.35" y1="111.51" x2="165.36" y2="109.90" stroke="#f4e51e" stroke-width="1.5" stroke-linecap="butt"/><line x1="175.53" y1="106.52" x2="172.91" y2="100.90" stroke="#d6c860" stroke-width="2.4" stroke-linecap="butt"/><line x1="175.53" y1="106.52" x2="172.91" y2="100.90" stroke="#f4e51e" stroke-width="1.5" stroke-linecap="butt"/><circle cx="178.79" cy="113.50" r="6.70" fill="#f2e41a" stroke="#f2a33a" stroke-width="1"/>
<line x1="212.10" y1="105.22" x2="213.18" y2="99.11" stroke="#d6c860" stroke-width="2.4" stroke-linecap="butt"/><line x1="212.10" y1="105.22" x2="213.18" y2="99.11" stroke="#f4e51e" stroke-width="1.5" stroke-linecap="butt"/><line x1="217.30" y1="108.72" x2="222.55" y2="105.43" stroke="#d6c860" stroke-width="2.4" stroke-linecap="butt"/><line x1="217.30" y1="108.72" x2="222.55" y2="105.43" stroke="#f4e51e" stroke-width="1.5" stroke-linecap="butt"/><line x1="218.35" y1="114.14" x2="224.46" y2="115.21" stroke="#d6c860" stroke-width="2.4" stroke-linecap="butt"/><line x1="218.35" y1="114.14" x2="224.46" y2="115.21" stroke="#f4e51e" stroke-width="1.5" stroke-linecap="butt"/><line x1="215.72" y1="118.70" x2="219.70" y2="123.45" stroke="#d6c860" stroke-width="2.4" stroke-linecap="butt"/><line x1="215.72" y1="118.70" x2="219.70" y2="123.45" stroke="#f4e51e" stroke-width="1.5" stroke-linecap="butt"/><line x1="209.43" y1="120.38" x2="208.35" y2="126.49" stroke="#d6c860" stroke-width="2.4" stroke-linecap="butt"/><line x1="209.43" y1="120.38" x2="208.35" y2="126.49" stroke="#f4e51e" stroke-width="1.5" stroke-linecap="butt"/><line x1="204.24" y1="116.88" x2="198.98" y2="120.17" stroke="#d6c860" stroke-width="2.4" stroke-linecap="butt"/><line x1="204.24" y1="116.88" x2="198.98" y2="120.17" stroke="#f4e51e" stroke-width="1.5" stroke-linecap="butt"/><line x1="203.33" y1="110.81" x2="197.34" y2="109.20" stroke="#d6c860" stroke-width="2.4" stroke-linecap="butt"/><line x1="203.33" y1="110.81" x2="197.34" y2="109.20" stroke="#f4e51e" stroke-width="1.5" stroke-linecap="butt"/><line x1="207.51" y1="105.82" x2="204.89" y2="100.20" stroke="#d6c860" stroke-width="2.4" stroke-linecap="butt"/><line x1="207.51" y1="105.82" x2="204.89" y2="100.20" stroke="#f4e51e" stroke-width="1.5" stroke-linecap="butt"/><circle cx="210.77" cy="112.80" r="6.70" fill="#f2e41a" stroke="#f2a33a" stroke-width="1"/><circle cx="214.42" cy="120.54" r="2.57" fill="#2d62b6" stroke="#2d62b6" stroke-width="3.20"/><circle cx="219.27" cy="118.72" r="3.94" fill="#2d62b6" stroke="#2d62b6" stroke-width="3.20"/><circle cx="223.51" cy="120.84" r="2.57" fill="#2d62b6" stroke="#2d62b6" stroke-width="3.20"/><rect x="214.42" y="120.54" width="9.08" height="2.80" fill="#2d62b6" stroke="#2d62b6" stroke-width="3.20"/><circle cx="214.42" cy="120.54" r="2.57" fill="#ffffff"/><circle cx="219.27" cy="118.72" r="3.94" fill="#ffffff"/><circle cx="223.51" cy="120.84" r="2.57" fill="#ffffff"/><rect x="214.42" y="120.54" width="9.08" height="2.80" fill="#ffffff"/><path d="M220.94,120.62 A2.57,2.57 0 0,1 223.42,118.27" fill="none" stroke="#2d62b6" stroke-width="1.60" stroke-linecap="round"/>
<path d="M251.24,100.90 A12.8,12.8 0 1,0 251.24,126.10 A14.7,14.7 0 0,1 251.24,100.90 Z" fill="none" stroke="#000" stroke-width="1.8" stroke-linejoin="round"/><circle cx="246.43" cy="121.23" r="2.56" fill="#2c4b6e" stroke="#2c4b6e" stroke-width="3.20"/><circle cx="251.25" cy="119.42" r="3.91" fill="#2c4b6e" stroke="#2c4b6e" stroke-width="3.20"/><circle cx="255.46" cy="121.53" r="2.56" fill="#2c4b6e" stroke="#2c4b6e" stroke-width="3.20"/><rect x="246.43" y="121.23" width="9.02" height="2.78" fill="#2c4b6e" stroke="#2c4b6e" stroke-width="3.20"/><circle cx="246.43" cy="121.23" r="2.56" fill="#d0d0d0"/><circle cx="251.25" cy="119.42" r="3.91" fill="#d0d0d0"/><circle cx="255.46" cy="121.53" r="2.56" fill="#d0d0d0"/><rect x="246.43" y="121.23" width="9.02" height="2.78" fill="#d0d0d0"/><path d="M252.91,121.31 A2.56,2.56 0 0,1 255.37,118.97" fill="none" stroke="#2c4b6e" stroke-width="1.60" stroke-linecap="round"/>
<path d="M285.82,100.90 A12.8,12.8 0 1,0 285.82,126.10 A14.7,14.7 0 0,1 285.82,100.90 Z" fill="none" stroke="#000" stroke-width="1.8" stroke-linejoin="round"/><circle cx="281.01" cy="121.23" r="2.56" fill="#2c4b6e" stroke="#2c4b6e" stroke-width="3.20"/><circle cx="285.82" cy="119.42" r="3.91" fill="#2c4b6e" stroke="#2c4b6e" stroke-width="3.20"/><circle cx="290.04" cy="121.53" r="2.56" fill="#2c4b6e" stroke="#2c4b6e" stroke-width="3.20"/><rect x="281.01" y="121.23" width="9.02" height="2.78" fill="#2c4b6e" stroke="#2c4b6e" stroke-width="3.20"/><circle cx="281.01" cy="121.23" r="2.56" fill="#d0d0d0"/><circle cx="285.82" cy="119.42" r="3.91" fill="#d0d0d0"/><circle cx="290.04" cy="121.53" r="2.56" fill="#d0d0d0"/><rect x="281.01" y="121.23" width="9.02" height="2.78" fill="#d0d0d0"/><path d="M287.49,121.31 A2.56,2.56 0 0,1 289.95,118.97" fill="none" stroke="#2c4b6e" stroke-width="1.60" stroke-linecap="round"/>
<line x1="321.84" y1="104.72" x2="322.91" y2="98.61" stroke="#d6c860" stroke-width="2.4" stroke-linecap="butt"/><line x1="321.84" y1="104.72" x2="322.91" y2="98.61" stroke="#f4e51e" stroke-width="1.5" stroke-linecap="butt"/><line x1="327.03" y1="108.22" x2="332.29" y2="104.93" stroke="#d6c860" stroke-width="2.4" stroke-linecap="butt"/><line x1="327.03" y1="108.22" x2="332.29" y2="104.93" stroke="#f4e51e" stroke-width="1.5" stroke-linecap="butt"/><line x1="328.08" y1="113.64" x2="334.19" y2="114.71" stroke="#d6c860" stroke-width="2.4" stroke-linecap="butt"/><line x1="328.08" y1="113.64" x2="334.19" y2="114.71" stroke="#f4e51e" stroke-width="1.5" stroke-linecap="butt"/><line x1="325.45" y1="118.20" x2="329.44" y2="122.95" stroke="#d6c860" stroke-width="2.4" stroke-linecap="butt"/><line x1="325.45" y1="118.20" x2="329.44" y2="122.95" stroke="#f4e51e" stroke-width="1.5" stroke-linecap="butt"/><line x1="319.16" y1="119.88" x2="318.09" y2="125.99" stroke="#d6c860" stroke-width="2.4" stroke-linecap="butt"/><line x1="319.16" y1="119.88" x2="318.09" y2="125.99" stroke="#f4e51e" stroke-width="1.5" stroke-linecap="butt"/><line x1="313.97" y1="116.38" x2="308.71" y2="119.67" stroke="#d6c860" stroke-width="2.4" stroke-linecap="butt"/><line x1="313.97" y1="116.38" x2="308.71" y2="119.67" stroke="#f4e51e" stroke-width="1.5" stroke-linecap="butt"/><line x1="313.06" y1="110.31" x2="307.07" y2="108.70" stroke="#d6c860" stroke-width="2.4" stroke-linecap="butt"/><line x1="313.06" y1="110.31" x2="307.07" y2="108.70" stroke="#f4e51e" stroke-width="1.5" stroke-linecap="butt"/><line x1="317.25" y1="105.32" x2="314.63" y2="99.70" stroke="#d6c860" stroke-width="2.4" stroke-linecap="butt"/><line x1="317.25" y1="105.32" x2="314.63" y2="99.70" stroke="#f4e51e" stroke-width="1.5" stroke-linecap="butt"/><circle cx="320.50" cy="112.30" r="6.70" fill="#f2e41a" stroke="#f2a33a" stroke-width="1"/><circle cx="306.31" cy="122.34" r="3.28" fill="#2d62b6" stroke="#2d62b6" stroke-width="3.60"/><circle cx="312.49" cy="120.02" r="5.02" fill="#2d62b6" stroke="#2d62b6" stroke-width="3.60"/><circle cx="317.90" cy="122.72" r="3.28" fill="#2d62b6" stroke="#2d62b6" stroke-width="3.60"/><rect x="306.31" y="122.34" width="11.59" height="3.57" fill="#2d62b6" stroke="#2d62b6" stroke-width="3.60"/><circle cx="306.31" cy="122.34" r="3.28" fill="#d0d0d0"/><circle cx="312.49" cy="120.02" r="5.02" fill="#d0d0d0"/><circle cx="317.90" cy="122.72" r="3.28" fill="#d0d0d0"/><rect x="306.31" y="122.34" width="11.59" height="3.57" fill="#d0d0d0"/><path d="M314.63,122.44 A3.28,3.28 0 0,1 317.78,119.44" fill="none" stroke="#2d62b6" stroke-width="1.80" stroke-linecap="round"/>
<line x1="350.42" y1="105.22" x2="351.49" y2="99.11" stroke="#d6c860" stroke-width="2.4" stroke-linecap="butt"/><line x1="350.42" y1="105.22" x2="351.49" y2="99.11" stroke="#f4e51e" stroke-width="1.5" stroke-linecap="butt"/><line x1="355.61" y1="108.72" x2="360.87" y2="105.43" stroke="#d6c860" stroke-width="2.4" stroke-linecap="butt"/><line x1="355.61" y1="108.72" x2="360.87" y2="105.43" stroke="#f4e51e" stroke-width="1.5" stroke-linecap="butt"/><line x1="356.66" y1="114.14" x2="362.77" y2="115.21" stroke="#d6c860" stroke-width="2.4" stroke-linecap="butt"/><line x1="356.66" y1="114.14" x2="362.77" y2="115.21" stroke="#f4e51e" stroke-width="1.5" stroke-linecap="butt"/><line x1="354.03" y1="118.70" x2="358.01" y2="123.45" stroke="#d6c860" stroke-width="2.4" stroke-linecap="butt"/><line x1="354.03" y1="118.70" x2="358.01" y2="123.45" stroke="#f4e51e" stroke-width="1.5" stroke-linecap="butt"/><line x1="347.74" y1="120.38" x2="346.67" y2="126.49" stroke="#d6c860" stroke-width="2.4" stroke-linecap="butt"/><line x1="347.74" y1="120.38" x2="346.67" y2="126.49" stroke="#f4e51e" stroke-width="1.5" stroke-linecap="butt"/><line x1="342.55" y1="116.88" x2="337.29" y2="120.17" stroke="#d6c860" stroke-width="2.4" stroke-linecap="butt"/><line x1="342.55" y1="116.88" x2="337.29" y2="120.17" stroke="#f4e51e" stroke-width="1.5" stroke-linecap="butt"/><line x1="341.64" y1="110.81" x2="335.65" y2="109.20" stroke="#d6c860" stroke-width="2.4" stroke-linecap="butt"/><line x1="341.64" y1="110.81" x2="335.65" y2="109.20" stroke="#f4e51e" stroke-width="1.5" stroke-linecap="butt"/><line x1="345.82" y1="105.82" x2="343.20" y2="100.20" stroke="#d6c860" stroke-width="2.4" stroke-linecap="butt"/><line x1="345.82" y1="105.82" x2="343.20" y2="100.20" stroke="#f4e51e" stroke-width="1.5" stroke-linecap="butt"/><circle cx="349.08" cy="112.80" r="6.70" fill="#f2e41a" stroke="#f2a33a" stroke-width="1"/><circle cx="352.74" cy="120.54" r="2.57" fill="#2d62b6" stroke="#2d62b6" stroke-width="3.20"/><circle cx="357.58" cy="118.72" r="3.94" fill="#2d62b6" stroke="#2d62b6" stroke-width="3.20"/><circle cx="361.82" cy="120.84" r="2.57" fill="#2d62b6" stroke="#2d62b6" stroke-width="3.20"/><rect x="352.74" y="120.54" width="9.08" height="2.80" fill="#2d62b6" stroke="#2d62b6" stroke-width="3.20"/><circle cx="352.74" cy="120.54" r="2.57" fill="#ffffff"/><circle cx="357.58" cy="118.72" r="3.94" fill="#ffffff"/><circle cx="361.82" cy="120.84" r="2.57" fill="#ffffff"/><rect x="352.74" y="120.54" width="9.08" height="2.80" fill="#ffffff"/><path d="M359.26,120.62 A2.57,2.57 0 0,1 361.73,118.27" fill="none" stroke="#2d62b6" stroke-width="1.60" stroke-linecap="round"/>
<path d="M389.56,100.90 A12.8,12.8 0 1,0 389.56,126.10 A14.7,14.7 0 0,1 389.56,100.90 Z" fill="none" stroke="#000" stroke-width="1.8" stroke-linejoin="round"/><circle cx="384.75" cy="121.23" r="2.56" fill="#2c4b6e" stroke="#2c4b6e" stroke-width="3.20"/><circle cx="389.56" cy="119.42" r="3.91" fill="#2c4b6e" stroke="#2c4b6e" stroke-width="3.20"/><circle cx="393.77" cy="121.53" r="2.56" fill="#2c4b6e" stroke="#2c4b6e" stroke-width="3.20"/><rect x="384.75" y="121.23" width="9.02" height="2.78" fill="#2c4b6e" stroke="#2c4b6e" stroke-width="3.20"/><circle cx="384.75" cy="121.23" r="2.56" fill="#d0d0d0"/><circle cx="389.56" cy="119.42" r="3.91" fill="#d0d0d0"/><circle cx="393.77" cy="121.53" r="2.56" fill="#d0d0d0"/><rect x="384.75" y="121.23" width="9.02" height="2.78" fill="#d0d0d0"/><path d="M391.22,121.31 A2.56,2.56 0 0,1 393.68,118.97" fill="none" stroke="#2c4b6e" stroke-width="1.60" stroke-linecap="round"/>
<path d="M421.33,100.90 A12.8,12.8 0 1,0 421.33,126.10 A14.7,14.7 0 0,1 421.33,100.90 Z" fill="none" stroke="#000" stroke-width="1.8" stroke-linejoin="round"/><circle cx="416.95" cy="120.75" r="3.68" fill="#2c4b6e" stroke="#2c4b6e" stroke-width="3.60"/><circle cx="423.87" cy="118.16" r="5.62" fill="#2c4b6e" stroke="#2c4b6e" stroke-width="3.60"/><circle cx="429.92" cy="121.19" r="3.68" fill="#2c4b6e" stroke="#2c4b6e" stroke-width="3.60"/><rect x="416.95" y="120.75" width="12.97" height="4.00" fill="#2c4b6e" stroke="#2c4b6e" stroke-width="3.60"/><circle cx="416.95" cy="120.75" r="3.68" fill="#d0d0d0"/><circle cx="423.87" cy="118.16" r="5.62" fill="#d0d0d0"/><circle cx="429.92" cy="121.19" r="3.68" fill="#d0d0d0"/><rect x="416.95" y="120.75" width="12.97" height="4.00" fill="#d0d0d0"/><path d="M426.26,120.87 A3.68,3.68 0 0,1 429.79,117.51" fill="none" stroke="#2c4b6e" stroke-width="1.80" stroke-linecap="round"/>
<line x1="460.15" y1="104.72" x2="461.23" y2="98.61" stroke="#d6c860" stroke-width="2.4" stroke-linecap="butt"/><line x1="460.15" y1="104.72" x2="461.23" y2="98.61" stroke="#f4e51e" stroke-width="1.5" stroke-linecap="butt"/><line x1="465.34" y1="108.22" x2="470.60" y2="104.93" stroke="#d6c860" stroke-width="2.4" stroke-linecap="butt"/><line x1="465.34" y1="108.22" x2="470.60" y2="104.93" stroke="#f4e51e" stroke-width="1.5" stroke-linecap="butt"/><line x1="466.40" y1="113.64" x2="472.50" y2="114.71" stroke="#d6c860" stroke-width="2.4" stroke-linecap="butt"/><line x1="466.40" y1="113.64" x2="472.50" y2="114.71" stroke="#f4e51e" stroke-width="1.5" stroke-linecap="butt"/><line x1="463.76" y1="118.20" x2="467.75" y2="122.95" stroke="#d6c860" stroke-width="2.4" stroke-linecap="butt"/><line x1="463.76" y1="118.20" x2="467.75" y2="122.95" stroke="#f4e51e" stroke-width="1.5" stroke-linecap="butt"/><line x1="457.48" y1="119.88" x2="456.40" y2="125.99" stroke="#d6c860" stroke-width="2.4" stroke-linecap="butt"/><line x1="457.48" y1="119.88" x2="456.40" y2="125.99" stroke="#f4e51e" stroke-width="1.5" stroke-linecap="butt"/><line x1="452.28" y1="116.38" x2="447.03" y2="119.67" stroke="#d6c860" stroke-width="2.4" stroke-linecap="butt"/><line x1="452.28" y1="116.38" x2="447.03" y2="119.67" stroke="#f4e51e" stroke-width="1.5" stroke-linecap="butt"/><line x1="451.38" y1="110.31" x2="445.39" y2="108.70" stroke="#d6c860" stroke-width="2.4" stroke-linecap="butt"/><line x1="451.38" y1="110.31" x2="445.39" y2="108.70" stroke="#f4e51e" stroke-width="1.5" stroke-linecap="butt"/><line x1="455.56" y1="105.32" x2="452.94" y2="99.70" stroke="#d6c860" stroke-width="2.4" stroke-linecap="butt"/><line x1="455.56" y1="105.32" x2="452.94" y2="99.70" stroke="#f4e51e" stroke-width="1.5" stroke-linecap="butt"/><circle cx="458.81" cy="112.30" r="6.70" fill="#f2e41a" stroke="#f2a33a" stroke-width="1"/><circle cx="444.62" cy="122.34" r="3.28" fill="#2d62b6" stroke="#2d62b6" stroke-width="3.60"/><circle cx="450.80" cy="120.02" r="5.02" fill="#2d62b6" stroke="#2d62b6" stroke-width="3.60"/><circle cx="456.21" cy="122.72" r="3.28" fill="#2d62b6" stroke="#2d62b6" stroke-width="3.60"/><rect x="444.62" y="122.34" width="11.59" height="3.57" fill="#2d62b6" stroke="#2d62b6" stroke-width="3.60"/><circle cx="444.62" cy="122.34" r="3.28" fill="#d0d0d0"/><circle cx="450.80" cy="120.02" r="5.02" fill="#d0d0d0"/><circle cx="456.21" cy="122.72" r="3.28" fill="#d0d0d0"/><rect x="444.62" y="122.34" width="11.59" height="3.57" fill="#d0d0d0"/><path d="M452.94,122.44 A3.28,3.28 0 0,1 456.09,119.44" fill="none" stroke="#2d62b6" stroke-width="1.80" stroke-linecap="round"/>
<circle cx="480.35" cy="115.99" r="5.12" fill="#2d62b6" stroke="#2d62b6" stroke-width="3.60"/><circle cx="489.99" cy="113.10" r="7.83" fill="#2d62b6" stroke="#2d62b6" stroke-width="3.60"/><circle cx="498.43" cy="116.47" r="5.12" fill="#2d62b6" stroke="#2d62b6" stroke-width="3.60"/><rect x="480.35" y="115.99" width="18.07" height="4.46" fill="#2d62b6" stroke="#2d62b6" stroke-width="3.60"/><circle cx="480.35" cy="115.99" r="5.12" fill="#d0d0d0"/><circle cx="489.99" cy="113.10" r="7.83" fill="#d0d0d0"/><circle cx="498.43" cy="116.47" r="5.12" fill="#d0d0d0"/><rect x="480.35" y="115.99" width="18.07" height="4.46" fill="#d0d0d0"/><circle cx="486.14" cy="120.18" r="3.37" fill="#2d62b6" stroke="#2d62b6" stroke-width="3.60"/><circle cx="492.49" cy="117.80" r="5.15" fill="#2d62b6" stroke="#2d62b6" stroke-width="3.60"/><circle cx="498.04" cy="120.58" r="3.37" fill="#2d62b6" stroke="#2d62b6" stroke-width="3.60"/><rect x="486.14" y="120.18" width="11.89" height="3.67" fill="#2d62b6" stroke="#2d62b6" stroke-width="3.60"/><circle cx="486.14" cy="120.18" r="3.37" fill="#ffffff"/><circle cx="492.49" cy="117.80" r="5.15" fill="#ffffff"/><circle cx="498.04" cy="120.58" r="3.37" fill="#ffffff"/><rect x="486.14" y="120.18" width="11.89" height="3.67" fill="#ffffff"/><path d="M494.68,120.29 A3.37,3.37 0 0,1 497.92,117.21" fill="none" stroke="#2d62b6" stroke-width="1.80" stroke-linecap="round"/><line x1="486.49" y1="128.30" x2="484.89" y2="133.50" stroke="#3a6ab8" stroke-width="1.8"/><line x1="490.89" y1="128.30" x2="489.29" y2="133.50" stroke="#3a6ab8" stroke-width="1.8"/>
<circle cx="514.93" cy="115.99" r="5.12" fill="#2c4b6e" stroke="#2c4b6e" stroke-width="3.60"/><circle cx="524.57" cy="113.10" r="7.83" fill="#2c4b6e" stroke="#2c4b6e" stroke-width="3.60"/><circle cx="533.00" cy="116.47" r="5.12" fill="#2c4b6e" stroke="#2c4b6e" stroke-width="3.60"/><rect x="514.93" y="115.99" width="18.07" height="4.46" fill="#2c4b6e" stroke="#2c4b6e" stroke-width="3.60"/><circle cx="514.93" cy="115.99" r="5.12" fill="#d0d0d0"/><circle cx="524.57" cy="113.10" r="7.83" fill="#d0d0d0"/><circle cx="533.00" cy="116.47" r="5.12" fill="#d0d0d0"/><rect x="514.93" y="115.99" width="18.07" height="4.46" fill="#d0d0d0"/><circle cx="520.72" cy="120.18" r="3.37" fill="#2c4b6e" stroke="#2c4b6e" stroke-width="3.60"/><circle cx="527.07" cy="117.80" r="5.15" fill="#2c4b6e" stroke="#2c4b6e" stroke-width="3.60"/><circle cx="532.62" cy="120.58" r="3.37" fill="#2c4b6e" stroke="#2c4b6e" stroke-width="3.60"/><rect x="520.72" y="120.18" width="11.89" height="3.67" fill="#2c4b6e" stroke="#2c4b6e" stroke-width="3.60"/><circle cx="520.72" cy="120.18" r="3.37" fill="#ffffff"/><circle cx="527.07" cy="117.80" r="5.15" fill="#ffffff"/><circle cx="532.62" cy="120.58" r="3.37" fill="#ffffff"/><rect x="520.72" y="120.18" width="11.89" height="3.67" fill="#ffffff"/><path d="M529.26,120.29 A3.37,3.37 0 0,1 532.50,117.21" fill="none" stroke="#2c4b6e" stroke-width="1.80" stroke-linecap="round"/><line x1="521.07" y1="128.30" x2="519.47" y2="133.50" stroke="#2c4b6e" stroke-width="1.8"/><line x1="525.47" y1="128.30" x2="523.87" y2="133.50" stroke="#2c4b6e" stroke-width="1.8"/>
<path d="M559.65,100.90 A12.8,12.8 0 1,0 559.65,126.10 A14.7,14.7 0 0,1 559.65,100.90 Z" fill="none" stroke="#000" stroke-width="1.8" stroke-linejoin="round"/><circle cx="555.26" cy="120.75" r="3.68" fill="#2c4b6e" stroke="#2c4b6e" stroke-width="3.60"/><circle cx="562.18" cy="118.16" r="5.62" fill="#2c4b6e" stroke="#2c4b6e" stroke-width="3.60"/><circle cx="568.23" cy="121.19" r="3.68" fill="#2c4b6e" stroke="#2c4b6e" stroke-width="3.60"/><rect x="555.26" y="120.75" width="12.97" height="4.00" fill="#2c4b6e" stroke="#2c4b6e" stroke-width="3.60"/><circle cx="555.26" cy="120.75" r="3.68" fill="#d0d0d0"/><circle cx="562.18" cy="118.16" r="5.62" fill="#d0d0d0"/><circle cx="568.23" cy="121.19" r="3.68" fill="#d0d0d0"/><rect x="555.26" y="120.75" width="12.97" height="4.00" fill="#d0d0d0"/><path d="M564.57,120.87 A3.68,3.68 0 0,1 568.10,117.51" fill="none" stroke="#2c4b6e" stroke-width="1.80" stroke-linecap="round"/>
<line x1="598.46" y1="104.72" x2="599.54" y2="98.61" stroke="#d6c860" stroke-width="2.4" stroke-linecap="butt"/><line x1="598.46" y1="104.72" x2="599.54" y2="98.61" stroke="#f4e51e" stroke-width="1.5" stroke-linecap="butt"/><line x1="603.65" y1="108.22" x2="608.91" y2="104.93" stroke="#d6c860" stroke-width="2.4" stroke-linecap="butt"/><line x1="603.65" y1="108.22" x2="608.91" y2="104.93" stroke="#f4e51e" stroke-width="1.5" stroke-linecap="butt"/><line x1="604.71" y1="113.64" x2="610.81" y2="114.71" stroke="#d6c860" stroke-width="2.4" stroke-linecap="butt"/><line x1="604.71" y1="113.64" x2="610.81" y2="114.71" stroke="#f4e51e" stroke-width="1.5" stroke-linecap="butt"/><line x1="602.07" y1="118.20" x2="606.06" y2="122.95" stroke="#d6c860" stroke-width="2.4" stroke-linecap="butt"/><line x1="602.07" y1="118.20" x2="606.06" y2="122.95" stroke="#f4e51e" stroke-width="1.5" stroke-linecap="butt"/><line x1="595.79" y1="119.88" x2="594.71" y2="125.99" stroke="#d6c860" stroke-width="2.4" stroke-linecap="butt"/><line x1="595.79" y1="119.88" x2="594.71" y2="125.99" stroke="#f4e51e" stroke-width="1.5" stroke-linecap="butt"/><line x1="590.60" y1="116.38" x2="585.34" y2="119.67" stroke="#d6c860" stroke-width="2.4" stroke-linecap="butt"/><line x1="590.60" y1="116.38" x2="585.34" y2="119.67" stroke="#f4e51e" stroke-width="1.5" stroke-linecap="butt"/><line x1="589.69" y1="110.31" x2="583.70" y2="108.70" stroke="#d6c860" stroke-width="2.4" stroke-linecap="butt"/><line x1="589.69" y1="110.31" x2="583.70" y2="108.70" stroke="#f4e51e" stroke-width="1.5" stroke-linecap="butt"/><line x1="593.87" y1="105.32" x2="591.25" y2="99.70" stroke="#d6c860" stroke-width="2.4" stroke-linecap="butt"/><line x1="593.87" y1="105.32" x2="591.25" y2="99.70" stroke="#f4e51e" stroke-width="1.5" stroke-linecap="butt"/><circle cx="597.12" cy="112.30" r="6.70" fill="#f2e41a" stroke="#f2a33a" stroke-width="1"/><circle cx="582.93" cy="122.34" r="3.28" fill="#2d62b6" stroke="#2d62b6" stroke-width="3.60"/><circle cx="589.11" cy="120.02" r="5.02" fill="#2d62b6" stroke="#2d62b6" stroke-width="3.60"/><circle cx="594.52" cy="122.72" r="3.28" fill="#2d62b6" stroke="#2d62b6" stroke-width="3.60"/><rect x="582.93" y="122.34" width="11.59" height="3.57" fill="#2d62b6" stroke="#2d62b6" stroke-width="3.60"/><circle cx="582.93" cy="122.34" r="3.28" fill="#d0d0d0"/><circle cx="589.11" cy="120.02" r="5.02" fill="#d0d0d0"/><circle cx="594.52" cy="122.72" r="3.28" fill="#d0d0d0"/><rect x="582.93" y="122.34" width="11.59" height="3.57" fill="#d0d0d0"/><path d="M591.25,122.44 A3.28,3.28 0 0,1 594.41,119.44" fill="none" stroke="#2d62b6" stroke-width="1.80" stroke-linecap="round"/>
<line x1="627.04" y1="105.22" x2="628.12" y2="99.11" stroke="#d6c860" stroke-width="2.4" stroke-linecap="butt"/><line x1="627.04" y1="105.22" x2="628.12" y2="99.11" stroke="#f4e51e" stroke-width="1.5" stroke-linecap="butt"/><line x1="632.23" y1="108.72" x2="637.49" y2="105.43" stroke="#d6c860" stroke-width="2.4" stroke-linecap="butt"/><line x1="632.23" y1="108.72" x2="637.49" y2="105.43" stroke="#f4e51e" stroke-width="1.5" stroke-linecap="butt"/><line x1="633.29" y1="114.14" x2="639.39" y2="115.21" stroke="#d6c860" stroke-width="2.4" stroke-linecap="butt"/><line x1="633.29" y1="114.14" x2="639.39" y2="115.21" stroke="#f4e51e" stroke-width="1.5" stroke-linecap="butt"/><line x1="630.65" y1="118.70" x2="634.64" y2="123.45" stroke="#d6c860" stroke-width="2.4" stroke-linecap="butt"/><line x1="630.65" y1="118.70" x2="634.64" y2="123.45" stroke="#f4e51e" stroke-width="1.5" stroke-linecap="butt"/><line x1="624.37" y1="120.38" x2="623.29" y2="126.49" stroke="#d6c860" stroke-width="2.4" stroke-linecap="butt"/><line x1="624.37" y1="120.38" x2="623.29" y2="126.49" stroke="#f4e51e" stroke-width="1.5" stroke-linecap="butt"/><line x1="619.17" y1="116.88" x2="613.92" y2="120.17" stroke="#d6c860" stroke-width="2.4" stroke-linecap="butt"/><line x1="619.17" y1="116.88" x2="613.92" y2="120.17" stroke="#f4e51e" stroke-width="1.5" stroke-linecap="butt"/><line x1="618.27" y1="110.81" x2="612.28" y2="109.20" stroke="#d6c860" stroke-width="2.4" stroke-linecap="butt"/><line x1="618.27" y1="110.81" x2="612.28" y2="109.20" stroke="#f4e51e" stroke-width="1.5" stroke-linecap="butt"/><line x1="622.45" y1="105.82" x2="619.83" y2="100.20" stroke="#d6c860" stroke-width="2.4" stroke-linecap="butt"/><line x1="622.45" y1="105.82" x2="619.83" y2="100.20" stroke="#f4e51e" stroke-width="1.5" stroke-linecap="butt"/><circle cx="625.70" cy="112.80" r="6.70" fill="#f2e41a" stroke="#f2a33a" stroke-width="1"/><circle cx="629.36" cy="120.54" r="2.57" fill="#2d62b6" stroke="#2d62b6" stroke-width="3.20"/><circle cx="634.21" cy="118.72" r="3.94" fill="#2d62b6" stroke="#2d62b6" stroke-width="3.20"/><circle cx="638.45" cy="120.84" r="2.57" fill="#2d62b6" stroke="#2d62b6" stroke-width="3.20"/><rect x="629.36" y="120.54" width="9.08" height="2.80" fill="#2d62b6" stroke="#2d62b6" stroke-width="3.20"/><circle cx="629.36" cy="120.54" r="2.57" fill="#ffffff"/><circle cx="634.21" cy="118.72" r="3.94" fill="#ffffff"/><circle cx="638.45" cy="120.84" r="2.57" fill="#ffffff"/><rect x="629.36" y="120.54" width="9.08" height="2.80" fill="#ffffff"/><path d="M635.88,120.62 A2.57,2.57 0 0,1 638.36,118.27" fill="none" stroke="#2d62b6" stroke-width="1.60" stroke-linecap="round"/>
<path d="M667.98,100.90 A12.8,12.8 0 1,0 667.98,126.10 A14.7,14.7 0 0,1 667.98,100.90 Z" fill="none" stroke="#000" stroke-width="1.8" stroke-linejoin="round"/><line x1="643.88" y1="115.60" x2="680.48" y2="115.60" stroke="#2c4b6e" stroke-width="1.6"/><line x1="645.58" y1="118.80" x2="680.48" y2="118.80" stroke="#2c4b6e" stroke-width="1.6"/><line x1="647.28" y1="123.50" x2="678.58" y2="123.50" stroke="#2c4b6e" stroke-width="2.6"/>
<path d="M702.56,100.90 A12.8,12.8 0 1,0 702.56,126.10 A14.7,14.7 0 0,1 702.56,100.90 Z" fill="none" stroke="#000" stroke-width="1.8" stroke-linejoin="round"/><line x1="678.46" y1="115.60" x2="715.06" y2="115.60" stroke="#2c4b6e" stroke-width="1.6"/><line x1="680.16" y1="118.80" x2="715.06" y2="118.80" stroke="#2c4b6e" stroke-width="1.6"/><line x1="681.86" y1="123.50" x2="713.16" y2="123.50" stroke="#2c4b6e" stroke-width="2.6"/>
<line x1="736.77" y1="104.72" x2="737.85" y2="98.61" stroke="#d6c860" stroke-width="2.4" stroke-linecap="butt"/><line x1="736.77" y1="104.72" x2="737.85" y2="98.61" stroke="#f4e51e" stroke-width="1.5" stroke-linecap="butt"/><line x1="741.97" y1="108.22" x2="747.22" y2="104.93" stroke="#d6c860" stroke-width="2.4" stroke-linecap="butt"/><line x1="741.97" y1="108.22" x2="747.22" y2="104.93" stroke="#f4e51e" stroke-width="1.5" stroke-linecap="butt"/><line x1="743.02" y1="113.64" x2="749.13" y2="114.71" stroke="#d6c860" stroke-width="2.4" stroke-linecap="butt"/><line x1="743.02" y1="113.64" x2="749.13" y2="114.71" stroke="#f4e51e" stroke-width="1.5" stroke-linecap="butt"/><line x1="740.39" y1="118.20" x2="744.37" y2="122.95" stroke="#d6c860" stroke-width="2.4" stroke-linecap="butt"/><line x1="740.39" y1="118.20" x2="744.37" y2="122.95" stroke="#f4e51e" stroke-width="1.5" stroke-linecap="butt"/><line x1="734.10" y1="119.88" x2="733.02" y2="125.99" stroke="#d6c860" stroke-width="2.4" stroke-linecap="butt"/><line x1="734.10" y1="119.88" x2="733.02" y2="125.99" stroke="#f4e51e" stroke-width="1.5" stroke-linecap="butt"/><line x1="728.91" y1="116.38" x2="723.65" y2="119.67" stroke="#d6c860" stroke-width="2.4" stroke-linecap="butt"/><line x1="728.91" y1="116.38" x2="723.65" y2="119.67" stroke="#f4e51e" stroke-width="1.5" stroke-linecap="butt"/><line x1="728.00" y1="110.31" x2="722.01" y2="108.70" stroke="#d6c860" stroke-width="2.4" stroke-linecap="butt"/><line x1="728.00" y1="110.31" x2="722.01" y2="108.70" stroke="#f4e51e" stroke-width="1.5" stroke-linecap="butt"/><line x1="732.18" y1="105.32" x2="729.56" y2="99.70" stroke="#d6c860" stroke-width="2.4" stroke-linecap="butt"/><line x1="732.18" y1="105.32" x2="729.56" y2="99.70" stroke="#f4e51e" stroke-width="1.5" stroke-linecap="butt"/><circle cx="735.44" cy="112.30" r="6.70" fill="#f2e41a" stroke="#f2a33a" stroke-width="1"/><circle cx="721.24" cy="122.34" r="3.28" fill="#2d62b6" stroke="#2d62b6" stroke-width="3.60"/><circle cx="727.42" cy="120.02" r="5.02" fill="#2d62b6" stroke="#2d62b6" stroke-width="3.60"/><circle cx="732.83" cy="122.72" r="3.28" fill="#2d62b6" stroke="#2d62b6" stroke-width="3.60"/><rect x="721.24" y="122.34" width="11.59" height="3.57" fill="#2d62b6" stroke="#2d62b6" stroke-width="3.60"/><circle cx="721.24" cy="122.34" r="3.28" fill="#d0d0d0"/><circle cx="727.42" cy="120.02" r="5.02" fill="#d0d0d0"/><circle cx="732.83" cy="122.72" r="3.28" fill="#d0d0d0"/><rect x="721.24" y="122.34" width="11.59" height="3.57" fill="#d0d0d0"/><path d="M729.56,122.44 A3.28,3.28 0 0,1 732.72,119.44" fill="none" stroke="#2d62b6" stroke-width="1.80" stroke-linecap="round"/>
<line x1="765.35" y1="105.22" x2="766.43" y2="99.11" stroke="#d6c860" stroke-width="2.4" stroke-linecap="butt"/><line x1="765.35" y1="105.22" x2="766.43" y2="99.11" stroke="#f4e51e" stroke-width="1.5" stroke-linecap="butt"/><line x1="770.54" y1="108.72" x2="775.80" y2="105.43" stroke="#d6c860" stroke-width="2.4" stroke-linecap="butt"/><line x1="770.54" y1="108.72" x2="775.80" y2="105.43" stroke="#f4e51e" stroke-width="1.5" stroke-linecap="butt"/><line x1="771.60" y1="114.14" x2="777.70" y2="115.21" stroke="#d6c860" stroke-width="2.4" stroke-linecap="butt"/><line x1="771.60" y1="114.14" x2="777.70" y2="115.21" stroke="#f4e51e" stroke-width="1.5" stroke-linecap="butt"/><line x1="768.96" y1="118.70" x2="772.95" y2="123.45" stroke="#d6c860" stroke-width="2.4" stroke-linecap="butt"/><line x1="768.96" y1="118.70" x2="772.95" y2="123.45" stroke="#f4e51e" stroke-width="1.5" stroke-linecap="butt"/><line x1="762.68" y1="120.38" x2="761.60" y2="126.49" stroke="#d6c860" stroke-width="2.4" stroke-linecap="butt"/><line x1="762.68" y1="120.38" x2="761.60" y2="126.49" stroke="#f4e51e" stroke-width="1.5" stroke-linecap="butt"/><line x1="757.49" y1="116.88" x2="752.23" y2="120.17" stroke="#d6c860" stroke-width="2.4" stroke-linecap="butt"/><line x1="757.49" y1="116.88" x2="752.23" y2="120.17" stroke="#f4e51e" stroke-width="1.5" stroke-linecap="butt"/><line x1="756.58" y1="110.81" x2="750.59" y2="109.20" stroke="#d6c860" stroke-width="2.4" stroke-linecap="butt"/><line x1="756.58" y1="110.81" x2="750.59" y2="109.20" stroke="#f4e51e" stroke-width="1.5" stroke-linecap="butt"/><line x1="760.76" y1="105.82" x2="758.14" y2="100.20" stroke="#d6c860" stroke-width="2.4" stroke-linecap="butt"/><line x1="760.76" y1="105.82" x2="758.14" y2="100.20" stroke="#f4e51e" stroke-width="1.5" stroke-linecap="butt"/><circle cx="764.01" cy="112.80" r="6.70" fill="#f2e41a" stroke="#f2a33a" stroke-width="1"/><circle cx="767.67" cy="120.54" r="2.57" fill="#2d62b6" stroke="#2d62b6" stroke-width="3.20"/><circle cx="772.52" cy="118.72" r="3.94" fill="#2d62b6" stroke="#2d62b6" stroke-width="3.20"/><circle cx="776.76" cy="120.84" r="2.57" fill="#2d62b6" stroke="#2d62b6" stroke-width="3.20"/><rect x="767.67" y="120.54" width="9.08" height="2.80" fill="#2d62b6" stroke="#2d62b6" stroke-width="3.20"/><circle cx="767.67" cy="120.54" r="2.57" fill="#ffffff"/><circle cx="772.52" cy="118.72" r="3.94" fill="#ffffff"/><circle cx="776.76" cy="120.84" r="2.57" fill="#ffffff"/><rect x="767.67" y="120.54" width="9.08" height="2.80" fill="#ffffff"/><path d="M774.19,120.62 A2.57,2.57 0 0,1 776.67,118.27" fill="none" stroke="#2d62b6" stroke-width="1.60" stroke-linecap="round"/>
<path d="M804.49,100.90 A12.8,12.8 0 1,0 804.49,126.10 A14.7,14.7 0 0,1 804.49,100.90 Z" fill="none" stroke="#000" stroke-width="1.8" stroke-linejoin="round"/><circle cx="799.68" cy="121.23" r="2.56" fill="#2c4b6e" stroke="#2c4b6e" stroke-width="3.20"/><circle cx="804.49" cy="119.42" r="3.91" fill="#2c4b6e" stroke="#2c4b6e" stroke-width="3.20"/><circle cx="808.71" cy="121.53" r="2.56" fill="#2c4b6e" stroke="#2c4b6e" stroke-width="3.20"/><rect x="799.68" y="121.23" width="9.02" height="2.78" fill="#2c4b6e" stroke="#2c4b6e" stroke-width="3.20"/><circle cx="799.68" cy="121.23" r="2.56" fill="#d0d0d0"/><circle cx="804.49" cy="119.42" r="3.91" fill="#d0d0d0"/><circle cx="808.71" cy="121.53" r="2.56" fill="#d0d0d0"/><rect x="799.68" y="121.23" width="9.02" height="2.78" fill="#d0d0d0"/><path d="M806.16,121.31 A2.56,2.56 0 0,1 808.62,118.97" fill="none" stroke="#2c4b6e" stroke-width="1.60" stroke-linecap="round"/>
<path d="M839.07,100.90 A12.8,12.8 0 1,0 839.07,126.10 A14.7,14.7 0 0,1 839.07,100.90 Z" fill="none" stroke="#000" stroke-width="1.8" stroke-linejoin="round"/><circle cx="834.26" cy="121.23" r="2.56" fill="#2c4b6e" stroke="#2c4b6e" stroke-width="3.20"/><circle cx="839.07" cy="119.42" r="3.91" fill="#2c4b6e" stroke="#2c4b6e" stroke-width="3.20"/><circle cx="843.28" cy="121.53" r="2.56" fill="#2c4b6e" stroke="#2c4b6e" stroke-width="3.20"/><rect x="834.26" y="121.23" width="9.02" height="2.78" fill="#2c4b6e" stroke="#2c4b6e" stroke-width="3.20"/><circle cx="834.26" cy="121.23" r="2.56" fill="#d0d0d0"/><circle cx="839.07" cy="119.42" r="3.91" fill="#d0d0d0"/><circle cx="843.28" cy="121.53" r="2.56" fill="#d0d0d0"/><rect x="834.26" y="121.23" width="9.02" height="2.78" fill="#d0d0d0"/><path d="M840.74,121.31 A2.56,2.56 0 0,1 843.19,118.97" fill="none" stroke="#2c4b6e" stroke-width="1.60" stroke-linecap="round"/>
<line x1="869.09" y1="105.22" x2="870.16" y2="99.11" stroke="#d6c860" stroke-width="2.4" stroke-linecap="butt"/><line x1="869.09" y1="105.22" x2="870.16" y2="99.11" stroke="#f4e51e" stroke-width="1.5" stroke-linecap="butt"/><line x1="874.28" y1="108.72" x2="879.54" y2="105.43" stroke="#d6c860" stroke-width="2.4" stroke-linecap="butt"/><line x1="874.28" y1="108.72" x2="879.54" y2="105.43" stroke="#f4e51e" stroke-width="1.5" stroke-linecap="butt"/><line x1="875.33" y1="114.14" x2="881.44" y2="115.21" stroke="#d6c860" stroke-width="2.4" stroke-linecap="butt"/><line x1="875.33" y1="114.14" x2="881.44" y2="115.21" stroke="#f4e51e" stroke-width="1.5" stroke-linecap="butt"/><line x1="872.70" y1="118.70" x2="876.68" y2="123.45" stroke="#d6c860" stroke-width="2.4" stroke-linecap="butt"/><line x1="872.70" y1="118.70" x2="876.68" y2="123.45" stroke="#f4e51e" stroke-width="1.5" stroke-linecap="butt"/><line x1="866.41" y1="120.38" x2="865.34" y2="126.49" stroke="#d6c860" stroke-width="2.4" stroke-linecap="butt"/><line x1="866.41" y1="120.38" x2="865.34" y2="126.49" stroke="#f4e51e" stroke-width="1.5" stroke-linecap="butt"/><line x1="861.22" y1="116.88" x2="855.96" y2="120.17" stroke="#d6c860" stroke-width="2.4" stroke-linecap="butt"/><line x1="861.22" y1="116.88" x2="855.96" y2="120.17" stroke="#f4e51e" stroke-width="1.5" stroke-linecap="butt"/><line x1="860.31" y1="110.81" x2="854.32" y2="109.20" stroke="#d6c860" stroke-width="2.4" stroke-linecap="butt"/><line x1="860.31" y1="110.81" x2="854.32" y2="109.20" stroke="#f4e51e" stroke-width="1.5" stroke-linecap="butt"/><line x1="864.49" y1="105.82" x2="861.87" y2="100.20" stroke="#d6c860" stroke-width="2.4" stroke-linecap="butt"/><line x1="864.49" y1="105.82" x2="861.87" y2="100.20" stroke="#f4e51e" stroke-width="1.5" stroke-linecap="butt"/><circle cx="867.75" cy="112.80" r="6.70" fill="#f2e41a" stroke="#f2a33a" stroke-width="1"/><circle cx="871.41" cy="120.54" r="2.57" fill="#2d62b6" stroke="#2d62b6" stroke-width="3.20"/><circle cx="876.25" cy="118.72" r="3.94" fill="#2d62b6" stroke="#2d62b6" stroke-width="3.20"/><circle cx="880.49" cy="120.84" r="2.57" fill="#2d62b6" stroke="#2d62b6" stroke-width="3.20"/><rect x="871.41" y="120.54" width="9.08" height="2.80" fill="#2d62b6" stroke="#2d62b6" stroke-width="3.20"/><circle cx="871.41" cy="120.54" r="2.57" fill="#ffffff"/><circle cx="876.25" cy="118.72" r="3.94" fill="#ffffff"/><circle cx="880.49" cy="120.84" r="2.57" fill="#ffffff"/><rect x="871.41" y="120.54" width="9.08" height="2.80" fill="#ffffff"/><path d="M877.93,120.62 A2.57,2.57 0 0,1 880.40,118.27" fill="none" stroke="#2d62b6" stroke-width="1.60" stroke-linecap="round"/>
<line x1="903.66" y1="105.22" x2="904.74" y2="99.11" stroke="#d6c860" stroke-width="2.4" stroke-linecap="butt"/><line x1="903.66" y1="105.22" x2="904.74" y2="99.11" stroke="#f4e51e" stroke-width="1.5" stroke-linecap="butt"/><line x1="908.86" y1="108.72" x2="914.11" y2="105.43" stroke="#d6c860" stroke-width="2.4" stroke-linecap="butt"/><line x1="908.86" y1="108.72" x2="914.11" y2="105.43" stroke="#f4e51e" stroke-width="1.5" stroke-linecap="butt"/><line x1="909.91" y1="114.14" x2="916.02" y2="115.21" stroke="#d6c860" stroke-width="2.4" stroke-linecap="butt"/><line x1="909.91" y1="114.14" x2="916.02" y2="115.21" stroke="#f4e51e" stroke-width="1.5" stroke-linecap="butt"/><line x1="907.28" y1="118.70" x2="911.26" y2="123.45" stroke="#d6c860" stroke-width="2.4" stroke-linecap="butt"/><line x1="907.28" y1="118.70" x2="911.26" y2="123.45" stroke="#f4e51e" stroke-width="1.5" stroke-linecap="butt"/><line x1="900.99" y1="120.38" x2="899.91" y2="126.49" stroke="#d6c860" stroke-width="2.4" stroke-linecap="butt"/><line x1="900.99" y1="120.38" x2="899.91" y2="126.49" stroke="#f4e51e" stroke-width="1.5" stroke-linecap="butt"/><line x1="895.80" y1="116.88" x2="890.54" y2="120.17" stroke="#d6c860" stroke-width="2.4" stroke-linecap="butt"/><line x1="895.80" y1="116.88" x2="890.54" y2="120.17" stroke="#f4e51e" stroke-width="1.5" stroke-linecap="butt"/><line x1="894.89" y1="110.81" x2="888.90" y2="109.20" stroke="#d6c860" stroke-width="2.4" stroke-linecap="butt"/><line x1="894.89" y1="110.81" x2="888.90" y2="109.20" stroke="#f4e51e" stroke-width="1.5" stroke-linecap="butt"/><line x1="899.07" y1="105.82" x2="896.45" y2="100.20" stroke="#d6c860" stroke-width="2.4" stroke-linecap="butt"/><line x1="899.07" y1="105.82" x2="896.45" y2="100.20" stroke="#f4e51e" stroke-width="1.5" stroke-linecap="butt"/><circle cx="902.33" cy="112.80" r="6.70" fill="#f2e41a" stroke="#f2a33a" stroke-width="1"/><circle cx="905.99" cy="120.54" r="2.57" fill="#2d62b6" stroke="#2d62b6" stroke-width="3.20"/><circle cx="910.83" cy="118.72" r="3.94" fill="#2d62b6" stroke="#2d62b6" stroke-width="3.20"/><circle cx="915.07" cy="120.84" r="2.57" fill="#2d62b6" stroke="#2d62b6" stroke-width="3.20"/><rect x="905.99" y="120.54" width="9.08" height="2.80" fill="#2d62b6" stroke="#2d62b6" stroke-width="3.20"/><circle cx="905.99" cy="120.54" r="2.57" fill="#ffffff"/><circle cx="910.83" cy="118.72" r="3.94" fill="#ffffff"/><circle cx="915.07" cy="120.84" r="2.57" fill="#ffffff"/><rect x="905.99" y="120.54" width="9.08" height="2.80" fill="#ffffff"/><path d="M912.50,120.62 A2.57,2.57 0 0,1 914.98,118.27" fill="none" stroke="#2d62b6" stroke-width="1.60" stroke-linecap="round"/>
<path d="M942.81,100.90 A12.8,12.8 0 1,0 942.81,126.10 A14.7,14.7 0 0,1 942.81,100.90 Z" fill="none" stroke="#000" stroke-width="1.8" stroke-linejoin="round"/><circle cx="937.99" cy="121.23" r="2.56" fill="#2c4b6e" stroke="#2c4b6e" stroke-width="3.20"/><circle cx="942.81" cy="119.42" r="3.91" fill="#2c4b6e" stroke="#2c4b6e" stroke-width="3.20"/><circle cx="947.02" cy="121.53" r="2.56" fill="#2c4b6e" stroke="#2c4b6e" stroke-width="3.20"/><rect x="937.99" y="121.23" width="9.02" height="2.78" fill="#2c4b6e" stroke="#2c4b6e" stroke-width="3.20"/><circle cx="937.99" cy="121.23" r="2.56" fill="#d0d0d0"/><circle cx="942.81" cy="119.42" r="3.91" fill="#d0d0d0"/><circle cx="947.02" cy="121.53" r="2.56" fill="#d0d0d0"/><rect x="937.99" y="121.23" width="9.02" height="2.78" fill="#d0d0d0"/><path d="M944.47,121.31 A2.56,2.56 0 0,1 946.93,118.97" fill="none" stroke="#2c4b6e" stroke-width="1.60" stroke-linecap="round"/>
<circle cx="964.45" cy="115.99" r="5.12" fill="#2c4b6e" stroke="#2c4b6e" stroke-width="3.60"/><circle cx="974.09" cy="113.10" r="7.83" fill="#2c4b6e" stroke="#2c4b6e" stroke-width="3.60"/><circle cx="982.52" cy="116.47" r="5.12" fill="#2c4b6e" stroke="#2c4b6e" stroke-width="3.60"/><rect x="964.45" y="115.99" width="18.07" height="4.46" fill="#2c4b6e" stroke="#2c4b6e" stroke-width="3.60"/><circle cx="964.45" cy="115.99" r="5.12" fill="#d0d0d0"/><circle cx="974.09" cy="113.10" r="7.83" fill="#d0d0d0"/><circle cx="982.52" cy="116.47" r="5.12" fill="#d0d0d0"/><rect x="964.45" y="115.99" width="18.07" height="4.46" fill="#d0d0d0"/><circle cx="970.24" cy="120.18" r="3.37" fill="#2c4b6e" stroke="#2c4b6e" stroke-width="3.60"/><circle cx="976.58" cy="117.80" r="5.15" fill="#2c4b6e" stroke="#2c4b6e" stroke-width="3.60"/><circle cx="982.13" cy="120.58" r="3.37" fill="#2c4b6e" stroke="#2c4b6e" stroke-width="3.60"/><rect x="970.24" y="120.18" width="11.89" height="3.67" fill="#2c4b6e" stroke="#2c4b6e" stroke-width="3.60"/><circle cx="970.24" cy="120.18" r="3.37" fill="#ffffff"/><circle cx="976.58" cy="117.80" r="5.15" fill="#ffffff"/><circle cx="982.13" cy="120.58" r="3.37" fill="#ffffff"/><rect x="970.24" y="120.18" width="11.89" height="3.67" fill="#ffffff"/><path d="M978.77,120.29 A3.37,3.37 0 0,1 982.01,117.21" fill="none" stroke="#2c4b6e" stroke-width="1.80" stroke-linecap="round"/>
<circle cx="999.02" cy="115.99" r="5.12" fill="#2d62b6" stroke="#2d62b6" stroke-width="3.60"/><circle cx="1008.66" cy="113.10" r="7.83" fill="#2d62b6" stroke="#2d62b6" stroke-width="3.60"/><circle cx="1017.10" cy="116.47" r="5.12" fill="#2d62b6" stroke="#2d62b6" stroke-width="3.60"/><rect x="999.02" y="115.99" width="18.07" height="4.46" fill="#2d62b6" stroke="#2d62b6" stroke-width="3.60"/><circle cx="999.02" cy="115.99" r="5.12" fill="#d0d0d0"/><circle cx="1008.66" cy="113.10" r="7.83" fill="#d0d0d0"/><circle cx="1017.10" cy="116.47" r="5.12" fill="#d0d0d0"/><rect x="999.02" y="115.99" width="18.07" height="4.46" fill="#d0d0d0"/><circle cx="1004.81" cy="120.18" r="3.37" fill="#2d62b6" stroke="#2d62b6" stroke-width="3.60"/><circle cx="1011.16" cy="117.80" r="5.15" fill="#2d62b6" stroke="#2d62b6" stroke-width="3.60"/><circle cx="1016.71" cy="120.58" r="3.37" fill="#2d62b6" stroke="#2d62b6" stroke-width="3.60"/><rect x="1004.81" y="120.18" width="11.89" height="3.67" fill="#2d62b6" stroke="#2d62b6" stroke-width="3.60"/><circle cx="1004.81" cy="120.18" r="3.37" fill="#ffffff"/><circle cx="1011.16" cy="117.80" r="5.15" fill="#ffffff"/><circle cx="1016.71" cy="120.58" r="3.37" fill="#ffffff"/><rect x="1004.81" y="120.18" width="11.89" height="3.67" fill="#ffffff"/><path d="M1013.35,120.29 A3.37,3.37 0 0,1 1016.59,117.21" fill="none" stroke="#2d62b6" stroke-width="1.80" stroke-linecap="round"/><line x1="1005.16" y1="128.30" x2="1003.56" y2="133.50" stroke="#3a6ab8" stroke-width="1.8"/><line x1="1009.56" y1="128.30" x2="1007.96" y2="133.50" stroke="#3a6ab8" stroke-width="1.8"/>
<line x1="1048.28" y1="104.72" x2="1049.35" y2="98.61" stroke="#d6c860" stroke-width="2.4" stroke-linecap="butt"/><line x1="1048.28" y1="104.72" x2="1049.35" y2="98.61" stroke="#f4e51e" stroke-width="1.5" stroke-linecap="butt"/><line x1="1053.47" y1="108.22" x2="1058.73" y2="104.93" stroke="#d6c860" stroke-width="2.4" stroke-linecap="butt"/><line x1="1053.47" y1="108.22" x2="1058.73" y2="104.93" stroke="#f4e51e" stroke-width="1.5" stroke-linecap="butt"/><line x1="1054.52" y1="113.64" x2="1060.63" y2="114.71" stroke="#d6c860" stroke-width="2.4" stroke-linecap="butt"/><line x1="1054.52" y1="113.64" x2="1060.63" y2="114.71" stroke="#f4e51e" stroke-width="1.5" stroke-linecap="butt"/><line x1="1051.89" y1="118.20" x2="1055.87" y2="122.95" stroke="#d6c860" stroke-width="2.4" stroke-linecap="butt"/><line x1="1051.89" y1="118.20" x2="1055.87" y2="122.95" stroke="#f4e51e" stroke-width="1.5" stroke-linecap="butt"/><line x1="1045.60" y1="119.88" x2="1044.53" y2="125.99" stroke="#d6c860" stroke-width="2.4" stroke-linecap="butt"/><line x1="1045.60" y1="119.88" x2="1044.53" y2="125.99" stroke="#f4e51e" stroke-width="1.5" stroke-linecap="butt"/><line x1="1040.41" y1="116.38" x2="1035.15" y2="119.67" stroke="#d6c860" stroke-width="2.4" stroke-linecap="butt"/><line x1="1040.41" y1="116.38" x2="1035.15" y2="119.67" stroke="#f4e51e" stroke-width="1.5" stroke-linecap="butt"/><line x1="1039.50" y1="110.31" x2="1033.51" y2="108.70" stroke="#d6c860" stroke-width="2.4" stroke-linecap="butt"/><line x1="1039.50" y1="110.31" x2="1033.51" y2="108.70" stroke="#f4e51e" stroke-width="1.5" stroke-linecap="butt"/><line x1="1043.68" y1="105.32" x2="1041.06" y2="99.70" stroke="#d6c860" stroke-width="2.4" stroke-linecap="butt"/><line x1="1043.68" y1="105.32" x2="1041.06" y2="99.70" stroke="#f4e51e" stroke-width="1.5" stroke-linecap="butt"/><circle cx="1046.94" cy="112.30" r="6.70" fill="#f2e41a" stroke="#f2a33a" stroke-width="1"/><circle cx="1032.70" cy="122.62" r="3.25" fill="#2d62b6" stroke="#2d62b6" stroke-width="3.60"/><circle cx="1038.82" cy="120.32" r="4.97" fill="#2d62b6" stroke="#2d62b6" stroke-width="3.60"/><circle cx="1044.18" cy="123.00" r="3.25" fill="#2d62b6" stroke="#2d62b6" stroke-width="3.60"/><rect x="1032.70" y="122.62" width="11.47" height="3.54" fill="#2d62b6" stroke="#2d62b6" stroke-width="3.60"/><circle cx="1032.70" cy="122.62" r="3.25" fill="#d0d0d0"/><circle cx="1038.82" cy="120.32" r="4.97" fill="#d0d0d0"/><circle cx="1044.18" cy="123.00" r="3.25" fill="#d0d0d0"/><rect x="1032.70" y="122.62" width="11.47" height="3.54" fill="#d0d0d0"/><path d="M1040.94,122.72 A3.25,3.25 0 0,1 1044.06,119.75" fill="none" stroke="#2d62b6" stroke-width="1.80" stroke-linecap="round"/><line x1="1035.64" y1="129.00" x2="1034.04" y2="134.20" stroke="#2d62b6" stroke-width="1.8"/><line x1="1040.04" y1="129.00" x2="1038.44" y2="134.20" stroke="#2d62b6" stroke-width="1.8"/>
<path d="M1078.32,100.90 A12.8,12.8 0 1,0 1078.32,126.10 A14.7,14.7 0 0,1 1078.32,100.90 Z" fill="none" stroke="#000" stroke-width="1.8" stroke-linejoin="round"/><circle cx="1073.93" cy="120.75" r="3.68" fill="#2c4b6e" stroke="#2c4b6e" stroke-width="3.60"/><circle cx="1080.85" cy="118.16" r="5.62" fill="#2c4b6e" stroke="#2c4b6e" stroke-width="3.60"/><circle cx="1086.90" cy="121.19" r="3.68" fill="#2c4b6e" stroke="#2c4b6e" stroke-width="3.60"/><rect x="1073.93" y="120.75" width="12.97" height="4.00" fill="#2c4b6e" stroke="#2c4b6e" stroke-width="3.60"/><circle cx="1073.93" cy="120.75" r="3.68" fill="#d0d0d0"/><circle cx="1080.85" cy="118.16" r="5.62" fill="#d0d0d0"/><circle cx="1086.90" cy="121.19" r="3.68" fill="#d0d0d0"/><rect x="1073.93" y="120.75" width="12.97" height="4.00" fill="#d0d0d0"/><path d="M1083.24,120.87 A3.68,3.68 0 0,1 1086.77,117.51" fill="none" stroke="#2c4b6e" stroke-width="1.80" stroke-linecap="round"/></g>
<g><path d="M114.00,153.20 L141.00,153.20 M117.00,153.20 L117.48,147.72" stroke="#000" stroke-width="2" fill="none" stroke-linecap="round"/>
<path d="M132.30,148.90 L155.40,157.90 M135.10,149.99 L137.53,145.06" stroke="#000" stroke-width="2" fill="none" stroke-linecap="round"/>
<circle cx="161.50" cy="153.00" r="3.6" fill="none" stroke="#000" stroke-width="1.6"/>
<circle cx="178.79" cy="153.00" r="3.6" fill="none" stroke="#000" stroke-width="1.6"/>
<path d="M191.30,164.20 L200.80,141.70 M192.47,161.44 L187.61,158.86" stroke="#000" stroke-width="2" fill="none" stroke-linecap="round"/>
<path d="M207.50,163.80 L219.00,142.50 M208.93,161.16 L204.33,158.14" stroke="#000" stroke-width="2" fill="none" stroke-linecap="round"/>
<path d="M217.80,153.00 L243.50,153.00 M220.80,153.00 L221.28,147.52" stroke="#000" stroke-width="2" fill="none" stroke-linecap="round"/>
<path d="M235.00,153.00 L261.50,153.00 M238.00,153.00 L238.48,147.52" stroke="#000" stroke-width="2" fill="none" stroke-linecap="round"/>
<path d="M252.50,153.00 L278.00,153.00 M255.50,153.00 L255.98,147.52" stroke="#000" stroke-width="2" fill="none" stroke-linecap="round"/>
<path d="M269.50,153.00 L295.00,153.00 M272.50,153.00 L272.98,147.52" stroke="#000" stroke-width="2" fill="none" stroke-linecap="round"/>
<circle cx="299.81" cy="153.00" r="3.6" fill="none" stroke="#000" stroke-width="1.6"/>
<path d="M305.00,155.80 L328.00,148.90 M307.87,154.94 L306.76,149.55" stroke="#000" stroke-width="2" fill="none" stroke-linecap="round"/>
<path d="M324.60,161.40 L343.30,144.40 M326.82,159.38 L323.49,155.01" stroke="#000" stroke-width="2" fill="none" stroke-linecap="round"/>
<path d="M342.00,161.00 L360.70,145.00 M344.28,159.05 L341.08,154.57" stroke="#000" stroke-width="2" fill="none" stroke-linecap="round"/>
<path d="M358.60,160.80 L378.00,145.00 M360.93,158.91 L357.84,154.35" stroke="#000" stroke-width="2" fill="none" stroke-linecap="round"/>
<path d="M374.60,158.00 L396.80,148.00 M377.34,156.77 L375.52,151.58" stroke="#000" stroke-width="2" fill="none" stroke-linecap="round"/>
<path d="M392.00,155.80 L415.00,149.00 M394.88,154.95 L393.78,149.56" stroke="#000" stroke-width="2" fill="none" stroke-linecap="round"/>
<path d="M408.85,157.36 L432.82,148.64 M411.67,156.33 L410.25,151.02" stroke="#000" stroke-width="2" fill="none" stroke-linecap="round"/>
<path d="M426.30,157.78 L449.95,148.22 M429.08,156.65 L427.48,151.39" stroke="#000" stroke-width="2" fill="none" stroke-linecap="round"/>
<path d="M443.95,158.59 L466.87,147.41 M446.65,157.27 L444.68,152.14" stroke="#000" stroke-width="2" fill="none" stroke-linecap="round"/>
<path d="M461.15,158.39 L484.26,147.61 M463.87,157.12 L461.98,151.95" stroke="#000" stroke-width="2" fill="none" stroke-linecap="round"/>
<path d="M478.44,158.39 L501.55,147.61 M481.15,157.12 L479.27,151.95" stroke="#000" stroke-width="2" fill="none" stroke-linecap="round"/>
<path d="M495.72,158.39 L518.84,147.61 M498.44,157.12 L496.56,151.95" stroke="#000" stroke-width="2" fill="none" stroke-linecap="round"/>
<circle cx="524.57" cy="153.00" r="3.6" fill="none" stroke="#000" stroke-width="1.6"/>
<circle cx="541.86" cy="153.00" r="3.6" fill="none" stroke="#000" stroke-width="1.6"/>
<circle cx="559.15" cy="153.00" r="3.6" fill="none" stroke="#000" stroke-width="1.6"/>
<circle cx="576.44" cy="153.00" r="3.6" fill="none" stroke="#000" stroke-width="1.6"/>
<circle cx="593.72" cy="153.00" r="3.6" fill="none" stroke="#000" stroke-width="1.6"/>
<path d="M604.60,163.50 L616.40,142.00 M606.04,160.87 L601.47,157.81" stroke="#000" stroke-width="2" fill="none" stroke-linecap="round"/>
<path d="M623.30,163.50 L632.40,141.40 M624.44,160.73 L619.56,158.20" stroke="#000" stroke-width="2" fill="none" stroke-linecap="round"/>
<circle cx="645.59" cy="153.00" r="3.6" fill="none" stroke="#000" stroke-width="1.6"/>
<circle cx="662.88" cy="153.00" r="3.6" fill="none" stroke="#000" stroke-width="1.6"/>
<circle cx="680.17" cy="153.00" r="3.6" fill="none" stroke="#000" stroke-width="1.6"/>
<circle cx="697.46" cy="153.00" r="3.6" fill="none" stroke="#000" stroke-width="1.6"/>
<circle cx="714.75" cy="153.00" r="3.6" fill="none" stroke="#000" stroke-width="1.6"/>
<circle cx="732.04" cy="153.00" r="3.6" fill="none" stroke="#000" stroke-width="1.6"/>
<path d="M741.00,162.80 L756.00,143.30 M742.83,160.42 L738.78,156.70" stroke="#000" stroke-width="2" fill="none" stroke-linecap="round"/>
<path d="M757.80,160.50 L775.60,144.70 M760.04,158.51 L756.76,154.09" stroke="#000" stroke-width="2" fill="none" stroke-linecap="round"/>
<path d="M773.00,158.00 L793.90,146.00 M775.60,156.51 L773.29,151.52" stroke="#000" stroke-width="2" fill="none" stroke-linecap="round"/>
<path d="M788.88,156.30 L813.51,149.70 M791.78,155.52 L790.82,150.11" stroke="#000" stroke-width="2" fill="none" stroke-linecap="round"/>
<path d="M805.93,155.21 L831.04,150.79 M808.88,154.69 L808.40,149.21" stroke="#000" stroke-width="2" fill="none" stroke-linecap="round"/>
<path d="M823.15,154.77 L848.40,151.23 M826.12,154.36 L825.83,148.86" stroke="#000" stroke-width="2" fill="none" stroke-linecap="round"/>
<path d="M840.38,154.33 L865.74,151.67 M843.36,154.02 L843.27,148.52" stroke="#000" stroke-width="2" fill="none" stroke-linecap="round"/>
<path d="M859.60,160.30 L879.70,146.40 M862.07,158.59 L859.35,153.81" stroke="#000" stroke-width="2" fill="none" stroke-linecap="round"/>
<path d="M877.00,161.40 L896.40,145.00 M879.29,159.46 L876.12,154.97" stroke="#000" stroke-width="2" fill="none" stroke-linecap="round"/>
<path d="M895.00,161.00 L913.80,145.00 M897.28,159.06 L894.10,154.57" stroke="#000" stroke-width="2" fill="none" stroke-linecap="round"/>
<path d="M911.70,160.00 L931.00,145.50 M914.10,158.20 L911.19,153.53" stroke="#000" stroke-width="2" fill="none" stroke-linecap="round"/>
<path d="M927.60,157.00 L952.00,148.30 M930.43,155.99 L929.04,150.67" stroke="#000" stroke-width="2" fill="none" stroke-linecap="round"/>
<path d="M948.50,142.60 L963.80,163.30 M950.28,145.01 L954.97,142.14" stroke="#000" stroke-width="2" fill="none" stroke-linecap="round"/>
<path d="M961.80,149.40 L984.70,157.00 M964.65,150.34 L966.83,145.30" stroke="#000" stroke-width="2" fill="none" stroke-linecap="round"/>
<path d="M993.00,141.10 L988.90,164.70 M992.49,144.06 L997.80,145.47" stroke="#000" stroke-width="2" fill="none" stroke-linecap="round"/>
<path d="M1015.30,143.90 L1000.70,162.60 M1013.45,146.26 L1017.48,150.01" stroke="#000" stroke-width="2" fill="none" stroke-linecap="round"/>
<path d="M1038.20,151.50 L1013.20,154.30 M1035.22,151.83 L1035.35,157.33" stroke="#000" stroke-width="2" fill="none" stroke-linecap="round"/>
<path d="M1053.50,159.20 L1032.00,146.70 M1050.91,157.69 L1047.74,162.19" stroke="#000" stroke-width="2" fill="none" stroke-linecap="round"/>
<path d="M1070.80,157.80 L1048.60,147.40 M1068.08,156.53 L1065.32,161.29" stroke="#000" stroke-width="2" fill="none" stroke-linecap="round"/>
<path d="M1077.00,140.40 L1077.00,164.70 M1077.00,143.40 L1082.48,143.88" stroke="#000" stroke-width="2" fill="none" stroke-linecap="round"/>
<path d="M1083.30,147.40 L1105.60,157.80 M1086.02,148.67 L1088.77,143.90" stroke="#000" stroke-width="2" fill="none" stroke-linecap="round"/></g>
<line x1="254.57" y1="97" x2="254.57" y2="359" stroke="#111" stroke-width="2" stroke-dasharray="4.3 2.6"/>
<rect x="127.5" y="97.5" width="967" height="262" fill="none" stroke="#000" stroke-width="1.2"/>
<text x="196.08" y="68.60" font-size="17.85" text-anchor="middle" fill="#000" textLength="43.99" lengthAdjust="spacingAndGlyphs">torek</text>
<text x="196.08" y="89.60" font-size="17.85" text-anchor="middle" fill="#000" textLength="48.67" lengthAdjust="spacingAndGlyphs">28.10</text>
<text x="334.39" y="68.60" font-size="17.85" text-anchor="middle" fill="#000" textLength="47.14" lengthAdjust="spacingAndGlyphs">sreda</text>
<text x="334.39" y="89.60" font-size="17.85" text-anchor="middle" fill="#000" textLength="48.67" lengthAdjust="spacingAndGlyphs">29.10</text>
<text x="472.70" y="68.60" font-size="17.85" text-anchor="middle" fill="#000" textLength="60.43" lengthAdjust="spacingAndGlyphs">četrtek</text>
<text x="472.70" y="89.60" font-size="17.85" text-anchor="middle" fill="#000" textLength="48.67" lengthAdjust="spacingAndGlyphs">30.10</text>
<text x="611.01" y="68.60" font-size="17.85" text-anchor="middle" fill="#000" textLength="48.22" lengthAdjust="spacingAndGlyphs">petek</text>
<text x="611.01" y="89.60" font-size="17.85" text-anchor="middle" fill="#000" textLength="48.67" lengthAdjust="spacingAndGlyphs">31.10</text>
<text x="749.33" y="68.60" font-size="17.85" text-anchor="middle" fill="#d40000" textLength="57.53" lengthAdjust="spacingAndGlyphs">sobota</text>
<text x="749.33" y="89.60" font-size="17.85" text-anchor="middle" fill="#d40000" textLength="48.67" lengthAdjust="spacingAndGlyphs">01.11</text>
<text x="887.64" y="68.60" font-size="17.85" text-anchor="middle" fill="#d40000" textLength="62.35" lengthAdjust="spacingAndGlyphs">nedelja</text>
<text x="887.64" y="89.60" font-size="17.85" text-anchor="middle" fill="#d40000" textLength="48.67" lengthAdjust="spacingAndGlyphs">02.11</text>
<text x="1025.95" y="68.60" font-size="17.85" text-anchor="middle" fill="#000" textLength="93.43" lengthAdjust="spacingAndGlyphs">ponedeljek</text>
<text x="1025.95" y="89.60" font-size="17.85" text-anchor="middle" fill="#000" textLength="48.67" lengthAdjust="spacingAndGlyphs">03.11</text>
<text x="161.50" y="376.80" font-size="17.85" text-anchor="middle" fill="#000" textLength="21.63" lengthAdjust="spacingAndGlyphs">06</text>
<text x="196.08" y="376.80" font-size="17.85" text-anchor="middle" fill="#000" textLength="21.63" lengthAdjust="spacingAndGlyphs">12</text>
<text x="230.66" y="376.80" font-size="17.85" text-anchor="middle" fill="#000" textLength="21.63" lengthAdjust="spacingAndGlyphs">18</text>
<text x="265.23" y="376.80" font-size="17.85" text-anchor="middle" fill="#000" textLength="25.93" lengthAdjust="spacingAndGlyphs">sre</text>
<text x="299.81" y="376.80" font-size="17.85" text-anchor="middle" fill="#000" textLength="21.63" lengthAdjust="spacingAndGlyphs">06</text>
<text x="334.39" y="376.80" font-size="17.85" text-anchor="middle" fill="#000" textLength="21.63" lengthAdjust="spacingAndGlyphs">12</text>
<text x="368.97" y="376.80" font-size="17.85" text-anchor="middle" fill="#000" textLength="21.63" lengthAdjust="spacingAndGlyphs">18</text>
<text x="403.55" y="376.80" font-size="17.85" text-anchor="middle" fill="#000" textLength="26.47" lengthAdjust="spacingAndGlyphs">čet</text>
<text x="438.12" y="376.80" font-size="17.85" text-anchor="middle" fill="#000" textLength="21.63" lengthAdjust="spacingAndGlyphs">06</text>
<text x="472.70" y="376.80" font-size="17.85" text-anchor="middle" fill="#000" textLength="21.63" lengthAdjust="spacingAndGlyphs">12</text>
<text x="507.28" y="376.80" font-size="17.85" text-anchor="middle" fill="#000" textLength="21.63" lengthAdjust="spacingAndGlyphs">18</text>
<text x="541.86" y="376.80" font-size="17.85" text-anchor="middle" fill="#000" textLength="27.92" lengthAdjust="spacingAndGlyphs">pet</text>
<text x="576.44" y="376.80" font-size="17.85" text-anchor="middle" fill="#000" textLength="21.63" lengthAdjust="spacingAndGlyphs">06</text>
<text x="611.01" y="376.80" font-size="17.85" text-anchor="middle" fill="#000" textLength="21.63" lengthAdjust="spacingAndGlyphs">12</text>
<text x="645.59" y="376.80" font-size="17.85" text-anchor="middle" fill="#000" textLength="21.63" lengthAdjust="spacingAndGlyphs">18</text>
<text x="680.17" y="376.80" font-size="17.85" text-anchor="middle" fill="#000" textLength="30.05" lengthAdjust="spacingAndGlyphs">sob</text>
<text x="714.75" y="376.80" font-size="17.85" text-anchor="middle" fill="#000" textLength="21.63" lengthAdjust="spacingAndGlyphs">06</text>
<text x="749.33" y="376.80" font-size="17.85" text-anchor="middle" fill="#000" textLength="21.63" lengthAdjust="spacingAndGlyphs">12</text>
<text x="783.90" y="376.80" font-size="17.85" text-anchor="middle" fill="#000" textLength="21.63" lengthAdjust="spacingAndGlyphs">18</text>
<text x="818.48" y="376.80" font-size="17.85" text-anchor="middle" fill="#000" textLength="32.02" lengthAdjust="spacingAndGlyphs">ned</text>
<text x="853.06" y="376.80" font-size="17.85" text-anchor="middle" fill="#000" textLength="21.63" lengthAdjust="spacingAndGlyphs">06</text>
<text x="887.64" y="376.80" font-size="17.85" text-anchor="middle" fill="#000" textLength="21.63" lengthAdjust="spacingAndGlyphs">12</text>
<text x="922.22" y="376.80" font-size="17.85" text-anchor="middle" fill="#000" textLength="21.63" lengthAdjust="spacingAndGlyphs">18</text>
<text x="956.79" y="376.80" font-size="17.85" text-anchor="middle" fill="#000" textLength="31.97" lengthAdjust="spacingAndGlyphs">pon</text>
<text x="991.37" y="376.80" font-size="17.85" text-anchor="middle" fill="#000" textLength="21.63" lengthAdjust="spacingAndGlyphs">06</text>
<text x="1025.95" y="376.80" font-size="17.85" text-anchor="middle" fill="#000" textLength="21.63" lengthAdjust="spacingAndGlyphs">12</text>
<text x="1060.53" y="376.80" font-size="17.85" text-anchor="middle" fill="#000" textLength="21.63" lengthAdjust="spacingAndGlyphs">18</text>
<text x="122.80" y="365.80" font-size="17.85" text-anchor="end" fill="#000" textLength="10.82" lengthAdjust="spacingAndGlyphs">0</text>
<text x="122.80" y="328.24" font-size="17.85" text-anchor="end" fill="#000" textLength="10.82" lengthAdjust="spacingAndGlyphs">1</text>
<text x="122.80" y="290.68" font-size="17.85" text-anchor="end" fill="#000" textLength="10.82" lengthAdjust="spacingAndGlyphs">2</text>
<text x="122.80" y="253.12" font-size="17.85" text-anchor="end" fill="#000" textLength="10.82" lengthAdjust="spacingAndGlyphs">3</text>
<text x="122.80" y="215.56" font-size="17.85" text-anchor="end" fill="#000" textLength="10.82" lengthAdjust="spacingAndGlyphs">4</text>
<text x="122.80" y="178.00" font-size="17.85" text-anchor="end" fill="#000" textLength="10.82" lengthAdjust="spacingAndGlyphs">5</text>
<text x="46.50" y="365.80" font-size="17.85" text-anchor="start" fill="#ff0000" textLength="16.95" lengthAdjust="spacingAndGlyphs">-1</text>
<text x="46.50" y="328.24" font-size="17.85" text-anchor="start" fill="#ff0000" textLength="10.82" lengthAdjust="spacingAndGlyphs">4</text>
<text x="46.50" y="290.68" font-size="17.85" text-anchor="start" fill="#ff0000" textLength="10.82" lengthAdjust="spacingAndGlyphs">9</text>
<text x="46.50" y="253.12" font-size="17.85" text-anchor="start" fill="#ff0000" textLength="21.63" lengthAdjust="spacingAndGlyphs">15</text>
<text x="46.50" y="215.56" font-size="17.85" text-anchor="start" fill="#ff0000" textLength="21.63" lengthAdjust="spacingAndGlyphs">20</text>
<text x="46.50" y="178.00" font-size="17.85" text-anchor="start" fill="#ff0000" textLength="21.63" lengthAdjust="spacingAndGlyphs">25</text>
<text x="1099.20" y="365.80" font-size="17.85" text-anchor="start" fill="#000" textLength="10.82" lengthAdjust="spacingAndGlyphs">0</text>
<text x="1099.20" y="328.24" font-size="17.85" text-anchor="start" fill="#000" textLength="27.04" lengthAdjust="spacingAndGlyphs">1.5</text>
<text x="1099.20" y="290.68" font-size="17.85" text-anchor="start" fill="#000" textLength="27.04" lengthAdjust="spacingAndGlyphs">3.5</text>
<text x="1099.20" y="253.12" font-size="17.85" text-anchor="start" fill="#000" textLength="27.04" lengthAdjust="spacingAndGlyphs">6.0</text>
<text x="1099.20" y="215.56" font-size="17.85" text-anchor="start" fill="#000" textLength="27.04" lengthAdjust="spacingAndGlyphs">9.0</text>
<text x="1099.20" y="178.00" font-size="17.85" text-anchor="start" fill="#000" textLength="21.63" lengthAdjust="spacingAndGlyphs">14</text>
<text x="101.20" y="262.00" font-size="20.37" text-anchor="middle" fill="#000" textLength="165.95" lengthAdjust="spacingAndGlyphs" transform="rotate(-90 101.20 262.00)">Padavine (mm/h)</text>
<text x="36.50" y="267.00" font-size="19.64" text-anchor="middle" fill="#ff0000" textLength="161.76" lengthAdjust="spacingAndGlyphs" transform="rotate(-90 36.50 267.00)">Temperatura (°C)</text>
<text x="1146.80" y="255.00" font-size="20.27" text-anchor="middle" fill="#000" textLength="189.89" lengthAdjust="spacingAndGlyphs" transform="rotate(-90 1146.80 255.00)">Višina oblakov (km)</text>
<rect x="127" y="390" width="32.2" height="11" fill="#0050ff"/>
<rect x="165" y="386" width="105" height="19.6" fill="#fff"/>
<text x="169.50" y="401.30" font-size="17.85" text-anchor="start" fill="#000" textLength="32.47" lengthAdjust="spacingAndGlyphs">Dež</text>
<rect x="277.8" y="389.8" width="32.4" height="11" fill="#10d9c7"/>
<rect x="310" y="386" width="110" height="19.6" fill="#fff"/>
<text x="319.50" y="401.30" font-size="17.85" text-anchor="start" fill="#000" textLength="112.78" lengthAdjust="spacingAndGlyphs">Možnost ploh</text>
<rect x="760" y="385.8" width="179.6" height="20" fill="#fff"/>
<text x="760.00" y="401.30" font-size="17.85" text-anchor="start" fill="#000" textLength="172.84" lengthAdjust="spacingAndGlyphs">Gostota oblakov (%)</text>
<rect x="949.00" y="385" width="29.2" height="13.6" fill="#cfcfcf"/>
<rect x="978.16" y="385" width="29.2" height="13.6" fill="#adadad"/>
<rect x="1007.32" y="385" width="29.2" height="13.6" fill="#8f8f8f"/>
<rect x="1036.48" y="385" width="29.2" height="13.6" fill="#737373"/>
<rect x="1065.64" y="385" width="29.2" height="13.6" fill="#585858"/>
<rect x="949.5" y="385.5" width="145" height="13" fill="none" stroke="#222" stroke-width="1"/>
<text x="949.80" y="414.60" font-size="15.96" text-anchor="middle" fill="#000" textLength="19.34" lengthAdjust="spacingAndGlyphs">10</text>
<text x="978.80" y="414.60" font-size="15.96" text-anchor="middle" fill="#000" textLength="19.34" lengthAdjust="spacingAndGlyphs">25</text>
<text x="1007.80" y="414.60" font-size="15.96" text-anchor="middle" fill="#000" textLength="19.34" lengthAdjust="spacingAndGlyphs">50</text>
<text x="1036.80" y="414.60" font-size="15.96" text-anchor="middle" fill="#000" textLength="19.34" lengthAdjust="spacingAndGlyphs">75</text>
<text x="1065.80" y="414.60" font-size="15.96" text-anchor="middle" fill="#000" textLength="19.34" lengthAdjust="spacingAndGlyphs">90</text>
<text x="1094.80" y="414.60" font-size="15.96" text-anchor="middle" fill="#000" textLength="29.01" lengthAdjust="spacingAndGlyphs">100</text>
<text x="9.5" y="21.5" font-size="16" fill="#0000ff">(kraj lahko izberete v meniju)</text>
<text x="399" y="37" font-size="24" fill="#0000ff">Zagreb 7 dni</text>
<text x="1142.5" y="21.5" font-size="16" fill="#0000ff" text-anchor="end">Zadnja posodobitev: 28.10.2025 - 22:09</text>
<text x="499" y="402" font-size="16" fill="#0000ff">© vreme.us &amp; vreme.pro</text>
</svg>
</body></html>
